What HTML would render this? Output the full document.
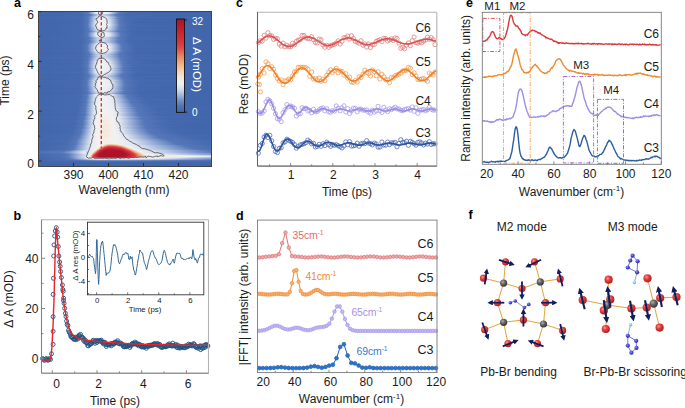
<!DOCTYPE html>
<html><head><meta charset="utf-8"><title>Figure</title>
<style>
html,body{margin:0;padding:0;background:#ffffff;width:685px;height:408px;overflow:hidden;}
svg{display:block;font-family:"Liberation Sans",sans-serif;}
</style></head><body>
<svg width="685" height="408" viewBox="0 0 685 408">
<defs>
<linearGradient id="h0" x1="38" x2="212" y1="0" y2="0" gradientUnits="userSpaceOnUse"><stop offset="0.000" stop-color="#4266ac"/><stop offset="0.247" stop-color="#4569ae"/><stop offset="0.287" stop-color="#5577b9"/><stop offset="0.305" stop-color="#839dce"/><stop offset="0.333" stop-color="#dce3f0"/><stop offset="0.345" stop-color="#eaedf2"/><stop offset="0.368" stop-color="#f1f1f2"/><stop offset="0.402" stop-color="#e4e9f2"/><stop offset="0.443" stop-color="#849ecf"/><stop offset="0.460" stop-color="#5d7ebd"/><stop offset="0.471" stop-color="#5275b7"/><stop offset="0.540" stop-color="#4367ad"/><stop offset="1.000" stop-color="#4266ac"/></linearGradient>
<linearGradient id="h1" x1="38" x2="212" y1="0" y2="0" gradientUnits="userSpaceOnUse"><stop offset="0.000" stop-color="#4266ac"/><stop offset="0.241" stop-color="#4568ae"/><stop offset="0.282" stop-color="#5275b7"/><stop offset="0.287" stop-color="#5678ba"/><stop offset="0.310" stop-color="#9bb1da"/><stop offset="0.333" stop-color="#e4e9f2"/><stop offset="0.362" stop-color="#f4f3f2"/><stop offset="0.397" stop-color="#eaedf2"/><stop offset="0.408" stop-color="#e1e6f1"/><stop offset="0.443" stop-color="#8aa3d2"/><stop offset="0.466" stop-color="#5678ba"/><stop offset="0.529" stop-color="#4468ae"/><stop offset="1.000" stop-color="#4266ac"/></linearGradient>
<linearGradient id="h2" x1="38" x2="212" y1="0" y2="0" gradientUnits="userSpaceOnUse"><stop offset="0.000" stop-color="#4367ac"/><stop offset="0.247" stop-color="#466aaf"/><stop offset="0.287" stop-color="#5577ba"/><stop offset="0.310" stop-color="#96acd7"/><stop offset="0.333" stop-color="#dbe2ef"/><stop offset="0.345" stop-color="#eaedf2"/><stop offset="0.374" stop-color="#eff0f2"/><stop offset="0.402" stop-color="#e3e8f2"/><stop offset="0.443" stop-color="#86a0d0"/><stop offset="0.466" stop-color="#5678ba"/><stop offset="0.529" stop-color="#4569ae"/><stop offset="1.000" stop-color="#4367ac"/></linearGradient>
<linearGradient id="h3" x1="38" x2="212" y1="0" y2="0" gradientUnits="userSpaceOnUse"><stop offset="0.000" stop-color="#4266ac"/><stop offset="0.259" stop-color="#4569ae"/><stop offset="0.299" stop-color="#5577b9"/><stop offset="0.339" stop-color="#b0c2e2"/><stop offset="0.356" stop-color="#c7d3e9"/><stop offset="0.379" stop-color="#c5d1e8"/><stop offset="0.408" stop-color="#a2b7dd"/><stop offset="0.448" stop-color="#5879bb"/><stop offset="0.506" stop-color="#4569ae"/><stop offset="1.000" stop-color="#4266ac"/></linearGradient>
<linearGradient id="h4" x1="38" x2="212" y1="0" y2="0" gradientUnits="userSpaceOnUse"><stop offset="0.000" stop-color="#4266ac"/><stop offset="0.253" stop-color="#4569ae"/><stop offset="0.299" stop-color="#5678ba"/><stop offset="0.339" stop-color="#b4c4e3"/><stop offset="0.356" stop-color="#cad5ea"/><stop offset="0.374" stop-color="#cbd6ea"/><stop offset="0.397" stop-color="#b7c7e4"/><stop offset="0.443" stop-color="#6786c2"/><stop offset="0.454" stop-color="#5577b9"/><stop offset="0.523" stop-color="#4468ad"/><stop offset="1.000" stop-color="#4266ac"/></linearGradient>
<linearGradient id="h5" x1="38" x2="212" y1="0" y2="0" gradientUnits="userSpaceOnUse"><stop offset="0.000" stop-color="#4367ad"/><stop offset="0.253" stop-color="#476bb0"/><stop offset="0.293" stop-color="#597abb"/><stop offset="0.328" stop-color="#b4c5e3"/><stop offset="0.345" stop-color="#d9e1ef"/><stop offset="0.356" stop-color="#e5eaf2"/><stop offset="0.385" stop-color="#e1e6f1"/><stop offset="0.408" stop-color="#c0cde7"/><stop offset="0.460" stop-color="#597bbb"/><stop offset="0.506" stop-color="#496cb1"/><stop offset="0.667" stop-color="#4367ad"/><stop offset="1.000" stop-color="#4367ad"/></linearGradient>
<linearGradient id="h6" x1="38" x2="212" y1="0" y2="0" gradientUnits="userSpaceOnUse"><stop offset="0.000" stop-color="#4468ad"/><stop offset="0.253" stop-color="#486cb0"/><stop offset="0.287" stop-color="#5678ba"/><stop offset="0.310" stop-color="#91a9d5"/><stop offset="0.339" stop-color="#e0e6f1"/><stop offset="0.362" stop-color="#eceef2"/><stop offset="0.397" stop-color="#e4e9f2"/><stop offset="0.431" stop-color="#a0b5dc"/><stop offset="0.466" stop-color="#587abb"/><stop offset="0.523" stop-color="#476bb0"/><stop offset="1.000" stop-color="#4468ad"/></linearGradient>
<linearGradient id="h7" x1="38" x2="212" y1="0" y2="0" gradientUnits="userSpaceOnUse"><stop offset="0.000" stop-color="#4266ac"/><stop offset="0.253" stop-color="#4569ae"/><stop offset="0.293" stop-color="#597abb"/><stop offset="0.328" stop-color="#bfcde6"/><stop offset="0.339" stop-color="#dde3f0"/><stop offset="0.351" stop-color="#e8ecf2"/><stop offset="0.379" stop-color="#eaedf2"/><stop offset="0.397" stop-color="#e1e7f1"/><stop offset="0.425" stop-color="#a7bbdf"/><stop offset="0.460" stop-color="#5a7bbc"/><stop offset="0.500" stop-color="#486bb0"/><stop offset="0.592" stop-color="#4266ac"/><stop offset="1.000" stop-color="#4266ac"/></linearGradient>
<linearGradient id="h8" x1="38" x2="212" y1="0" y2="0" gradientUnits="userSpaceOnUse"><stop offset="0.000" stop-color="#4367ac"/><stop offset="0.247" stop-color="#466aaf"/><stop offset="0.287" stop-color="#5678ba"/><stop offset="0.328" stop-color="#ced8eb"/><stop offset="0.339" stop-color="#e7ebf2"/><stop offset="0.368" stop-color="#f1f1f2"/><stop offset="0.402" stop-color="#e5eaf2"/><stop offset="0.431" stop-color="#a8bcdf"/><stop offset="0.466" stop-color="#5b7cbc"/><stop offset="0.494" stop-color="#4c6fb3"/><stop offset="0.598" stop-color="#4367ad"/><stop offset="1.000" stop-color="#4367ac"/></linearGradient>
<linearGradient id="h9" x1="38" x2="212" y1="0" y2="0" gradientUnits="userSpaceOnUse"><stop offset="0.000" stop-color="#4266ac"/><stop offset="0.247" stop-color="#4569ae"/><stop offset="0.287" stop-color="#5577b9"/><stop offset="0.299" stop-color="#718ec6"/><stop offset="0.328" stop-color="#ccd7eb"/><stop offset="0.339" stop-color="#e7ebf2"/><stop offset="0.368" stop-color="#f1f1f2"/><stop offset="0.402" stop-color="#e5eaf2"/><stop offset="0.437" stop-color="#99afd8"/><stop offset="0.466" stop-color="#5879bb"/><stop offset="0.517" stop-color="#4669af"/><stop offset="0.793" stop-color="#4266ac"/><stop offset="1.000" stop-color="#4266ac"/></linearGradient>
<linearGradient id="h10" x1="38" x2="212" y1="0" y2="0" gradientUnits="userSpaceOnUse"><stop offset="0.000" stop-color="#4266ac"/><stop offset="0.247" stop-color="#4569ae"/><stop offset="0.287" stop-color="#5577b9"/><stop offset="0.305" stop-color="#869fd0"/><stop offset="0.333" stop-color="#e1e7f1"/><stop offset="0.356" stop-color="#f1f1f2"/><stop offset="0.391" stop-color="#edeef2"/><stop offset="0.408" stop-color="#e0e6f1"/><stop offset="0.443" stop-color="#8ea6d4"/><stop offset="0.466" stop-color="#5a7cbc"/><stop offset="0.500" stop-color="#4a6db1"/><stop offset="0.592" stop-color="#4266ac"/><stop offset="1.000" stop-color="#4266ac"/></linearGradient>
<linearGradient id="h11" x1="38" x2="212" y1="0" y2="0" gradientUnits="userSpaceOnUse"><stop offset="0.000" stop-color="#4266ac"/><stop offset="0.247" stop-color="#4569ae"/><stop offset="0.287" stop-color="#5678ba"/><stop offset="0.310" stop-color="#9ab0d9"/><stop offset="0.333" stop-color="#e3e8f2"/><stop offset="0.356" stop-color="#f2f2f2"/><stop offset="0.391" stop-color="#edeff2"/><stop offset="0.408" stop-color="#e2e8f1"/><stop offset="0.448" stop-color="#829cce"/><stop offset="0.466" stop-color="#5c7dbd"/><stop offset="0.489" stop-color="#4e70b4"/><stop offset="0.557" stop-color="#4266ac"/><stop offset="1.000" stop-color="#4266ac"/></linearGradient>
<linearGradient id="h12" x1="38" x2="212" y1="0" y2="0" gradientUnits="userSpaceOnUse"><stop offset="0.000" stop-color="#4266ac"/><stop offset="0.241" stop-color="#4568ae"/><stop offset="0.287" stop-color="#5678ba"/><stop offset="0.328" stop-color="#d5dded"/><stop offset="0.333" stop-color="#e5e9f2"/><stop offset="0.362" stop-color="#f4f3f2"/><stop offset="0.397" stop-color="#ebeef2"/><stop offset="0.408" stop-color="#e4e9f2"/><stop offset="0.448" stop-color="#859fcf"/><stop offset="0.471" stop-color="#5577ba"/><stop offset="0.540" stop-color="#4468ad"/><stop offset="1.000" stop-color="#4266ac"/></linearGradient>
<linearGradient id="h13" x1="38" x2="212" y1="0" y2="0" gradientUnits="userSpaceOnUse"><stop offset="0.000" stop-color="#4367ad"/><stop offset="0.247" stop-color="#476bb0"/><stop offset="0.282" stop-color="#5476b9"/><stop offset="0.293" stop-color="#6b89c4"/><stop offset="0.328" stop-color="#d9e1ef"/><stop offset="0.333" stop-color="#e6eaf2"/><stop offset="0.356" stop-color="#f4f3f1"/><stop offset="0.391" stop-color="#f0f0f2"/><stop offset="0.408" stop-color="#e6eaf2"/><stop offset="0.431" stop-color="#b5c5e3"/><stop offset="0.471" stop-color="#5a7bbc"/><stop offset="0.506" stop-color="#4b6eb2"/><stop offset="0.609" stop-color="#4367ad"/><stop offset="1.000" stop-color="#4367ad"/></linearGradient>
<linearGradient id="h14" x1="38" x2="212" y1="0" y2="0" gradientUnits="userSpaceOnUse"><stop offset="0.000" stop-color="#4367ac"/><stop offset="0.247" stop-color="#476aaf"/><stop offset="0.282" stop-color="#5376b8"/><stop offset="0.287" stop-color="#5a7bbc"/><stop offset="0.328" stop-color="#d6deee"/><stop offset="0.333" stop-color="#e5eaf2"/><stop offset="0.362" stop-color="#f4f3f2"/><stop offset="0.397" stop-color="#eceef2"/><stop offset="0.408" stop-color="#e5eaf2"/><stop offset="0.443" stop-color="#97aed8"/><stop offset="0.471" stop-color="#597abb"/><stop offset="0.523" stop-color="#476bb0"/><stop offset="0.845" stop-color="#4367ac"/><stop offset="1.000" stop-color="#4367ac"/></linearGradient>
<linearGradient id="h15" x1="38" x2="212" y1="0" y2="0" gradientUnits="userSpaceOnUse"><stop offset="0.000" stop-color="#4266ac"/><stop offset="0.247" stop-color="#466aaf"/><stop offset="0.287" stop-color="#5678ba"/><stop offset="0.316" stop-color="#acbfe0"/><stop offset="0.333" stop-color="#e0e6f1"/><stop offset="0.351" stop-color="#eff0f2"/><stop offset="0.385" stop-color="#eef0f2"/><stop offset="0.408" stop-color="#e1e6f1"/><stop offset="0.454" stop-color="#7894ca"/><stop offset="0.471" stop-color="#5678ba"/><stop offset="0.540" stop-color="#4468ae"/><stop offset="1.000" stop-color="#4266ac"/></linearGradient>
<linearGradient id="h16" x1="38" x2="212" y1="0" y2="0" gradientUnits="userSpaceOnUse"><stop offset="0.000" stop-color="#4266ac"/><stop offset="0.241" stop-color="#4568ae"/><stop offset="0.287" stop-color="#5577b9"/><stop offset="0.305" stop-color="#829cce"/><stop offset="0.328" stop-color="#c9d5ea"/><stop offset="0.339" stop-color="#e5eaf2"/><stop offset="0.368" stop-color="#eff0f2"/><stop offset="0.402" stop-color="#e4e9f2"/><stop offset="0.443" stop-color="#8ea6d4"/><stop offset="0.466" stop-color="#5d7ebd"/><stop offset="0.477" stop-color="#5375b8"/><stop offset="0.540" stop-color="#4468ad"/><stop offset="1.000" stop-color="#4266ac"/></linearGradient>
<linearGradient id="h17" x1="38" x2="212" y1="0" y2="0" gradientUnits="userSpaceOnUse"><stop offset="0.000" stop-color="#4266ac"/><stop offset="0.247" stop-color="#4669af"/><stop offset="0.287" stop-color="#5577b9"/><stop offset="0.299" stop-color="#6f8cc5"/><stop offset="0.328" stop-color="#c4d1e8"/><stop offset="0.339" stop-color="#e1e7f1"/><stop offset="0.362" stop-color="#edeef2"/><stop offset="0.397" stop-color="#e5eaf2"/><stop offset="0.420" stop-color="#bdcce6"/><stop offset="0.466" stop-color="#5c7dbd"/><stop offset="0.489" stop-color="#4e71b5"/><stop offset="0.569" stop-color="#4367ad"/><stop offset="1.000" stop-color="#4266ac"/></linearGradient>
<linearGradient id="h18" x1="38" x2="212" y1="0" y2="0" gradientUnits="userSpaceOnUse"><stop offset="0.000" stop-color="#4266ac"/><stop offset="0.247" stop-color="#4569ae"/><stop offset="0.287" stop-color="#5476b8"/><stop offset="0.293" stop-color="#5a7cbc"/><stop offset="0.328" stop-color="#bbc9e5"/><stop offset="0.345" stop-color="#e1e7f1"/><stop offset="0.368" stop-color="#e9ecf2"/><stop offset="0.391" stop-color="#e4e9f2"/><stop offset="0.420" stop-color="#b5c5e3"/><stop offset="0.466" stop-color="#587abb"/><stop offset="0.529" stop-color="#4569ae"/><stop offset="1.000" stop-color="#4266ac"/></linearGradient>
<linearGradient id="h19" x1="38" x2="212" y1="0" y2="0" gradientUnits="userSpaceOnUse"><stop offset="0.000" stop-color="#4367ad"/><stop offset="0.253" stop-color="#476bb0"/><stop offset="0.293" stop-color="#5879bb"/><stop offset="0.333" stop-color="#becce6"/><stop offset="0.351" stop-color="#dce3f0"/><stop offset="0.368" stop-color="#e4e9f2"/><stop offset="0.391" stop-color="#d6dfee"/><stop offset="0.420" stop-color="#abbee0"/><stop offset="0.466" stop-color="#5678ba"/><stop offset="0.540" stop-color="#4569ae"/><stop offset="1.000" stop-color="#4367ad"/></linearGradient>
<linearGradient id="h20" x1="38" x2="212" y1="0" y2="0" gradientUnits="userSpaceOnUse"><stop offset="0.000" stop-color="#4266ac"/><stop offset="0.253" stop-color="#4569ae"/><stop offset="0.299" stop-color="#587abb"/><stop offset="0.339" stop-color="#b5c5e3"/><stop offset="0.356" stop-color="#cbd6ea"/><stop offset="0.379" stop-color="#c9d5ea"/><stop offset="0.408" stop-color="#abbee0"/><stop offset="0.460" stop-color="#5577b9"/><stop offset="0.540" stop-color="#4367ad"/><stop offset="1.000" stop-color="#4266ac"/></linearGradient>
<linearGradient id="h21" x1="38" x2="212" y1="0" y2="0" gradientUnits="userSpaceOnUse"><stop offset="0.000" stop-color="#4266ac"/><stop offset="0.247" stop-color="#4669af"/><stop offset="0.287" stop-color="#5477b9"/><stop offset="0.299" stop-color="#6d8bc4"/><stop offset="0.328" stop-color="#c0cee7"/><stop offset="0.339" stop-color="#dde3f0"/><stop offset="0.351" stop-color="#e8ecf2"/><stop offset="0.385" stop-color="#e8ecf2"/><stop offset="0.397" stop-color="#e3e8f2"/><stop offset="0.431" stop-color="#a4b8dd"/><stop offset="0.466" stop-color="#5d7ebd"/><stop offset="0.477" stop-color="#5375b8"/><stop offset="0.557" stop-color="#4367ad"/><stop offset="1.000" stop-color="#4266ac"/></linearGradient>
<linearGradient id="h22" x1="38" x2="212" y1="0" y2="0" gradientUnits="userSpaceOnUse"><stop offset="0.000" stop-color="#4266ac"/><stop offset="0.247" stop-color="#466aaf"/><stop offset="0.287" stop-color="#5678ba"/><stop offset="0.328" stop-color="#d0daec"/><stop offset="0.333" stop-color="#e1e7f1"/><stop offset="0.356" stop-color="#f1f1f2"/><stop offset="0.397" stop-color="#eaedf2"/><stop offset="0.408" stop-color="#e3e8f2"/><stop offset="0.448" stop-color="#8aa3d2"/><stop offset="0.471" stop-color="#5a7cbc"/><stop offset="0.517" stop-color="#486bb0"/><stop offset="0.667" stop-color="#4266ac"/><stop offset="1.000" stop-color="#4266ac"/></linearGradient>
<linearGradient id="h23" x1="38" x2="212" y1="0" y2="0" gradientUnits="userSpaceOnUse"><stop offset="0.000" stop-color="#4266ac"/><stop offset="0.247" stop-color="#466aaf"/><stop offset="0.282" stop-color="#5376b8"/><stop offset="0.287" stop-color="#597bbb"/><stop offset="0.328" stop-color="#d7dfee"/><stop offset="0.333" stop-color="#e5eaf2"/><stop offset="0.362" stop-color="#f4f2f1"/><stop offset="0.397" stop-color="#eceef2"/><stop offset="0.414" stop-color="#dee5f0"/><stop offset="0.454" stop-color="#829cce"/><stop offset="0.477" stop-color="#5577ba"/><stop offset="0.546" stop-color="#4468ae"/><stop offset="1.000" stop-color="#4266ac"/></linearGradient>
<linearGradient id="h24" x1="38" x2="212" y1="0" y2="0" gradientUnits="userSpaceOnUse"><stop offset="0.000" stop-color="#4266ac"/><stop offset="0.247" stop-color="#466aaf"/><stop offset="0.282" stop-color="#5376b8"/><stop offset="0.287" stop-color="#597bbb"/><stop offset="0.328" stop-color="#d5dded"/><stop offset="0.333" stop-color="#e4e9f2"/><stop offset="0.362" stop-color="#f4f3f2"/><stop offset="0.402" stop-color="#e9ecf2"/><stop offset="0.414" stop-color="#dde3f0"/><stop offset="0.454" stop-color="#829cce"/><stop offset="0.477" stop-color="#5678ba"/><stop offset="0.540" stop-color="#4569ae"/><stop offset="1.000" stop-color="#4266ac"/></linearGradient>
<linearGradient id="h25" x1="38" x2="212" y1="0" y2="0" gradientUnits="userSpaceOnUse"><stop offset="0.000" stop-color="#4266ac"/><stop offset="0.247" stop-color="#466aaf"/><stop offset="0.287" stop-color="#5577ba"/><stop offset="0.316" stop-color="#a6bade"/><stop offset="0.339" stop-color="#e4e9f2"/><stop offset="0.368" stop-color="#eeeff2"/><stop offset="0.402" stop-color="#e3e9f2"/><stop offset="0.448" stop-color="#87a0d0"/><stop offset="0.471" stop-color="#597bbc"/><stop offset="0.529" stop-color="#466aaf"/><stop offset="1.000" stop-color="#4266ac"/></linearGradient>
<linearGradient id="h26" x1="38" x2="212" y1="0" y2="0" gradientUnits="userSpaceOnUse"><stop offset="0.000" stop-color="#4367ad"/><stop offset="0.247" stop-color="#476aaf"/><stop offset="0.293" stop-color="#5678ba"/><stop offset="0.333" stop-color="#b6c6e3"/><stop offset="0.356" stop-color="#d7dfee"/><stop offset="0.379" stop-color="#d6deee"/><stop offset="0.408" stop-color="#b8c8e4"/><stop offset="0.466" stop-color="#5879bb"/><stop offset="0.534" stop-color="#466aaf"/><stop offset="1.000" stop-color="#4367ad"/></linearGradient>
<linearGradient id="h27" x1="38" x2="212" y1="0" y2="0" gradientUnits="userSpaceOnUse"><stop offset="0.000" stop-color="#4266ac"/><stop offset="0.253" stop-color="#466aaf"/><stop offset="0.293" stop-color="#5476b9"/><stop offset="0.305" stop-color="#6887c2"/><stop offset="0.339" stop-color="#b7c7e4"/><stop offset="0.356" stop-color="#cdd7eb"/><stop offset="0.379" stop-color="#ccd6ea"/><stop offset="0.408" stop-color="#afc0e1"/><stop offset="0.460" stop-color="#597bbc"/><stop offset="0.523" stop-color="#466aaf"/><stop offset="0.937" stop-color="#4266ac"/><stop offset="1.000" stop-color="#4266ac"/></linearGradient>
<linearGradient id="h28" x1="38" x2="212" y1="0" y2="0" gradientUnits="userSpaceOnUse"><stop offset="0.000" stop-color="#4467ad"/><stop offset="0.253" stop-color="#486bb0"/><stop offset="0.293" stop-color="#5678ba"/><stop offset="0.339" stop-color="#bdcce6"/><stop offset="0.356" stop-color="#d3dced"/><stop offset="0.379" stop-color="#d2dbec"/><stop offset="0.408" stop-color="#b5c5e3"/><stop offset="0.466" stop-color="#5879bb"/><stop offset="0.529" stop-color="#476bb0"/><stop offset="1.000" stop-color="#4467ad"/></linearGradient>
<linearGradient id="h29" x1="38" x2="212" y1="0" y2="0" gradientUnits="userSpaceOnUse"><stop offset="0.000" stop-color="#4266ac"/><stop offset="0.253" stop-color="#4669af"/><stop offset="0.293" stop-color="#5476b9"/><stop offset="0.305" stop-color="#6786c2"/><stop offset="0.339" stop-color="#b6c6e3"/><stop offset="0.356" stop-color="#ccd7ea"/><stop offset="0.379" stop-color="#cbd6ea"/><stop offset="0.408" stop-color="#aec0e1"/><stop offset="0.460" stop-color="#5a7bbc"/><stop offset="0.517" stop-color="#476aaf"/><stop offset="0.707" stop-color="#4266ac"/><stop offset="1.000" stop-color="#4266ac"/></linearGradient>
<linearGradient id="h30" x1="38" x2="212" y1="0" y2="0" gradientUnits="userSpaceOnUse"><stop offset="0.000" stop-color="#4266ac"/><stop offset="0.247" stop-color="#4568ae"/><stop offset="0.293" stop-color="#5476b8"/><stop offset="0.299" stop-color="#597bbc"/><stop offset="0.339" stop-color="#b6c6e3"/><stop offset="0.356" stop-color="#cbd6ea"/><stop offset="0.379" stop-color="#cad5ea"/><stop offset="0.408" stop-color="#aec0e1"/><stop offset="0.460" stop-color="#5a7bbc"/><stop offset="0.517" stop-color="#476aaf"/><stop offset="0.690" stop-color="#4266ac"/><stop offset="1.000" stop-color="#4266ac"/></linearGradient>
<linearGradient id="h31" x1="38" x2="212" y1="0" y2="0" gradientUnits="userSpaceOnUse"><stop offset="0.000" stop-color="#4266ac"/><stop offset="0.253" stop-color="#466aaf"/><stop offset="0.293" stop-color="#5477b9"/><stop offset="0.305" stop-color="#6988c3"/><stop offset="0.339" stop-color="#b8c7e4"/><stop offset="0.356" stop-color="#cdd8eb"/><stop offset="0.379" stop-color="#ccd7eb"/><stop offset="0.408" stop-color="#b0c2e2"/><stop offset="0.466" stop-color="#5577ba"/><stop offset="0.552" stop-color="#4468ad"/><stop offset="1.000" stop-color="#4266ac"/></linearGradient>
<linearGradient id="h32" x1="38" x2="212" y1="0" y2="0" gradientUnits="userSpaceOnUse"><stop offset="0.000" stop-color="#4266ac"/><stop offset="0.247" stop-color="#466aaf"/><stop offset="0.287" stop-color="#5477b9"/><stop offset="0.299" stop-color="#6c8ac4"/><stop offset="0.333" stop-color="#cad5ea"/><stop offset="0.345" stop-color="#e2e7f1"/><stop offset="0.374" stop-color="#e9ecf2"/><stop offset="0.397" stop-color="#dfe5f0"/><stop offset="0.431" stop-color="#a6b9de"/><stop offset="0.471" stop-color="#597bbb"/><stop offset="0.523" stop-color="#486bb0"/><stop offset="0.707" stop-color="#4266ac"/><stop offset="1.000" stop-color="#4266ac"/></linearGradient>
<linearGradient id="h33" x1="38" x2="212" y1="0" y2="0" gradientUnits="userSpaceOnUse"><stop offset="0.000" stop-color="#4266ac"/><stop offset="0.247" stop-color="#466aaf"/><stop offset="0.287" stop-color="#5678ba"/><stop offset="0.322" stop-color="#b7c7e4"/><stop offset="0.339" stop-color="#e4e9f2"/><stop offset="0.368" stop-color="#eeeff2"/><stop offset="0.402" stop-color="#e4e9f2"/><stop offset="0.437" stop-color="#a4b8de"/><stop offset="0.477" stop-color="#5678ba"/><stop offset="0.546" stop-color="#4569ae"/><stop offset="1.000" stop-color="#4266ac"/></linearGradient>
<linearGradient id="h34" x1="38" x2="212" y1="0" y2="0" gradientUnits="userSpaceOnUse"><stop offset="0.000" stop-color="#4367ad"/><stop offset="0.241" stop-color="#466aaf"/><stop offset="0.282" stop-color="#5476b9"/><stop offset="0.293" stop-color="#6b8ac4"/><stop offset="0.328" stop-color="#d4dded"/><stop offset="0.333" stop-color="#e4e9f2"/><stop offset="0.368" stop-color="#f3f2f2"/><stop offset="0.408" stop-color="#e6eaf2"/><stop offset="0.443" stop-color="#a3b8dd"/><stop offset="0.477" stop-color="#5e7ebd"/><stop offset="0.489" stop-color="#5376b8"/><stop offset="0.569" stop-color="#4568ae"/><stop offset="1.000" stop-color="#4367ad"/></linearGradient>
<linearGradient id="h35" x1="38" x2="212" y1="0" y2="0" gradientUnits="userSpaceOnUse"><stop offset="0.000" stop-color="#4367ad"/><stop offset="0.241" stop-color="#466aaf"/><stop offset="0.282" stop-color="#5577b9"/><stop offset="0.293" stop-color="#6e8bc5"/><stop offset="0.328" stop-color="#d9e0ee"/><stop offset="0.333" stop-color="#e6eaf2"/><stop offset="0.362" stop-color="#f4f2f1"/><stop offset="0.397" stop-color="#edeff2"/><stop offset="0.414" stop-color="#e4e9f2"/><stop offset="0.460" stop-color="#829cce"/><stop offset="0.483" stop-color="#5678ba"/><stop offset="0.557" stop-color="#4569ae"/><stop offset="1.000" stop-color="#4367ad"/></linearGradient>
<linearGradient id="h36" x1="38" x2="212" y1="0" y2="0" gradientUnits="userSpaceOnUse"><stop offset="0.000" stop-color="#4266ac"/><stop offset="0.247" stop-color="#476aaf"/><stop offset="0.282" stop-color="#5476b9"/><stop offset="0.293" stop-color="#6d8bc4"/><stop offset="0.328" stop-color="#d9e1ef"/><stop offset="0.333" stop-color="#e6eaf2"/><stop offset="0.356" stop-color="#f4f3f2"/><stop offset="0.397" stop-color="#eeeff2"/><stop offset="0.414" stop-color="#e4e9f2"/><stop offset="0.460" stop-color="#829cce"/><stop offset="0.483" stop-color="#5678ba"/><stop offset="0.552" stop-color="#4569ae"/><stop offset="1.000" stop-color="#4266ac"/></linearGradient>
<linearGradient id="h37" x1="38" x2="212" y1="0" y2="0" gradientUnits="userSpaceOnUse"><stop offset="0.000" stop-color="#4266ac"/><stop offset="0.247" stop-color="#466aaf"/><stop offset="0.282" stop-color="#5376b8"/><stop offset="0.287" stop-color="#5a7bbc"/><stop offset="0.328" stop-color="#d7dfee"/><stop offset="0.333" stop-color="#e5eaf2"/><stop offset="0.362" stop-color="#f4f3f2"/><stop offset="0.402" stop-color="#eaedf2"/><stop offset="0.414" stop-color="#e3e8f2"/><stop offset="0.460" stop-color="#7f9acd"/><stop offset="0.483" stop-color="#5577b9"/><stop offset="0.557" stop-color="#4468ad"/><stop offset="1.000" stop-color="#4266ac"/></linearGradient>
<linearGradient id="h38" x1="38" x2="212" y1="0" y2="0" gradientUnits="userSpaceOnUse"><stop offset="0.000" stop-color="#4266ac"/><stop offset="0.247" stop-color="#466aaf"/><stop offset="0.282" stop-color="#5476b8"/><stop offset="0.287" stop-color="#5a7bbc"/><stop offset="0.328" stop-color="#d6deee"/><stop offset="0.333" stop-color="#e5e9f2"/><stop offset="0.362" stop-color="#f4f3f2"/><stop offset="0.408" stop-color="#e7ebf2"/><stop offset="0.420" stop-color="#d7dfee"/><stop offset="0.477" stop-color="#5e7fbe"/><stop offset="0.489" stop-color="#5375b8"/><stop offset="0.569" stop-color="#4367ad"/><stop offset="1.000" stop-color="#4266ac"/></linearGradient>
<linearGradient id="h39" x1="38" x2="212" y1="0" y2="0" gradientUnits="userSpaceOnUse"><stop offset="0.000" stop-color="#4367ad"/><stop offset="0.241" stop-color="#476aaf"/><stop offset="0.282" stop-color="#5577b9"/><stop offset="0.293" stop-color="#6e8bc5"/><stop offset="0.328" stop-color="#d7dfee"/><stop offset="0.333" stop-color="#e5eaf2"/><stop offset="0.362" stop-color="#f4f3f2"/><stop offset="0.408" stop-color="#e7ebf2"/><stop offset="0.420" stop-color="#d8e0ee"/><stop offset="0.477" stop-color="#6383c0"/><stop offset="0.489" stop-color="#5477b9"/><stop offset="0.563" stop-color="#4569ae"/><stop offset="1.000" stop-color="#4367ad"/></linearGradient>
<linearGradient id="h40" x1="38" x2="212" y1="0" y2="0" gradientUnits="userSpaceOnUse"><stop offset="0.000" stop-color="#4266ac"/><stop offset="0.247" stop-color="#466aaf"/><stop offset="0.287" stop-color="#5779ba"/><stop offset="0.322" stop-color="#bbcae5"/><stop offset="0.339" stop-color="#e6eaf2"/><stop offset="0.374" stop-color="#eff0f2"/><stop offset="0.408" stop-color="#e1e7f1"/><stop offset="0.448" stop-color="#93aad6"/><stop offset="0.477" stop-color="#5c7dbd"/><stop offset="0.494" stop-color="#5173b6"/><stop offset="0.575" stop-color="#4367ad"/><stop offset="1.000" stop-color="#4266ac"/></linearGradient>
<linearGradient id="h41" x1="38" x2="212" y1="0" y2="0" gradientUnits="userSpaceOnUse"><stop offset="0.000" stop-color="#4266ac"/><stop offset="0.247" stop-color="#4568ae"/><stop offset="0.287" stop-color="#5476b8"/><stop offset="0.293" stop-color="#5b7cbc"/><stop offset="0.328" stop-color="#bccae5"/><stop offset="0.345" stop-color="#e2e8f2"/><stop offset="0.374" stop-color="#e9ecf2"/><stop offset="0.397" stop-color="#e0e6f1"/><stop offset="0.431" stop-color="#a8bbdf"/><stop offset="0.471" stop-color="#5b7cbc"/><stop offset="0.506" stop-color="#4b6eb2"/><stop offset="0.598" stop-color="#4266ac"/><stop offset="1.000" stop-color="#4266ac"/></linearGradient>
<linearGradient id="h42" x1="38" x2="212" y1="0" y2="0" gradientUnits="userSpaceOnUse"><stop offset="0.000" stop-color="#4266ac"/><stop offset="0.247" stop-color="#4569ae"/><stop offset="0.293" stop-color="#5678ba"/><stop offset="0.333" stop-color="#bbcae5"/><stop offset="0.351" stop-color="#d9e1ef"/><stop offset="0.368" stop-color="#e2e7f1"/><stop offset="0.391" stop-color="#d5deed"/><stop offset="0.420" stop-color="#b0c1e1"/><stop offset="0.471" stop-color="#5678ba"/><stop offset="0.552" stop-color="#4468ad"/><stop offset="1.000" stop-color="#4266ac"/></linearGradient>
<linearGradient id="h43" x1="38" x2="212" y1="0" y2="0" gradientUnits="userSpaceOnUse"><stop offset="0.000" stop-color="#4266ac"/><stop offset="0.247" stop-color="#4568ae"/><stop offset="0.293" stop-color="#5476b9"/><stop offset="0.299" stop-color="#5a7cbc"/><stop offset="0.339" stop-color="#b6c6e3"/><stop offset="0.356" stop-color="#cbd6ea"/><stop offset="0.379" stop-color="#cad5ea"/><stop offset="0.408" stop-color="#b0c2e2"/><stop offset="0.466" stop-color="#5879bb"/><stop offset="0.534" stop-color="#4569ae"/><stop offset="1.000" stop-color="#4266ac"/></linearGradient>
<linearGradient id="h44" x1="38" x2="212" y1="0" y2="0" gradientUnits="userSpaceOnUse"><stop offset="0.000" stop-color="#4367ad"/><stop offset="0.253" stop-color="#476bb0"/><stop offset="0.293" stop-color="#5678ba"/><stop offset="0.333" stop-color="#b2c3e2"/><stop offset="0.356" stop-color="#d1dbec"/><stop offset="0.379" stop-color="#d1daec"/><stop offset="0.414" stop-color="#b0c1e1"/><stop offset="0.471" stop-color="#5779ba"/><stop offset="0.546" stop-color="#466aaf"/><stop offset="1.000" stop-color="#4367ad"/></linearGradient>
<linearGradient id="h45" x1="38" x2="212" y1="0" y2="0" gradientUnits="userSpaceOnUse"><stop offset="0.000" stop-color="#4266ac"/><stop offset="0.253" stop-color="#466aaf"/><stop offset="0.293" stop-color="#5477b9"/><stop offset="0.305" stop-color="#6a88c3"/><stop offset="0.339" stop-color="#b8c7e4"/><stop offset="0.356" stop-color="#cdd7eb"/><stop offset="0.379" stop-color="#ccd7ea"/><stop offset="0.414" stop-color="#abbee0"/><stop offset="0.471" stop-color="#5577b9"/><stop offset="0.557" stop-color="#4468ad"/><stop offset="1.000" stop-color="#4266ac"/></linearGradient>
<linearGradient id="h46" x1="38" x2="212" y1="0" y2="0" gradientUnits="userSpaceOnUse"><stop offset="0.000" stop-color="#4468ae"/><stop offset="0.247" stop-color="#486bb0"/><stop offset="0.287" stop-color="#5476b9"/><stop offset="0.299" stop-color="#6685c1"/><stop offset="0.333" stop-color="#b6c6e3"/><stop offset="0.351" stop-color="#d1daec"/><stop offset="0.368" stop-color="#d8e0ee"/><stop offset="0.391" stop-color="#cdd8eb"/><stop offset="0.425" stop-color="#a4b8de"/><stop offset="0.477" stop-color="#5678ba"/><stop offset="0.557" stop-color="#466aaf"/><stop offset="1.000" stop-color="#4468ae"/></linearGradient>
<linearGradient id="h47" x1="38" x2="212" y1="0" y2="0" gradientUnits="userSpaceOnUse"><stop offset="0.000" stop-color="#4367ac"/><stop offset="0.253" stop-color="#476bb0"/><stop offset="0.287" stop-color="#5476b8"/><stop offset="0.299" stop-color="#6786c2"/><stop offset="0.333" stop-color="#becce6"/><stop offset="0.351" stop-color="#dbe2ef"/><stop offset="0.368" stop-color="#e3e8f2"/><stop offset="0.397" stop-color="#d2dbec"/><stop offset="0.431" stop-color="#a1b6dc"/><stop offset="0.477" stop-color="#5678ba"/><stop offset="0.557" stop-color="#4569ae"/><stop offset="1.000" stop-color="#4367ac"/></linearGradient>
<linearGradient id="h48" x1="38" x2="212" y1="0" y2="0" gradientUnits="userSpaceOnUse"><stop offset="0.000" stop-color="#4266ac"/><stop offset="0.247" stop-color="#466aaf"/><stop offset="0.287" stop-color="#5577b9"/><stop offset="0.299" stop-color="#6c8ac4"/><stop offset="0.333" stop-color="#c9d5e9"/><stop offset="0.345" stop-color="#e0e6f1"/><stop offset="0.368" stop-color="#e8ecf2"/><stop offset="0.397" stop-color="#dfe5f0"/><stop offset="0.431" stop-color="#abbee0"/><stop offset="0.477" stop-color="#597bbb"/><stop offset="0.534" stop-color="#476bb0"/><stop offset="0.782" stop-color="#4266ac"/><stop offset="1.000" stop-color="#4266ac"/></linearGradient>
<linearGradient id="h49" x1="38" x2="212" y1="0" y2="0" gradientUnits="userSpaceOnUse"><stop offset="0.000" stop-color="#4266ac"/><stop offset="0.247" stop-color="#4669af"/><stop offset="0.287" stop-color="#5577b9"/><stop offset="0.305" stop-color="#7f9acd"/><stop offset="0.333" stop-color="#d0daec"/><stop offset="0.345" stop-color="#e5eaf2"/><stop offset="0.379" stop-color="#eaedf2"/><stop offset="0.402" stop-color="#e0e6f1"/><stop offset="0.448" stop-color="#90a8d4"/><stop offset="0.477" stop-color="#5b7cbc"/><stop offset="0.511" stop-color="#4c6fb3"/><stop offset="0.609" stop-color="#4266ac"/><stop offset="1.000" stop-color="#4266ac"/></linearGradient>
<linearGradient id="h50" x1="38" x2="212" y1="0" y2="0" gradientUnits="userSpaceOnUse"><stop offset="0.000" stop-color="#4367ad"/><stop offset="0.247" stop-color="#476bb0"/><stop offset="0.282" stop-color="#5476b8"/><stop offset="0.287" stop-color="#5a7cbc"/><stop offset="0.333" stop-color="#dde3f0"/><stop offset="0.345" stop-color="#eaecf2"/><stop offset="0.379" stop-color="#eeeff2"/><stop offset="0.408" stop-color="#e4e9f2"/><stop offset="0.454" stop-color="#8fa7d4"/><stop offset="0.483" stop-color="#5b7cbc"/><stop offset="0.517" stop-color="#4c6fb3"/><stop offset="0.632" stop-color="#4367ad"/><stop offset="1.000" stop-color="#4367ad"/></linearGradient>
<linearGradient id="h51" x1="38" x2="212" y1="0" y2="0" gradientUnits="userSpaceOnUse"><stop offset="0.000" stop-color="#4266ac"/><stop offset="0.247" stop-color="#466aaf"/><stop offset="0.287" stop-color="#587abb"/><stop offset="0.328" stop-color="#ced8eb"/><stop offset="0.333" stop-color="#dee4f0"/><stop offset="0.351" stop-color="#edeff2"/><stop offset="0.385" stop-color="#eeeff2"/><stop offset="0.408" stop-color="#e5e9f2"/><stop offset="0.448" stop-color="#9bb1d9"/><stop offset="0.483" stop-color="#5a7bbc"/><stop offset="0.523" stop-color="#4a6db2"/><stop offset="0.638" stop-color="#4266ac"/><stop offset="1.000" stop-color="#4266ac"/></linearGradient>
<linearGradient id="h52" x1="38" x2="212" y1="0" y2="0" gradientUnits="userSpaceOnUse"><stop offset="0.000" stop-color="#4266ac"/><stop offset="0.241" stop-color="#4568ae"/><stop offset="0.282" stop-color="#5375b8"/><stop offset="0.287" stop-color="#5879bb"/><stop offset="0.328" stop-color="#d0daec"/><stop offset="0.333" stop-color="#e0e6f1"/><stop offset="0.356" stop-color="#f0f1f2"/><stop offset="0.397" stop-color="#ebedf2"/><stop offset="0.414" stop-color="#dfe5f1"/><stop offset="0.460" stop-color="#849ecf"/><stop offset="0.483" stop-color="#5a7bbc"/><stop offset="0.523" stop-color="#4a6db2"/><stop offset="0.626" stop-color="#4266ac"/><stop offset="1.000" stop-color="#4266ac"/></linearGradient>
<linearGradient id="h53" x1="38" x2="212" y1="0" y2="0" gradientUnits="userSpaceOnUse"><stop offset="0.000" stop-color="#4367ac"/><stop offset="0.241" stop-color="#466aaf"/><stop offset="0.282" stop-color="#5577b9"/><stop offset="0.293" stop-color="#6e8cc5"/><stop offset="0.328" stop-color="#d8e0ee"/><stop offset="0.333" stop-color="#e5eaf2"/><stop offset="0.362" stop-color="#f4f3f2"/><stop offset="0.408" stop-color="#e8ecf2"/><stop offset="0.420" stop-color="#dee4f0"/><stop offset="0.466" stop-color="#819bce"/><stop offset="0.489" stop-color="#5879bb"/><stop offset="0.546" stop-color="#476bb0"/><stop offset="0.914" stop-color="#4367ac"/><stop offset="1.000" stop-color="#4367ac"/></linearGradient>
<linearGradient id="h54" x1="38" x2="212" y1="0" y2="0" gradientUnits="userSpaceOnUse"><stop offset="0.000" stop-color="#4266ac"/><stop offset="0.241" stop-color="#4669af"/><stop offset="0.282" stop-color="#5476b9"/><stop offset="0.293" stop-color="#6d8bc4"/><stop offset="0.322" stop-color="#c7d3e9"/><stop offset="0.333" stop-color="#e5eaf2"/><stop offset="0.362" stop-color="#f4f3f2"/><stop offset="0.402" stop-color="#ebeef2"/><stop offset="0.420" stop-color="#dee5f0"/><stop offset="0.460" stop-color="#8ca5d3"/><stop offset="0.489" stop-color="#5779ba"/><stop offset="0.557" stop-color="#4569ae"/><stop offset="1.000" stop-color="#4266ac"/></linearGradient>
<linearGradient id="h55" x1="38" x2="212" y1="0" y2="0" gradientUnits="userSpaceOnUse"><stop offset="0.000" stop-color="#4367ad"/><stop offset="0.241" stop-color="#476aaf"/><stop offset="0.282" stop-color="#5678ba"/><stop offset="0.299" stop-color="#839dcf"/><stop offset="0.328" stop-color="#dee4f0"/><stop offset="0.345" stop-color="#f0f0f2"/><stop offset="0.379" stop-color="#f4f2f0"/><stop offset="0.420" stop-color="#e4e9f2"/><stop offset="0.466" stop-color="#87a0d0"/><stop offset="0.494" stop-color="#5577ba"/><stop offset="0.575" stop-color="#4569ae"/><stop offset="1.000" stop-color="#4367ad"/></linearGradient>
<linearGradient id="h56" x1="38" x2="212" y1="0" y2="0" gradientUnits="userSpaceOnUse"><stop offset="0.000" stop-color="#4266ac"/><stop offset="0.241" stop-color="#4669af"/><stop offset="0.282" stop-color="#5476b9"/><stop offset="0.293" stop-color="#6d8bc5"/><stop offset="0.328" stop-color="#d9e1ef"/><stop offset="0.333" stop-color="#e6eaf2"/><stop offset="0.362" stop-color="#f4f2f1"/><stop offset="0.408" stop-color="#e9ecf2"/><stop offset="0.420" stop-color="#e0e6f1"/><stop offset="0.489" stop-color="#587abb"/><stop offset="0.552" stop-color="#466aaf"/><stop offset="1.000" stop-color="#4266ac"/></linearGradient>
<linearGradient id="h57" x1="38" x2="212" y1="0" y2="0" gradientUnits="userSpaceOnUse"><stop offset="0.000" stop-color="#4266ac"/><stop offset="0.253" stop-color="#4569ae"/><stop offset="0.287" stop-color="#5577b9"/><stop offset="0.305" stop-color="#859fcf"/><stop offset="0.328" stop-color="#ced8eb"/><stop offset="0.339" stop-color="#e7ebf2"/><stop offset="0.368" stop-color="#f1f1f2"/><stop offset="0.408" stop-color="#e5eaf2"/><stop offset="0.425" stop-color="#cad5ea"/><stop offset="0.483" stop-color="#5779bb"/><stop offset="0.552" stop-color="#4367ad"/><stop offset="1.000" stop-color="#4266ac"/></linearGradient>
<linearGradient id="h58" x1="38" x2="212" y1="0" y2="0" gradientUnits="userSpaceOnUse"><stop offset="0.000" stop-color="#4367ad"/><stop offset="0.241" stop-color="#466aaf"/><stop offset="0.282" stop-color="#5577b9"/><stop offset="0.299" stop-color="#809bcd"/><stop offset="0.328" stop-color="#dae1ef"/><stop offset="0.333" stop-color="#e6eaf2"/><stop offset="0.362" stop-color="#f4f3f1"/><stop offset="0.408" stop-color="#e9ecf2"/><stop offset="0.420" stop-color="#e0e6f1"/><stop offset="0.477" stop-color="#708dc6"/><stop offset="0.494" stop-color="#5577b9"/><stop offset="0.575" stop-color="#4569ae"/><stop offset="1.000" stop-color="#4367ad"/></linearGradient>
<linearGradient id="h59" x1="38" x2="212" y1="0" y2="0" gradientUnits="userSpaceOnUse"><stop offset="0.000" stop-color="#4266ac"/><stop offset="0.247" stop-color="#4569ae"/><stop offset="0.287" stop-color="#5678ba"/><stop offset="0.310" stop-color="#98aed8"/><stop offset="0.333" stop-color="#dce3f0"/><stop offset="0.345" stop-color="#eaedf2"/><stop offset="0.379" stop-color="#eff0f2"/><stop offset="0.408" stop-color="#e5eaf2"/><stop offset="0.443" stop-color="#a8bbdf"/><stop offset="0.483" stop-color="#5a7cbc"/><stop offset="0.529" stop-color="#486cb0"/><stop offset="0.638" stop-color="#4266ac"/><stop offset="1.000" stop-color="#4266ac"/></linearGradient>
<linearGradient id="h60" x1="38" x2="212" y1="0" y2="0" gradientUnits="userSpaceOnUse"><stop offset="0.000" stop-color="#4467ad"/><stop offset="0.241" stop-color="#476bb0"/><stop offset="0.282" stop-color="#5577b9"/><stop offset="0.299" stop-color="#7f9acd"/><stop offset="0.328" stop-color="#d6deed"/><stop offset="0.333" stop-color="#e4e9f2"/><stop offset="0.362" stop-color="#f2f2f2"/><stop offset="0.408" stop-color="#e8ebf2"/><stop offset="0.420" stop-color="#dde3f0"/><stop offset="0.466" stop-color="#859fd0"/><stop offset="0.494" stop-color="#5678ba"/><stop offset="0.580" stop-color="#4569ae"/><stop offset="1.000" stop-color="#4467ad"/></linearGradient>
<linearGradient id="h61" x1="38" x2="212" y1="0" y2="0" gradientUnits="userSpaceOnUse"><stop offset="0.000" stop-color="#4468ad"/><stop offset="0.247" stop-color="#486cb0"/><stop offset="0.282" stop-color="#5577b9"/><stop offset="0.293" stop-color="#6e8cc5"/><stop offset="0.328" stop-color="#d1dbec"/><stop offset="0.333" stop-color="#e0e6f1"/><stop offset="0.356" stop-color="#eff0f2"/><stop offset="0.402" stop-color="#e9ecf2"/><stop offset="0.414" stop-color="#e2e7f1"/><stop offset="0.460" stop-color="#8fa7d4"/><stop offset="0.494" stop-color="#5678ba"/><stop offset="0.575" stop-color="#466aaf"/><stop offset="1.000" stop-color="#4468ad"/></linearGradient>
<linearGradient id="h62" x1="38" x2="212" y1="0" y2="0" gradientUnits="userSpaceOnUse"><stop offset="0.000" stop-color="#4266ac"/><stop offset="0.247" stop-color="#466aaf"/><stop offset="0.287" stop-color="#5577ba"/><stop offset="0.328" stop-color="#c2cfe7"/><stop offset="0.339" stop-color="#dee4f0"/><stop offset="0.356" stop-color="#eaedf2"/><stop offset="0.397" stop-color="#e6eaf2"/><stop offset="0.420" stop-color="#cad5ea"/><stop offset="0.471" stop-color="#6d8bc5"/><stop offset="0.489" stop-color="#5577b9"/><stop offset="0.569" stop-color="#4468ad"/><stop offset="1.000" stop-color="#4266ac"/></linearGradient>
<linearGradient id="h63" x1="38" x2="212" y1="0" y2="0" gradientUnits="userSpaceOnUse"><stop offset="0.000" stop-color="#4266ac"/><stop offset="0.247" stop-color="#4569ae"/><stop offset="0.287" stop-color="#5476b8"/><stop offset="0.299" stop-color="#6988c3"/><stop offset="0.333" stop-color="#c5d1e8"/><stop offset="0.351" stop-color="#e4e9f2"/><stop offset="0.385" stop-color="#e5e9f2"/><stop offset="0.414" stop-color="#c7d3e9"/><stop offset="0.460" stop-color="#7a95ca"/><stop offset="0.483" stop-color="#5678ba"/><stop offset="0.557" stop-color="#4468ae"/><stop offset="1.000" stop-color="#4266ac"/></linearGradient>
<linearGradient id="h64" x1="38" x2="212" y1="0" y2="0" gradientUnits="userSpaceOnUse"><stop offset="0.000" stop-color="#4266ac"/><stop offset="0.247" stop-color="#4568ae"/><stop offset="0.293" stop-color="#5577ba"/><stop offset="0.333" stop-color="#b7c6e4"/><stop offset="0.351" stop-color="#d3dced"/><stop offset="0.368" stop-color="#dbe2ef"/><stop offset="0.397" stop-color="#ccd7ea"/><stop offset="0.431" stop-color="#a0b4dc"/><stop offset="0.477" stop-color="#5678ba"/><stop offset="0.563" stop-color="#4367ad"/><stop offset="1.000" stop-color="#4266ac"/></linearGradient>
<linearGradient id="h65" x1="38" x2="212" y1="0" y2="0" gradientUnits="userSpaceOnUse"><stop offset="0.000" stop-color="#4367ad"/><stop offset="0.247" stop-color="#466aaf"/><stop offset="0.293" stop-color="#5678ba"/><stop offset="0.333" stop-color="#b1c2e2"/><stop offset="0.351" stop-color="#ccd6ea"/><stop offset="0.368" stop-color="#d3dced"/><stop offset="0.397" stop-color="#c5d1e8"/><stop offset="0.437" stop-color="#94abd6"/><stop offset="0.477" stop-color="#597abb"/><stop offset="0.546" stop-color="#476bb0"/><stop offset="1.000" stop-color="#4367ad"/></linearGradient>
<linearGradient id="h66" x1="38" x2="212" y1="0" y2="0" gradientUnits="userSpaceOnUse"><stop offset="0.000" stop-color="#4266ac"/><stop offset="0.247" stop-color="#4669af"/><stop offset="0.287" stop-color="#5476b9"/><stop offset="0.299" stop-color="#6a88c3"/><stop offset="0.328" stop-color="#b5c5e3"/><stop offset="0.351" stop-color="#e0e6f1"/><stop offset="0.379" stop-color="#e4e9f2"/><stop offset="0.402" stop-color="#d3dcec"/><stop offset="0.443" stop-color="#98aed8"/><stop offset="0.483" stop-color="#5779bb"/><stop offset="0.557" stop-color="#4569ae"/><stop offset="1.000" stop-color="#4266ac"/></linearGradient>
<linearGradient id="h67" x1="38" x2="212" y1="0" y2="0" gradientUnits="userSpaceOnUse"><stop offset="0.000" stop-color="#4266ac"/><stop offset="0.241" stop-color="#4568ae"/><stop offset="0.287" stop-color="#5577b9"/><stop offset="0.310" stop-color="#8fa7d4"/><stop offset="0.339" stop-color="#d9e1ee"/><stop offset="0.345" stop-color="#e4e9f2"/><stop offset="0.379" stop-color="#e8ecf2"/><stop offset="0.402" stop-color="#dee4f0"/><stop offset="0.448" stop-color="#96add7"/><stop offset="0.483" stop-color="#5b7cbc"/><stop offset="0.517" stop-color="#4c6fb3"/><stop offset="0.632" stop-color="#4266ac"/><stop offset="1.000" stop-color="#4266ac"/></linearGradient>
<linearGradient id="h68" x1="38" x2="212" y1="0" y2="0" gradientUnits="userSpaceOnUse"><stop offset="0.000" stop-color="#4266ac"/><stop offset="0.247" stop-color="#466aaf"/><stop offset="0.287" stop-color="#5779ba"/><stop offset="0.328" stop-color="#c8d3e9"/><stop offset="0.339" stop-color="#e3e8f2"/><stop offset="0.368" stop-color="#edeff2"/><stop offset="0.402" stop-color="#e5eaf2"/><stop offset="0.425" stop-color="#c7d3e9"/><stop offset="0.489" stop-color="#587abb"/><stop offset="0.557" stop-color="#466aaf"/><stop offset="0.971" stop-color="#4266ac"/><stop offset="1.000" stop-color="#4266ac"/></linearGradient>
<linearGradient id="h69" x1="38" x2="212" y1="0" y2="0" gradientUnits="userSpaceOnUse"><stop offset="0.000" stop-color="#4468ad"/><stop offset="0.241" stop-color="#486bb0"/><stop offset="0.282" stop-color="#5678ba"/><stop offset="0.310" stop-color="#a4b8de"/><stop offset="0.333" stop-color="#e5e9f2"/><stop offset="0.368" stop-color="#f2f2f2"/><stop offset="0.414" stop-color="#e6eaf2"/><stop offset="0.448" stop-color="#adbfe0"/><stop offset="0.494" stop-color="#5c7dbd"/><stop offset="0.506" stop-color="#5476b8"/><stop offset="0.586" stop-color="#466aaf"/><stop offset="1.000" stop-color="#4468ad"/></linearGradient>
<linearGradient id="h70" x1="38" x2="212" y1="0" y2="0" gradientUnits="userSpaceOnUse"><stop offset="0.000" stop-color="#4266ac"/><stop offset="0.241" stop-color="#466aaf"/><stop offset="0.282" stop-color="#5577b9"/><stop offset="0.293" stop-color="#6d8bc5"/><stop offset="0.328" stop-color="#d5dded"/><stop offset="0.333" stop-color="#e4e9f2"/><stop offset="0.362" stop-color="#f2f2f2"/><stop offset="0.408" stop-color="#e8ebf2"/><stop offset="0.420" stop-color="#dee5f0"/><stop offset="0.466" stop-color="#89a2d1"/><stop offset="0.494" stop-color="#5879bb"/><stop offset="0.563" stop-color="#466aaf"/><stop offset="1.000" stop-color="#4266ac"/></linearGradient>
<linearGradient id="h71" x1="38" x2="212" y1="0" y2="0" gradientUnits="userSpaceOnUse"><stop offset="0.000" stop-color="#4367ad"/><stop offset="0.241" stop-color="#476aaf"/><stop offset="0.282" stop-color="#5577ba"/><stop offset="0.305" stop-color="#93aad6"/><stop offset="0.328" stop-color="#dae1ef"/><stop offset="0.333" stop-color="#e6eaf2"/><stop offset="0.362" stop-color="#f4f3f2"/><stop offset="0.408" stop-color="#eaedf2"/><stop offset="0.420" stop-color="#e4e9f2"/><stop offset="0.466" stop-color="#8ea6d3"/><stop offset="0.494" stop-color="#5b7cbc"/><stop offset="0.523" stop-color="#4e71b4"/><stop offset="0.626" stop-color="#4367ad"/><stop offset="1.000" stop-color="#4367ad"/></linearGradient>
<linearGradient id="h72" x1="38" x2="212" y1="0" y2="0" gradientUnits="userSpaceOnUse"><stop offset="0.000" stop-color="#4367ad"/><stop offset="0.241" stop-color="#476aaf"/><stop offset="0.282" stop-color="#5678ba"/><stop offset="0.305" stop-color="#95acd7"/><stop offset="0.328" stop-color="#dce3f0"/><stop offset="0.339" stop-color="#ebedf2"/><stop offset="0.362" stop-color="#f4f2f0"/><stop offset="0.408" stop-color="#ebedf2"/><stop offset="0.425" stop-color="#dde4f0"/><stop offset="0.494" stop-color="#5d7ebd"/><stop offset="0.511" stop-color="#5274b7"/><stop offset="0.598" stop-color="#4468ae"/><stop offset="1.000" stop-color="#4367ad"/></linearGradient>
<linearGradient id="h73" x1="38" x2="212" y1="0" y2="0" gradientUnits="userSpaceOnUse"><stop offset="0.000" stop-color="#4367ad"/><stop offset="0.241" stop-color="#476aaf"/><stop offset="0.282" stop-color="#5678ba"/><stop offset="0.310" stop-color="#a9bcdf"/><stop offset="0.328" stop-color="#dfe5f0"/><stop offset="0.351" stop-color="#f3f2f2"/><stop offset="0.374" stop-color="#f4f1ef"/><stop offset="0.414" stop-color="#e9ecf2"/><stop offset="0.425" stop-color="#dfe5f1"/><stop offset="0.483" stop-color="#728fc7"/><stop offset="0.500" stop-color="#5778ba"/><stop offset="0.575" stop-color="#466aaf"/><stop offset="1.000" stop-color="#4367ad"/></linearGradient>
<linearGradient id="h74" x1="38" x2="212" y1="0" y2="0" gradientUnits="userSpaceOnUse"><stop offset="0.000" stop-color="#4367ad"/><stop offset="0.241" stop-color="#476bb0"/><stop offset="0.282" stop-color="#5678ba"/><stop offset="0.305" stop-color="#97aed8"/><stop offset="0.328" stop-color="#dfe5f0"/><stop offset="0.351" stop-color="#f3f2f2"/><stop offset="0.379" stop-color="#f4f2f0"/><stop offset="0.420" stop-color="#e6eaf2"/><stop offset="0.443" stop-color="#c0cde7"/><stop offset="0.494" stop-color="#6080bf"/><stop offset="0.506" stop-color="#5476b9"/><stop offset="0.592" stop-color="#4569ae"/><stop offset="1.000" stop-color="#4367ad"/></linearGradient>
<linearGradient id="h75" x1="38" x2="212" y1="0" y2="0" gradientUnits="userSpaceOnUse"><stop offset="0.000" stop-color="#4266ac"/><stop offset="0.241" stop-color="#4569ae"/><stop offset="0.282" stop-color="#5476b9"/><stop offset="0.293" stop-color="#6d8bc4"/><stop offset="0.322" stop-color="#c6d2e9"/><stop offset="0.333" stop-color="#e5eaf2"/><stop offset="0.362" stop-color="#f3f3f2"/><stop offset="0.408" stop-color="#e9ecf2"/><stop offset="0.420" stop-color="#e2e8f1"/><stop offset="0.471" stop-color="#819bce"/><stop offset="0.494" stop-color="#597bbc"/><stop offset="0.557" stop-color="#466aaf"/><stop offset="0.925" stop-color="#4266ac"/><stop offset="1.000" stop-color="#4266ac"/></linearGradient>
<linearGradient id="h76" x1="38" x2="212" y1="0" y2="0" gradientUnits="userSpaceOnUse"><stop offset="0.000" stop-color="#4266ac"/><stop offset="0.241" stop-color="#4669af"/><stop offset="0.282" stop-color="#5577b9"/><stop offset="0.293" stop-color="#6e8cc5"/><stop offset="0.328" stop-color="#d7dfee"/><stop offset="0.333" stop-color="#e5eaf2"/><stop offset="0.362" stop-color="#f3f2f2"/><stop offset="0.408" stop-color="#e9ecf2"/><stop offset="0.420" stop-color="#e2e8f1"/><stop offset="0.471" stop-color="#829cce"/><stop offset="0.500" stop-color="#5577b9"/><stop offset="0.586" stop-color="#4468ad"/><stop offset="1.000" stop-color="#4266ac"/></linearGradient>
<linearGradient id="h77" x1="38" x2="212" y1="0" y2="0" gradientUnits="userSpaceOnUse"><stop offset="0.000" stop-color="#4266ac"/><stop offset="0.241" stop-color="#4569ae"/><stop offset="0.282" stop-color="#5476b8"/><stop offset="0.287" stop-color="#5b7cbc"/><stop offset="0.322" stop-color="#c1cee7"/><stop offset="0.333" stop-color="#e1e7f1"/><stop offset="0.356" stop-color="#f0f0f2"/><stop offset="0.397" stop-color="#eceef2"/><stop offset="0.420" stop-color="#dde3f0"/><stop offset="0.471" stop-color="#7f99cd"/><stop offset="0.494" stop-color="#587abb"/><stop offset="0.563" stop-color="#4669af"/><stop offset="0.931" stop-color="#4266ac"/><stop offset="1.000" stop-color="#4266ac"/></linearGradient>
<linearGradient id="h78" x1="38" x2="212" y1="0" y2="0" gradientUnits="userSpaceOnUse"><stop offset="0.000" stop-color="#4266ac"/><stop offset="0.241" stop-color="#4569ae"/><stop offset="0.282" stop-color="#5376b8"/><stop offset="0.287" stop-color="#597bbb"/><stop offset="0.328" stop-color="#cdd8eb"/><stop offset="0.339" stop-color="#e6eaf2"/><stop offset="0.374" stop-color="#eff0f2"/><stop offset="0.414" stop-color="#e1e7f1"/><stop offset="0.460" stop-color="#92a9d5"/><stop offset="0.494" stop-color="#5779ba"/><stop offset="0.575" stop-color="#4468ae"/><stop offset="1.000" stop-color="#4266ac"/></linearGradient>
<linearGradient id="h79" x1="38" x2="212" y1="0" y2="0" gradientUnits="userSpaceOnUse"><stop offset="0.000" stop-color="#4367ad"/><stop offset="0.241" stop-color="#476aaf"/><stop offset="0.282" stop-color="#5577b9"/><stop offset="0.293" stop-color="#6c8ac4"/><stop offset="0.328" stop-color="#ced8eb"/><stop offset="0.339" stop-color="#e6eaf2"/><stop offset="0.374" stop-color="#eff0f2"/><stop offset="0.414" stop-color="#e2e7f1"/><stop offset="0.466" stop-color="#8ba3d2"/><stop offset="0.500" stop-color="#5678ba"/><stop offset="0.586" stop-color="#4569ae"/><stop offset="1.000" stop-color="#4367ad"/></linearGradient>
<linearGradient id="h80" x1="38" x2="212" y1="0" y2="0" gradientUnits="userSpaceOnUse"><stop offset="0.000" stop-color="#4266ac"/><stop offset="0.247" stop-color="#466aaf"/><stop offset="0.287" stop-color="#5678ba"/><stop offset="0.333" stop-color="#ced8eb"/><stop offset="0.345" stop-color="#e4e9f2"/><stop offset="0.379" stop-color="#e9ecf2"/><stop offset="0.402" stop-color="#e1e7f1"/><stop offset="0.443" stop-color="#a7bbdf"/><stop offset="0.494" stop-color="#5577b9"/><stop offset="0.580" stop-color="#4468ad"/><stop offset="1.000" stop-color="#4266ac"/></linearGradient>
<linearGradient id="h81" x1="38" x2="212" y1="0" y2="0" gradientUnits="userSpaceOnUse"><stop offset="0.000" stop-color="#4266ac"/><stop offset="0.247" stop-color="#466aaf"/><stop offset="0.287" stop-color="#5577b9"/><stop offset="0.310" stop-color="#8ba3d2"/><stop offset="0.339" stop-color="#d1daec"/><stop offset="0.351" stop-color="#e2e8f1"/><stop offset="0.385" stop-color="#e4e9f2"/><stop offset="0.414" stop-color="#c9d5ea"/><stop offset="0.471" stop-color="#728fc7"/><stop offset="0.494" stop-color="#5577b9"/><stop offset="0.580" stop-color="#4468ae"/><stop offset="1.000" stop-color="#4266ac"/></linearGradient>
<linearGradient id="h82" x1="38" x2="212" y1="0" y2="0" gradientUnits="userSpaceOnUse"><stop offset="0.000" stop-color="#4266ac"/><stop offset="0.253" stop-color="#466aaf"/><stop offset="0.293" stop-color="#5577b9"/><stop offset="0.316" stop-color="#86a0d0"/><stop offset="0.339" stop-color="#b6c6e4"/><stop offset="0.356" stop-color="#cbd6ea"/><stop offset="0.385" stop-color="#c8d4e9"/><stop offset="0.420" stop-color="#aabde0"/><stop offset="0.483" stop-color="#5577ba"/><stop offset="0.586" stop-color="#4367ad"/><stop offset="1.000" stop-color="#4266ac"/></linearGradient>
<linearGradient id="h83" x1="38" x2="212" y1="0" y2="0" gradientUnits="userSpaceOnUse"><stop offset="0.000" stop-color="#4266ac"/><stop offset="0.236" stop-color="#4568ae"/><stop offset="0.282" stop-color="#5577b9"/><stop offset="0.293" stop-color="#708dc6"/><stop offset="0.328" stop-color="#dae1ef"/><stop offset="0.333" stop-color="#e6eaf2"/><stop offset="0.362" stop-color="#f4f3f2"/><stop offset="0.414" stop-color="#e8ebf2"/><stop offset="0.425" stop-color="#dee5f0"/><stop offset="0.477" stop-color="#7f9acd"/><stop offset="0.500" stop-color="#597bbc"/><stop offset="0.563" stop-color="#476aaf"/><stop offset="0.753" stop-color="#4266ac"/><stop offset="1.000" stop-color="#4266ac"/></linearGradient>
<linearGradient id="h84" x1="38" x2="212" y1="0" y2="0" gradientUnits="userSpaceOnUse"><stop offset="0.000" stop-color="#4367ad"/><stop offset="0.241" stop-color="#476bb0"/><stop offset="0.282" stop-color="#597abb"/><stop offset="0.310" stop-color="#acbee0"/><stop offset="0.328" stop-color="#e0e6f1"/><stop offset="0.351" stop-color="#f3f2f2"/><stop offset="0.397" stop-color="#f1f1f2"/><stop offset="0.425" stop-color="#e5e9f2"/><stop offset="0.477" stop-color="#8ba3d2"/><stop offset="0.511" stop-color="#5678ba"/><stop offset="0.598" stop-color="#4569ae"/><stop offset="1.000" stop-color="#4367ad"/></linearGradient>
<linearGradient id="h85" x1="38" x2="212" y1="0" y2="0" gradientUnits="userSpaceOnUse"><stop offset="0.000" stop-color="#4266ac"/><stop offset="0.241" stop-color="#466aaf"/><stop offset="0.282" stop-color="#5678ba"/><stop offset="0.316" stop-color="#bac9e5"/><stop offset="0.328" stop-color="#dce3ef"/><stop offset="0.339" stop-color="#ebedf2"/><stop offset="0.374" stop-color="#f4f3f2"/><stop offset="0.425" stop-color="#e4e9f2"/><stop offset="0.477" stop-color="#8ba4d2"/><stop offset="0.511" stop-color="#5678ba"/><stop offset="0.603" stop-color="#4468ad"/><stop offset="1.000" stop-color="#4266ac"/></linearGradient>
<linearGradient id="h86" x1="38" x2="212" y1="0" y2="0" gradientUnits="userSpaceOnUse"><stop offset="0.000" stop-color="#4266ac"/><stop offset="0.241" stop-color="#466aaf"/><stop offset="0.282" stop-color="#5779ba"/><stop offset="0.322" stop-color="#ccd7eb"/><stop offset="0.333" stop-color="#e7ebf2"/><stop offset="0.368" stop-color="#f4f3f2"/><stop offset="0.425" stop-color="#e5e9f2"/><stop offset="0.477" stop-color="#90a8d5"/><stop offset="0.511" stop-color="#5a7bbc"/><stop offset="0.563" stop-color="#4a6db1"/><stop offset="0.690" stop-color="#4266ac"/><stop offset="1.000" stop-color="#4266ac"/></linearGradient>
<linearGradient id="h87" x1="38" x2="212" y1="0" y2="0" gradientUnits="userSpaceOnUse"><stop offset="0.000" stop-color="#4266ac"/><stop offset="0.241" stop-color="#476bb0"/><stop offset="0.276" stop-color="#5476b9"/><stop offset="0.287" stop-color="#6b89c4"/><stop offset="0.328" stop-color="#e1e7f1"/><stop offset="0.351" stop-color="#f2f2f2"/><stop offset="0.397" stop-color="#f1f1f2"/><stop offset="0.431" stop-color="#e4e9f2"/><stop offset="0.500" stop-color="#7491c8"/><stop offset="0.523" stop-color="#5578ba"/><stop offset="0.615" stop-color="#4569ae"/><stop offset="1.000" stop-color="#4266ac"/></linearGradient>
<linearGradient id="h88" x1="38" x2="212" y1="0" y2="0" gradientUnits="userSpaceOnUse"><stop offset="0.000" stop-color="#4366ac"/><stop offset="0.230" stop-color="#4669af"/><stop offset="0.276" stop-color="#5577b9"/><stop offset="0.287" stop-color="#6d8bc4"/><stop offset="0.322" stop-color="#d2dbec"/><stop offset="0.328" stop-color="#e2e8f1"/><stop offset="0.356" stop-color="#f4f3f1"/><stop offset="0.408" stop-color="#eeeff2"/><stop offset="0.431" stop-color="#e5e9f2"/><stop offset="0.489" stop-color="#8ba4d2"/><stop offset="0.523" stop-color="#597bbb"/><stop offset="0.592" stop-color="#486bb0"/><stop offset="0.822" stop-color="#4366ac"/><stop offset="1.000" stop-color="#4366ac"/></linearGradient>
<linearGradient id="h89" x1="38" x2="212" y1="0" y2="0" gradientUnits="userSpaceOnUse"><stop offset="0.000" stop-color="#4367ad"/><stop offset="0.236" stop-color="#476bb0"/><stop offset="0.276" stop-color="#5577ba"/><stop offset="0.299" stop-color="#90a8d4"/><stop offset="0.328" stop-color="#e4e9f2"/><stop offset="0.356" stop-color="#f4f2f1"/><stop offset="0.414" stop-color="#edeef2"/><stop offset="0.437" stop-color="#e2e7f1"/><stop offset="0.506" stop-color="#7793c9"/><stop offset="0.529" stop-color="#587abb"/><stop offset="0.621" stop-color="#466aaf"/><stop offset="1.000" stop-color="#4367ad"/></linearGradient>
<linearGradient id="h90" x1="38" x2="212" y1="0" y2="0" gradientUnits="userSpaceOnUse"><stop offset="0.000" stop-color="#4266ac"/><stop offset="0.230" stop-color="#4669af"/><stop offset="0.276" stop-color="#5577b9"/><stop offset="0.299" stop-color="#8fa7d4"/><stop offset="0.328" stop-color="#e2e8f2"/><stop offset="0.356" stop-color="#f4f3f2"/><stop offset="0.414" stop-color="#eceef2"/><stop offset="0.437" stop-color="#e2e7f1"/><stop offset="0.500" stop-color="#829cce"/><stop offset="0.534" stop-color="#5577ba"/><stop offset="0.644" stop-color="#4468ae"/><stop offset="1.000" stop-color="#4266ac"/></linearGradient>
<linearGradient id="h91" x1="38" x2="212" y1="0" y2="0" gradientUnits="userSpaceOnUse"><stop offset="0.000" stop-color="#4266ac"/><stop offset="0.236" stop-color="#4569ae"/><stop offset="0.276" stop-color="#5476b8"/><stop offset="0.282" stop-color="#5a7bbc"/><stop offset="0.322" stop-color="#cdd7eb"/><stop offset="0.333" stop-color="#e6eaf2"/><stop offset="0.368" stop-color="#f3f2f2"/><stop offset="0.431" stop-color="#e4e9f2"/><stop offset="0.494" stop-color="#88a1d1"/><stop offset="0.529" stop-color="#5879bb"/><stop offset="0.603" stop-color="#466aaf"/><stop offset="0.971" stop-color="#4266ac"/><stop offset="1.000" stop-color="#4266ac"/></linearGradient>
<linearGradient id="h92" x1="38" x2="212" y1="0" y2="0" gradientUnits="userSpaceOnUse"><stop offset="0.000" stop-color="#4367ac"/><stop offset="0.236" stop-color="#476bb0"/><stop offset="0.276" stop-color="#5879bb"/><stop offset="0.305" stop-color="#a5b9de"/><stop offset="0.328" stop-color="#e5e9f2"/><stop offset="0.356" stop-color="#f4f2f1"/><stop offset="0.414" stop-color="#eeeff2"/><stop offset="0.443" stop-color="#e1e6f1"/><stop offset="0.500" stop-color="#8da5d3"/><stop offset="0.540" stop-color="#587abb"/><stop offset="0.632" stop-color="#466aaf"/><stop offset="1.000" stop-color="#4367ac"/></linearGradient>
<linearGradient id="h93" x1="38" x2="212" y1="0" y2="0" gradientUnits="userSpaceOnUse"><stop offset="0.000" stop-color="#4266ac"/><stop offset="0.230" stop-color="#466aaf"/><stop offset="0.270" stop-color="#5476b8"/><stop offset="0.276" stop-color="#597abb"/><stop offset="0.310" stop-color="#b6c6e4"/><stop offset="0.328" stop-color="#e5e9f2"/><stop offset="0.356" stop-color="#f4f3f1"/><stop offset="0.414" stop-color="#eeeff2"/><stop offset="0.443" stop-color="#e2e8f1"/><stop offset="0.506" stop-color="#89a2d1"/><stop offset="0.546" stop-color="#5678ba"/><stop offset="0.655" stop-color="#4569ae"/><stop offset="1.000" stop-color="#4266ac"/></linearGradient>
<linearGradient id="h94" x1="38" x2="212" y1="0" y2="0" gradientUnits="userSpaceOnUse"><stop offset="0.000" stop-color="#4367ad"/><stop offset="0.230" stop-color="#476bb0"/><stop offset="0.270" stop-color="#5477b9"/><stop offset="0.282" stop-color="#6a88c3"/><stop offset="0.322" stop-color="#dae1ef"/><stop offset="0.333" stop-color="#eaedf2"/><stop offset="0.356" stop-color="#f4f2f0"/><stop offset="0.414" stop-color="#eff0f2"/><stop offset="0.448" stop-color="#dfe5f0"/><stop offset="0.517" stop-color="#7f9acd"/><stop offset="0.552" stop-color="#5678ba"/><stop offset="0.655" stop-color="#466aaf"/><stop offset="1.000" stop-color="#4367ad"/></linearGradient>
<linearGradient id="h95" x1="38" x2="212" y1="0" y2="0" gradientUnits="userSpaceOnUse"><stop offset="0.000" stop-color="#4266ac"/><stop offset="0.230" stop-color="#4569ae"/><stop offset="0.276" stop-color="#5678ba"/><stop offset="0.322" stop-color="#d4dced"/><stop offset="0.328" stop-color="#e2e8f1"/><stop offset="0.356" stop-color="#f3f2f2"/><stop offset="0.414" stop-color="#edeef2"/><stop offset="0.443" stop-color="#e2e7f1"/><stop offset="0.506" stop-color="#8ca4d3"/><stop offset="0.546" stop-color="#597bbb"/><stop offset="0.626" stop-color="#476bb0"/><stop offset="0.856" stop-color="#4266ac"/><stop offset="1.000" stop-color="#4266ac"/></linearGradient>
<linearGradient id="h96" x1="38" x2="212" y1="0" y2="0" gradientUnits="userSpaceOnUse"><stop offset="0.000" stop-color="#4568ae"/><stop offset="0.230" stop-color="#496cb1"/><stop offset="0.270" stop-color="#597abb"/><stop offset="0.299" stop-color="#a1b6dc"/><stop offset="0.322" stop-color="#e1e7f1"/><stop offset="0.345" stop-color="#f3f2f2"/><stop offset="0.374" stop-color="#f4efeb"/><stop offset="0.420" stop-color="#f0f0f2"/><stop offset="0.454" stop-color="#e2e8f1"/><stop offset="0.534" stop-color="#7894ca"/><stop offset="0.569" stop-color="#5577b9"/><stop offset="0.695" stop-color="#466aaf"/><stop offset="1.000" stop-color="#4568ae"/></linearGradient>
<linearGradient id="h97" x1="38" x2="212" y1="0" y2="0" gradientUnits="userSpaceOnUse"><stop offset="0.000" stop-color="#4266ac"/><stop offset="0.230" stop-color="#4569ae"/><stop offset="0.276" stop-color="#587abb"/><stop offset="0.316" stop-color="#c5d1e8"/><stop offset="0.328" stop-color="#e3e8f2"/><stop offset="0.362" stop-color="#f4f3f2"/><stop offset="0.420" stop-color="#eceef2"/><stop offset="0.448" stop-color="#dee5f0"/><stop offset="0.517" stop-color="#839dcf"/><stop offset="0.557" stop-color="#5577ba"/><stop offset="0.684" stop-color="#4367ad"/><stop offset="1.000" stop-color="#4266ac"/></linearGradient>
<linearGradient id="h98" x1="38" x2="212" y1="0" y2="0" gradientUnits="userSpaceOnUse"><stop offset="0.000" stop-color="#4367ad"/><stop offset="0.224" stop-color="#476aaf"/><stop offset="0.270" stop-color="#5678ba"/><stop offset="0.293" stop-color="#8da5d3"/><stop offset="0.322" stop-color="#dde3f0"/><stop offset="0.339" stop-color="#eeeff2"/><stop offset="0.362" stop-color="#f4f0ed"/><stop offset="0.420" stop-color="#eff0f2"/><stop offset="0.454" stop-color="#e1e7f1"/><stop offset="0.534" stop-color="#7995ca"/><stop offset="0.569" stop-color="#5578ba"/><stop offset="0.690" stop-color="#4569ae"/><stop offset="1.000" stop-color="#4367ad"/></linearGradient>
<linearGradient id="h99" x1="38" x2="212" y1="0" y2="0" gradientUnits="userSpaceOnUse"><stop offset="0.000" stop-color="#4266ac"/><stop offset="0.224" stop-color="#466aaf"/><stop offset="0.270" stop-color="#5577ba"/><stop offset="0.293" stop-color="#8ca4d2"/><stop offset="0.322" stop-color="#dbe2ef"/><stop offset="0.333" stop-color="#eaedf2"/><stop offset="0.356" stop-color="#f4f2f0"/><stop offset="0.391" stop-color="#f4f2f0"/><stop offset="0.448" stop-color="#e5eaf2"/><stop offset="0.523" stop-color="#89a2d1"/><stop offset="0.569" stop-color="#5678ba"/><stop offset="0.684" stop-color="#4569ae"/><stop offset="1.000" stop-color="#4266ac"/></linearGradient>
<linearGradient id="h100" x1="38" x2="212" y1="0" y2="0" gradientUnits="userSpaceOnUse"><stop offset="0.000" stop-color="#4266ac"/><stop offset="0.224" stop-color="#4669af"/><stop offset="0.270" stop-color="#5577b9"/><stop offset="0.293" stop-color="#8ba4d2"/><stop offset="0.322" stop-color="#dae1ef"/><stop offset="0.333" stop-color="#eaecf2"/><stop offset="0.362" stop-color="#f4f1ee"/><stop offset="0.420" stop-color="#eff0f2"/><stop offset="0.454" stop-color="#e0e6f1"/><stop offset="0.523" stop-color="#8aa2d1"/><stop offset="0.569" stop-color="#5678ba"/><stop offset="0.684" stop-color="#4569ae"/><stop offset="1.000" stop-color="#4266ac"/></linearGradient>
<linearGradient id="h101" x1="38" x2="212" y1="0" y2="0" gradientUnits="userSpaceOnUse"><stop offset="0.000" stop-color="#4367ad"/><stop offset="0.224" stop-color="#476bb0"/><stop offset="0.270" stop-color="#597bbc"/><stop offset="0.305" stop-color="#b2c3e2"/><stop offset="0.322" stop-color="#e0e6f1"/><stop offset="0.351" stop-color="#f4f2f0"/><stop offset="0.385" stop-color="#f4efeb"/><stop offset="0.425" stop-color="#eff0f2"/><stop offset="0.460" stop-color="#e0e6f1"/><stop offset="0.552" stop-color="#708dc6"/><stop offset="0.580" stop-color="#5577b9"/><stop offset="0.713" stop-color="#4569ae"/><stop offset="1.000" stop-color="#4367ad"/></linearGradient>
<linearGradient id="h102" x1="38" x2="212" y1="0" y2="0" gradientUnits="userSpaceOnUse"><stop offset="0.000" stop-color="#4266ac"/><stop offset="0.224" stop-color="#466aaf"/><stop offset="0.270" stop-color="#5678ba"/><stop offset="0.305" stop-color="#afc0e1"/><stop offset="0.322" stop-color="#dde4f0"/><stop offset="0.339" stop-color="#eeeff2"/><stop offset="0.362" stop-color="#f4f0ec"/><stop offset="0.420" stop-color="#f0f1f2"/><stop offset="0.460" stop-color="#dee4f0"/><stop offset="0.540" stop-color="#7c97cb"/><stop offset="0.575" stop-color="#5779ba"/><stop offset="0.690" stop-color="#4569ae"/><stop offset="1.000" stop-color="#4266ac"/></linearGradient>
<linearGradient id="h103" x1="38" x2="212" y1="0" y2="0" gradientUnits="userSpaceOnUse"><stop offset="0.000" stop-color="#4266ac"/><stop offset="0.224" stop-color="#4468ae"/><stop offset="0.270" stop-color="#5477b9"/><stop offset="0.282" stop-color="#6a89c3"/><stop offset="0.322" stop-color="#d6deee"/><stop offset="0.328" stop-color="#e4e9f2"/><stop offset="0.362" stop-color="#f4f2f0"/><stop offset="0.414" stop-color="#f0f0f2"/><stop offset="0.454" stop-color="#dfe5f0"/><stop offset="0.529" stop-color="#849ecf"/><stop offset="0.569" stop-color="#5879bb"/><stop offset="0.684" stop-color="#4468ad"/><stop offset="1.000" stop-color="#4266ac"/></linearGradient>
<linearGradient id="h104" x1="38" x2="212" y1="0" y2="0" gradientUnits="userSpaceOnUse"><stop offset="0.000" stop-color="#4266ac"/><stop offset="0.224" stop-color="#4669af"/><stop offset="0.270" stop-color="#5678ba"/><stop offset="0.310" stop-color="#bdcce6"/><stop offset="0.322" stop-color="#dce3ef"/><stop offset="0.333" stop-color="#eaedf2"/><stop offset="0.356" stop-color="#f4f1ef"/><stop offset="0.391" stop-color="#f4f0ec"/><stop offset="0.425" stop-color="#eff0f2"/><stop offset="0.460" stop-color="#dee4f0"/><stop offset="0.534" stop-color="#859fcf"/><stop offset="0.580" stop-color="#5678ba"/><stop offset="0.707" stop-color="#4468ad"/><stop offset="1.000" stop-color="#4266ac"/></linearGradient>
<linearGradient id="h105" x1="38" x2="212" y1="0" y2="0" gradientUnits="userSpaceOnUse"><stop offset="0.000" stop-color="#4266ac"/><stop offset="0.218" stop-color="#476aaf"/><stop offset="0.264" stop-color="#5577b9"/><stop offset="0.282" stop-color="#7894ca"/><stop offset="0.322" stop-color="#e3e8f2"/><stop offset="0.345" stop-color="#f3f3f2"/><stop offset="0.368" stop-color="#f5ede6"/><stop offset="0.408" stop-color="#f4f0ed"/><stop offset="0.443" stop-color="#ebedf2"/><stop offset="0.466" stop-color="#dfe5f0"/><stop offset="0.557" stop-color="#7591c8"/><stop offset="0.592" stop-color="#5577b9"/><stop offset="0.730" stop-color="#4568ae"/><stop offset="1.000" stop-color="#4266ac"/></linearGradient>
<linearGradient id="h106" x1="38" x2="212" y1="0" y2="0" gradientUnits="userSpaceOnUse"><stop offset="0.000" stop-color="#4468ae"/><stop offset="0.213" stop-color="#486bb0"/><stop offset="0.259" stop-color="#5477b9"/><stop offset="0.270" stop-color="#6685c1"/><stop offset="0.316" stop-color="#dce3ef"/><stop offset="0.328" stop-color="#ebedf2"/><stop offset="0.345" stop-color="#f4f1ee"/><stop offset="0.368" stop-color="#f5eae1"/><stop offset="0.402" stop-color="#f5ece5"/><stop offset="0.431" stop-color="#f2f2f2"/><stop offset="0.471" stop-color="#e1e7f1"/><stop offset="0.580" stop-color="#6786c2"/><stop offset="0.603" stop-color="#5577ba"/><stop offset="0.753" stop-color="#4669af"/><stop offset="1.000" stop-color="#4468ae"/></linearGradient>
<linearGradient id="h107" x1="38" x2="212" y1="0" y2="0" gradientUnits="userSpaceOnUse"><stop offset="0.000" stop-color="#4266ac"/><stop offset="0.224" stop-color="#466aaf"/><stop offset="0.264" stop-color="#5476b9"/><stop offset="0.270" stop-color="#597bbc"/><stop offset="0.322" stop-color="#dee4f0"/><stop offset="0.333" stop-color="#ebedf2"/><stop offset="0.356" stop-color="#f4f0ed"/><stop offset="0.391" stop-color="#f4eee8"/><stop offset="0.425" stop-color="#f0f1f2"/><stop offset="0.460" stop-color="#e2e8f1"/><stop offset="0.540" stop-color="#869fd0"/><stop offset="0.586" stop-color="#5678ba"/><stop offset="0.718" stop-color="#4468ad"/><stop offset="1.000" stop-color="#4266ac"/></linearGradient>
<linearGradient id="h108" x1="38" x2="212" y1="0" y2="0" gradientUnits="userSpaceOnUse"><stop offset="0.000" stop-color="#4266ac"/><stop offset="0.213" stop-color="#466aaf"/><stop offset="0.264" stop-color="#5678ba"/><stop offset="0.299" stop-color="#aabcdf"/><stop offset="0.322" stop-color="#e4e9f2"/><stop offset="0.345" stop-color="#f4f3f2"/><stop offset="0.368" stop-color="#f5ebe3"/><stop offset="0.402" stop-color="#f5ede6"/><stop offset="0.431" stop-color="#f1f1f2"/><stop offset="0.466" stop-color="#e3e8f2"/><stop offset="0.557" stop-color="#7b97cb"/><stop offset="0.598" stop-color="#5678ba"/><stop offset="0.730" stop-color="#4569ae"/><stop offset="1.000" stop-color="#4266ac"/></linearGradient>
<linearGradient id="h109" x1="38" x2="212" y1="0" y2="0" gradientUnits="userSpaceOnUse"><stop offset="0.000" stop-color="#4367ad"/><stop offset="0.213" stop-color="#486bb0"/><stop offset="0.259" stop-color="#5577ba"/><stop offset="0.287" stop-color="#94abd6"/><stop offset="0.316" stop-color="#dee4f0"/><stop offset="0.333" stop-color="#eff0f2"/><stop offset="0.351" stop-color="#f5eee8"/><stop offset="0.374" stop-color="#f5e8dd"/><stop offset="0.408" stop-color="#f5ece4"/><stop offset="0.431" stop-color="#f3f2f2"/><stop offset="0.477" stop-color="#dde3f0"/><stop offset="0.575" stop-color="#728fc7"/><stop offset="0.609" stop-color="#5577ba"/><stop offset="0.764" stop-color="#4569ae"/><stop offset="1.000" stop-color="#4367ad"/></linearGradient>
<linearGradient id="h110" x1="38" x2="212" y1="0" y2="0" gradientUnits="userSpaceOnUse"><stop offset="0.000" stop-color="#4367ac"/><stop offset="0.213" stop-color="#476bb0"/><stop offset="0.259" stop-color="#5577b9"/><stop offset="0.282" stop-color="#859ecf"/><stop offset="0.316" stop-color="#dde3f0"/><stop offset="0.333" stop-color="#eff0f2"/><stop offset="0.351" stop-color="#f4eee9"/><stop offset="0.379" stop-color="#f5e8dd"/><stop offset="0.414" stop-color="#f5eee8"/><stop offset="0.437" stop-color="#f0f1f2"/><stop offset="0.471" stop-color="#e2e7f1"/><stop offset="0.563" stop-color="#7d98cc"/><stop offset="0.609" stop-color="#5577b9"/><stop offset="0.753" stop-color="#4569ae"/><stop offset="1.000" stop-color="#4367ac"/></linearGradient>
<linearGradient id="h111" x1="38" x2="212" y1="0" y2="0" gradientUnits="userSpaceOnUse"><stop offset="0.000" stop-color="#4266ac"/><stop offset="0.207" stop-color="#4669af"/><stop offset="0.259" stop-color="#5577b9"/><stop offset="0.282" stop-color="#839dcf"/><stop offset="0.316" stop-color="#dbe2ef"/><stop offset="0.328" stop-color="#eaedf2"/><stop offset="0.351" stop-color="#f4efeb"/><stop offset="0.374" stop-color="#f5e9df"/><stop offset="0.408" stop-color="#f5ece5"/><stop offset="0.431" stop-color="#f2f2f2"/><stop offset="0.471" stop-color="#dfe6f1"/><stop offset="0.580" stop-color="#6b89c4"/><stop offset="0.609" stop-color="#5577b9"/><stop offset="0.759" stop-color="#4468ad"/><stop offset="1.000" stop-color="#4266ac"/></linearGradient>
<linearGradient id="h112" x1="38" x2="212" y1="0" y2="0" gradientUnits="userSpaceOnUse"><stop offset="0.000" stop-color="#4266ac"/><stop offset="0.213" stop-color="#4669af"/><stop offset="0.259" stop-color="#5577b9"/><stop offset="0.270" stop-color="#6786c2"/><stop offset="0.316" stop-color="#d8e0ee"/><stop offset="0.322" stop-color="#e5e9f2"/><stop offset="0.345" stop-color="#f4f3f2"/><stop offset="0.374" stop-color="#f5eae0"/><stop offset="0.408" stop-color="#f5ede6"/><stop offset="0.431" stop-color="#f1f1f2"/><stop offset="0.471" stop-color="#dde4f0"/><stop offset="0.598" stop-color="#5a7bbc"/><stop offset="0.678" stop-color="#496db1"/><stop offset="0.874" stop-color="#4266ac"/><stop offset="1.000" stop-color="#4266ac"/></linearGradient>
<linearGradient id="h113" x1="38" x2="212" y1="0" y2="0" gradientUnits="userSpaceOnUse"><stop offset="0.000" stop-color="#4266ac"/><stop offset="0.213" stop-color="#4669af"/><stop offset="0.259" stop-color="#5577b9"/><stop offset="0.282" stop-color="#839dcf"/><stop offset="0.322" stop-color="#e5e9f2"/><stop offset="0.345" stop-color="#f4f3f2"/><stop offset="0.374" stop-color="#f5eae0"/><stop offset="0.402" stop-color="#f5ebe3"/><stop offset="0.431" stop-color="#f1f1f2"/><stop offset="0.471" stop-color="#dde4f0"/><stop offset="0.592" stop-color="#6080bf"/><stop offset="0.609" stop-color="#5577b9"/><stop offset="0.759" stop-color="#4367ad"/><stop offset="1.000" stop-color="#4266ac"/></linearGradient>
<linearGradient id="h114" x1="38" x2="212" y1="0" y2="0" gradientUnits="userSpaceOnUse"><stop offset="0.000" stop-color="#4266ac"/><stop offset="0.207" stop-color="#466aaf"/><stop offset="0.259" stop-color="#587abb"/><stop offset="0.299" stop-color="#b4c4e3"/><stop offset="0.316" stop-color="#dee4f0"/><stop offset="0.339" stop-color="#f2f2f2"/><stop offset="0.374" stop-color="#f5e8dd"/><stop offset="0.402" stop-color="#f5e9e0"/><stop offset="0.431" stop-color="#f3f2f2"/><stop offset="0.477" stop-color="#dce3f0"/><stop offset="0.569" stop-color="#7d98cc"/><stop offset="0.615" stop-color="#5577ba"/><stop offset="0.770" stop-color="#4468ad"/><stop offset="1.000" stop-color="#4266ac"/></linearGradient>
<linearGradient id="h115" x1="38" x2="212" y1="0" y2="0" gradientUnits="userSpaceOnUse"><stop offset="0.000" stop-color="#4266ac"/><stop offset="0.201" stop-color="#466aaf"/><stop offset="0.253" stop-color="#5577b9"/><stop offset="0.270" stop-color="#7390c7"/><stop offset="0.316" stop-color="#e1e6f1"/><stop offset="0.339" stop-color="#f3f2f2"/><stop offset="0.374" stop-color="#f5e7db"/><stop offset="0.402" stop-color="#f5e8de"/><stop offset="0.437" stop-color="#f1f1f2"/><stop offset="0.477" stop-color="#dfe5f0"/><stop offset="0.569" stop-color="#819bce"/><stop offset="0.621" stop-color="#5577b9"/><stop offset="0.782" stop-color="#4468ad"/><stop offset="1.000" stop-color="#4266ac"/></linearGradient>
<linearGradient id="h116" x1="38" x2="212" y1="0" y2="0" gradientUnits="userSpaceOnUse"><stop offset="0.000" stop-color="#4266ac"/><stop offset="0.213" stop-color="#466aaf"/><stop offset="0.259" stop-color="#5779ba"/><stop offset="0.310" stop-color="#cdd8eb"/><stop offset="0.322" stop-color="#e5eaf2"/><stop offset="0.345" stop-color="#f4f3f2"/><stop offset="0.374" stop-color="#f5e9df"/><stop offset="0.402" stop-color="#f5ebe2"/><stop offset="0.431" stop-color="#f2f2f2"/><stop offset="0.471" stop-color="#dfe5f0"/><stop offset="0.563" stop-color="#829cce"/><stop offset="0.615" stop-color="#5577b9"/><stop offset="0.764" stop-color="#4367ad"/><stop offset="1.000" stop-color="#4266ac"/></linearGradient>
<linearGradient id="h117" x1="38" x2="212" y1="0" y2="0" gradientUnits="userSpaceOnUse"><stop offset="0.000" stop-color="#4266ac"/><stop offset="0.207" stop-color="#466aaf"/><stop offset="0.253" stop-color="#5577b9"/><stop offset="0.270" stop-color="#7390c7"/><stop offset="0.316" stop-color="#dee5f0"/><stop offset="0.339" stop-color="#f1f1f2"/><stop offset="0.379" stop-color="#f5e8dd"/><stop offset="0.408" stop-color="#f5ebe4"/><stop offset="0.431" stop-color="#f3f2f2"/><stop offset="0.477" stop-color="#dce3f0"/><stop offset="0.592" stop-color="#6b89c4"/><stop offset="0.621" stop-color="#5577b9"/><stop offset="0.782" stop-color="#4367ad"/><stop offset="1.000" stop-color="#4266ac"/></linearGradient>
<linearGradient id="h118" x1="38" x2="212" y1="0" y2="0" gradientUnits="userSpaceOnUse"><stop offset="0.000" stop-color="#4266ac"/><stop offset="0.195" stop-color="#476aaf"/><stop offset="0.247" stop-color="#5577b9"/><stop offset="0.264" stop-color="#718fc6"/><stop offset="0.310" stop-color="#dae1ef"/><stop offset="0.322" stop-color="#e9ecf2"/><stop offset="0.339" stop-color="#f4f3f2"/><stop offset="0.368" stop-color="#f5e7db"/><stop offset="0.397" stop-color="#f5e6da"/><stop offset="0.437" stop-color="#f3f2f2"/><stop offset="0.483" stop-color="#e0e6f1"/><stop offset="0.586" stop-color="#7b96cb"/><stop offset="0.632" stop-color="#5678ba"/><stop offset="0.787" stop-color="#4569ae"/><stop offset="1.000" stop-color="#4266ac"/></linearGradient>
<linearGradient id="h119" x1="38" x2="212" y1="0" y2="0" gradientUnits="userSpaceOnUse"><stop offset="0.000" stop-color="#4266ac"/><stop offset="0.195" stop-color="#466aaf"/><stop offset="0.247" stop-color="#5577b9"/><stop offset="0.264" stop-color="#718ec6"/><stop offset="0.305" stop-color="#cbd6ea"/><stop offset="0.316" stop-color="#e4e9f2"/><stop offset="0.345" stop-color="#f4f1ee"/><stop offset="0.374" stop-color="#f5e7dc"/><stop offset="0.402" stop-color="#f5e9de"/><stop offset="0.437" stop-color="#f2f2f2"/><stop offset="0.483" stop-color="#dfe5f0"/><stop offset="0.580" stop-color="#819bce"/><stop offset="0.632" stop-color="#5678ba"/><stop offset="0.782" stop-color="#4569ae"/><stop offset="1.000" stop-color="#4266ac"/></linearGradient>
<linearGradient id="h120" x1="38" x2="212" y1="0" y2="0" gradientUnits="userSpaceOnUse"><stop offset="0.000" stop-color="#4266ac"/><stop offset="0.195" stop-color="#466aaf"/><stop offset="0.247" stop-color="#5577b9"/><stop offset="0.270" stop-color="#7e99cc"/><stop offset="0.310" stop-color="#d8e0ee"/><stop offset="0.316" stop-color="#e4e9f2"/><stop offset="0.345" stop-color="#f4f1ef"/><stop offset="0.374" stop-color="#f5e8dd"/><stop offset="0.408" stop-color="#f5ebe2"/><stop offset="0.437" stop-color="#f2f2f2"/><stop offset="0.483" stop-color="#e0e6f1"/><stop offset="0.586" stop-color="#7f9acd"/><stop offset="0.638" stop-color="#5678ba"/><stop offset="0.787" stop-color="#4569ae"/><stop offset="1.000" stop-color="#4266ac"/></linearGradient>
<linearGradient id="h121" x1="38" x2="212" y1="0" y2="0" gradientUnits="userSpaceOnUse"><stop offset="0.000" stop-color="#4266ac"/><stop offset="0.190" stop-color="#466aaf"/><stop offset="0.247" stop-color="#5678ba"/><stop offset="0.287" stop-color="#a8bbdf"/><stop offset="0.316" stop-color="#e5eaf2"/><stop offset="0.345" stop-color="#f4f1ee"/><stop offset="0.374" stop-color="#f5e8de"/><stop offset="0.408" stop-color="#f5ebe2"/><stop offset="0.437" stop-color="#f2f2f2"/><stop offset="0.489" stop-color="#dee5f0"/><stop offset="0.603" stop-color="#7692c9"/><stop offset="0.649" stop-color="#5577b9"/><stop offset="0.822" stop-color="#4468ad"/><stop offset="1.000" stop-color="#4266ac"/></linearGradient>
<linearGradient id="h122" x1="38" x2="212" y1="0" y2="0" gradientUnits="userSpaceOnUse"><stop offset="0.000" stop-color="#4266ac"/><stop offset="0.190" stop-color="#466aaf"/><stop offset="0.247" stop-color="#5678ba"/><stop offset="0.310" stop-color="#dae2ef"/><stop offset="0.316" stop-color="#e5e9f2"/><stop offset="0.345" stop-color="#f4f2f0"/><stop offset="0.374" stop-color="#f5e9e0"/><stop offset="0.408" stop-color="#f5ece4"/><stop offset="0.437" stop-color="#f2f2f2"/><stop offset="0.489" stop-color="#dfe5f0"/><stop offset="0.586" stop-color="#88a1d1"/><stop offset="0.649" stop-color="#5678ba"/><stop offset="0.816" stop-color="#4468ae"/><stop offset="1.000" stop-color="#4266ac"/></linearGradient>
<linearGradient id="h123" x1="38" x2="212" y1="0" y2="0" gradientUnits="userSpaceOnUse"><stop offset="0.000" stop-color="#4367ad"/><stop offset="0.190" stop-color="#486bb0"/><stop offset="0.241" stop-color="#5678ba"/><stop offset="0.276" stop-color="#98aed8"/><stop offset="0.310" stop-color="#e2e8f1"/><stop offset="0.339" stop-color="#f4f3f1"/><stop offset="0.368" stop-color="#f5e9de"/><stop offset="0.402" stop-color="#f5e9df"/><stop offset="0.443" stop-color="#f2f2f2"/><stop offset="0.500" stop-color="#dee5f0"/><stop offset="0.626" stop-color="#728fc7"/><stop offset="0.667" stop-color="#5678ba"/><stop offset="0.833" stop-color="#4669af"/><stop offset="1.000" stop-color="#4367ad"/></linearGradient>
<linearGradient id="h124" x1="38" x2="212" y1="0" y2="0" gradientUnits="userSpaceOnUse"><stop offset="0.000" stop-color="#4467ad"/><stop offset="0.190" stop-color="#496cb1"/><stop offset="0.236" stop-color="#5577b9"/><stop offset="0.259" stop-color="#7a95ca"/><stop offset="0.310" stop-color="#e5e9f2"/><stop offset="0.339" stop-color="#f4f2f0"/><stop offset="0.368" stop-color="#f5e8de"/><stop offset="0.402" stop-color="#f5e9df"/><stop offset="0.443" stop-color="#f3f2f2"/><stop offset="0.506" stop-color="#dfe5f0"/><stop offset="0.615" stop-color="#829cce"/><stop offset="0.678" stop-color="#5678ba"/><stop offset="0.862" stop-color="#4669af"/><stop offset="1.000" stop-color="#4468ad"/></linearGradient>
<linearGradient id="h125" x1="38" x2="212" y1="0" y2="0" gradientUnits="userSpaceOnUse"><stop offset="0.000" stop-color="#4468ad"/><stop offset="0.184" stop-color="#496cb1"/><stop offset="0.236" stop-color="#5779bb"/><stop offset="0.276" stop-color="#a2b7dd"/><stop offset="0.310" stop-color="#e6eaf2"/><stop offset="0.339" stop-color="#f4f1ef"/><stop offset="0.374" stop-color="#f5e8dd"/><stop offset="0.414" stop-color="#f5ebe4"/><stop offset="0.448" stop-color="#f2f2f2"/><stop offset="0.511" stop-color="#dee5f0"/><stop offset="0.638" stop-color="#7693c9"/><stop offset="0.690" stop-color="#5577ba"/><stop offset="0.885" stop-color="#466aaf"/><stop offset="1.000" stop-color="#4468ae"/></linearGradient>
<linearGradient id="h126" x1="38" x2="212" y1="0" y2="0" gradientUnits="userSpaceOnUse"><stop offset="0.000" stop-color="#4367ac"/><stop offset="0.184" stop-color="#486cb0"/><stop offset="0.236" stop-color="#5779ba"/><stop offset="0.282" stop-color="#adbfe1"/><stop offset="0.310" stop-color="#e5e9f2"/><stop offset="0.345" stop-color="#f4f1ee"/><stop offset="0.379" stop-color="#f5eae1"/><stop offset="0.425" stop-color="#f4f1ed"/><stop offset="0.460" stop-color="#eeeff2"/><stop offset="0.511" stop-color="#dde4f0"/><stop offset="0.661" stop-color="#6887c2"/><stop offset="0.695" stop-color="#5577b9"/><stop offset="0.891" stop-color="#4569ae"/><stop offset="1.000" stop-color="#4367ad"/></linearGradient>
<linearGradient id="h127" x1="38" x2="212" y1="0" y2="0" gradientUnits="userSpaceOnUse"><stop offset="0.000" stop-color="#4367ad"/><stop offset="0.178" stop-color="#486cb0"/><stop offset="0.230" stop-color="#5577ba"/><stop offset="0.264" stop-color="#8fa7d4"/><stop offset="0.305" stop-color="#dee5f0"/><stop offset="0.333" stop-color="#f1f1f2"/><stop offset="0.379" stop-color="#f5ebe3"/><stop offset="0.425" stop-color="#f4f1ee"/><stop offset="0.511" stop-color="#e3e8f2"/><stop offset="0.632" stop-color="#87a0d0"/><stop offset="0.707" stop-color="#5678ba"/><stop offset="0.914" stop-color="#4569ae"/><stop offset="1.000" stop-color="#4467ad"/></linearGradient>
<linearGradient id="h128" x1="38" x2="212" y1="0" y2="0" gradientUnits="userSpaceOnUse"><stop offset="0.000" stop-color="#4367ad"/><stop offset="0.172" stop-color="#496cb1"/><stop offset="0.224" stop-color="#5577b9"/><stop offset="0.259" stop-color="#8ca4d2"/><stop offset="0.305" stop-color="#e3e8f2"/><stop offset="0.339" stop-color="#f4f2f1"/><stop offset="0.374" stop-color="#f5ebe3"/><stop offset="0.420" stop-color="#f4efea"/><stop offset="0.454" stop-color="#f1f1f2"/><stop offset="0.523" stop-color="#e2e8f1"/><stop offset="0.649" stop-color="#87a0d0"/><stop offset="0.730" stop-color="#5678ba"/><stop offset="0.937" stop-color="#466aaf"/><stop offset="1.000" stop-color="#4568ae"/></linearGradient>
<linearGradient id="h129" x1="38" x2="212" y1="0" y2="0" gradientUnits="userSpaceOnUse"><stop offset="0.000" stop-color="#4468ad"/><stop offset="0.167" stop-color="#496cb1"/><stop offset="0.224" stop-color="#587abb"/><stop offset="0.276" stop-color="#b2c3e2"/><stop offset="0.305" stop-color="#e5eaf2"/><stop offset="0.339" stop-color="#f4f2f0"/><stop offset="0.374" stop-color="#f5ece4"/><stop offset="0.420" stop-color="#f4efea"/><stop offset="0.460" stop-color="#f1f1f2"/><stop offset="0.534" stop-color="#e1e6f1"/><stop offset="0.695" stop-color="#7390c7"/><stop offset="0.753" stop-color="#5577b9"/><stop offset="0.983" stop-color="#4669af"/><stop offset="1.000" stop-color="#4569ae"/></linearGradient>
<linearGradient id="h130" x1="38" x2="212" y1="0" y2="0" gradientUnits="userSpaceOnUse"><stop offset="0.000" stop-color="#4367ad"/><stop offset="0.172" stop-color="#4a6db2"/><stop offset="0.218" stop-color="#5578ba"/><stop offset="0.253" stop-color="#8aa3d2"/><stop offset="0.305" stop-color="#e5eaf2"/><stop offset="0.345" stop-color="#f4f1ee"/><stop offset="0.385" stop-color="#f5ece5"/><stop offset="0.460" stop-color="#f1f1f2"/><stop offset="0.540" stop-color="#e1e7f1"/><stop offset="0.684" stop-color="#829cce"/><stop offset="0.764" stop-color="#5678ba"/><stop offset="0.989" stop-color="#466aaf"/><stop offset="1.000" stop-color="#4669af"/></linearGradient>
<linearGradient id="h131" x1="38" x2="212" y1="0" y2="0" gradientUnits="userSpaceOnUse"><stop offset="0.000" stop-color="#4367ad"/><stop offset="0.167" stop-color="#4a6db1"/><stop offset="0.218" stop-color="#5779bb"/><stop offset="0.276" stop-color="#b7c7e4"/><stop offset="0.305" stop-color="#e6eaf2"/><stop offset="0.345" stop-color="#f4f1ef"/><stop offset="0.391" stop-color="#f5ede7"/><stop offset="0.460" stop-color="#f1f1f2"/><stop offset="0.546" stop-color="#e1e7f1"/><stop offset="0.695" stop-color="#839dcf"/><stop offset="0.782" stop-color="#5578ba"/><stop offset="1.000" stop-color="#466aaf"/></linearGradient>
<linearGradient id="h132" x1="38" x2="212" y1="0" y2="0" gradientUnits="userSpaceOnUse"><stop offset="0.000" stop-color="#4266ac"/><stop offset="0.155" stop-color="#476aaf"/><stop offset="0.218" stop-color="#5678ba"/><stop offset="0.264" stop-color="#9fb4db"/><stop offset="0.305" stop-color="#e4e9f2"/><stop offset="0.351" stop-color="#f4f2f1"/><stop offset="0.402" stop-color="#f4eee9"/><stop offset="0.414" stop-color="#f5eae1"/><stop offset="0.437" stop-color="#f4efeb"/><stop offset="0.448" stop-color="#f1f1f2"/><stop offset="0.546" stop-color="#dfe5f0"/><stop offset="0.695" stop-color="#859fd0"/><stop offset="0.787" stop-color="#5577ba"/><stop offset="1.000" stop-color="#4569ae"/></linearGradient>
<linearGradient id="h133" x1="38" x2="212" y1="0" y2="0" gradientUnits="userSpaceOnUse"><stop offset="0.000" stop-color="#4266ac"/><stop offset="0.161" stop-color="#476bb0"/><stop offset="0.218" stop-color="#5678ba"/><stop offset="0.264" stop-color="#9fb4db"/><stop offset="0.305" stop-color="#e2e8f1"/><stop offset="0.356" stop-color="#f4f3f2"/><stop offset="0.379" stop-color="#f4f2f0"/><stop offset="0.402" stop-color="#f5ccac"/><stop offset="0.414" stop-color="#f4c5a1"/><stop offset="0.431" stop-color="#f4caa9"/><stop offset="0.454" stop-color="#f6dfcb"/><stop offset="0.477" stop-color="#f2f2f2"/><stop offset="0.494" stop-color="#eaedf2"/><stop offset="0.546" stop-color="#e0e6f1"/><stop offset="0.707" stop-color="#849ecf"/><stop offset="0.799" stop-color="#5577ba"/><stop offset="1.000" stop-color="#4669af"/></linearGradient>
<linearGradient id="h134" x1="38" x2="212" y1="0" y2="0" gradientUnits="userSpaceOnUse"><stop offset="0.000" stop-color="#4367ad"/><stop offset="0.155" stop-color="#4a6db1"/><stop offset="0.207" stop-color="#5578ba"/><stop offset="0.247" stop-color="#8fa7d4"/><stop offset="0.299" stop-color="#e4e9f2"/><stop offset="0.345" stop-color="#f4f2f0"/><stop offset="0.368" stop-color="#f4efeb"/><stop offset="0.385" stop-color="#f3bd93"/><stop offset="0.397" stop-color="#ee9b73"/><stop offset="0.408" stop-color="#eb8864"/><stop offset="0.425" stop-color="#eb8965"/><stop offset="0.448" stop-color="#efa077"/><stop offset="0.466" stop-color="#f3bd94"/><stop offset="0.494" stop-color="#f4eee9"/><stop offset="0.500" stop-color="#f0f1f2"/><stop offset="0.575" stop-color="#dfe5f0"/><stop offset="0.724" stop-color="#8da5d3"/><stop offset="0.839" stop-color="#5678ba"/><stop offset="1.000" stop-color="#496db1"/></linearGradient>
<linearGradient id="h135" x1="38" x2="212" y1="0" y2="0" gradientUnits="userSpaceOnUse"><stop offset="0.000" stop-color="#4266ac"/><stop offset="0.155" stop-color="#496db1"/><stop offset="0.207" stop-color="#5678ba"/><stop offset="0.241" stop-color="#86a0d0"/><stop offset="0.299" stop-color="#e3e8f2"/><stop offset="0.351" stop-color="#f4f2f1"/><stop offset="0.356" stop-color="#f4f2ef"/><stop offset="0.362" stop-color="#f5e4d5"/><stop offset="0.374" stop-color="#f2b78b"/><stop offset="0.385" stop-color="#ea8162"/><stop offset="0.397" stop-color="#e1504f"/><stop offset="0.402" stop-color="#de4049"/><stop offset="0.425" stop-color="#dd3c47"/><stop offset="0.437" stop-color="#df434a"/><stop offset="0.454" stop-color="#e56356"/><stop offset="0.471" stop-color="#ed916a"/><stop offset="0.483" stop-color="#f1ad82"/><stop offset="0.506" stop-color="#f5e7da"/><stop offset="0.511" stop-color="#f4f0ed"/><stop offset="0.529" stop-color="#e9ecf2"/><stop offset="0.580" stop-color="#dde4f0"/><stop offset="0.741" stop-color="#88a1d1"/><stop offset="0.851" stop-color="#5578ba"/><stop offset="1.000" stop-color="#4a6db1"/></linearGradient>
<linearGradient id="h136" x1="38" x2="212" y1="0" y2="0" gradientUnits="userSpaceOnUse"><stop offset="0.000" stop-color="#4266ac"/><stop offset="0.155" stop-color="#4a6db2"/><stop offset="0.207" stop-color="#587abb"/><stop offset="0.282" stop-color="#cbd6ea"/><stop offset="0.299" stop-color="#e4e9f2"/><stop offset="0.345" stop-color="#f4f3f2"/><stop offset="0.351" stop-color="#f5ece5"/><stop offset="0.362" stop-color="#f3b98d"/><stop offset="0.374" stop-color="#e8735c"/><stop offset="0.379" stop-color="#e14d4e"/><stop offset="0.385" stop-color="#db3a45"/><stop offset="0.408" stop-color="#d02938"/><stop offset="0.448" stop-color="#d5303e"/><stop offset="0.471" stop-color="#de3e48"/><stop offset="0.483" stop-color="#e56557"/><stop offset="0.494" stop-color="#ee9972"/><stop offset="0.506" stop-color="#f4c098"/><stop offset="0.517" stop-color="#f6decb"/><stop offset="0.529" stop-color="#f4f2f0"/><stop offset="0.540" stop-color="#e9ecf2"/><stop offset="0.586" stop-color="#dfe5f0"/><stop offset="0.770" stop-color="#819cce"/><stop offset="0.874" stop-color="#5577b9"/><stop offset="1.000" stop-color="#4b6eb2"/></linearGradient>
<linearGradient id="h137" x1="38" x2="212" y1="0" y2="0" gradientUnits="userSpaceOnUse"><stop offset="0.000" stop-color="#4266ac"/><stop offset="0.149" stop-color="#496cb1"/><stop offset="0.207" stop-color="#597bbb"/><stop offset="0.282" stop-color="#cbd6ea"/><stop offset="0.299" stop-color="#e4e9f2"/><stop offset="0.339" stop-color="#f1f1f2"/><stop offset="0.345" stop-color="#f5e6d8"/><stop offset="0.351" stop-color="#f4c9a7"/><stop offset="0.356" stop-color="#efa37a"/><stop offset="0.362" stop-color="#e97a5f"/><stop offset="0.368" stop-color="#e04c4d"/><stop offset="0.374" stop-color="#d93743"/><stop offset="0.391" stop-color="#ca2334"/><stop offset="0.420" stop-color="#c01d31"/><stop offset="0.466" stop-color="#cf2737"/><stop offset="0.489" stop-color="#dc3b46"/><stop offset="0.494" stop-color="#e1504f"/><stop offset="0.506" stop-color="#ec8c66"/><stop offset="0.517" stop-color="#f2b68a"/><stop offset="0.534" stop-color="#f5e4d5"/><stop offset="0.540" stop-color="#f4eee9"/><stop offset="0.546" stop-color="#eff0f2"/><stop offset="0.552" stop-color="#e7ebf2"/><stop offset="0.598" stop-color="#dbe2ef"/><stop offset="0.776" stop-color="#859fd0"/><stop offset="0.891" stop-color="#5577b9"/><stop offset="1.000" stop-color="#4c6fb3"/></linearGradient>
<linearGradient id="h138" x1="38" x2="212" y1="0" y2="0" gradientUnits="userSpaceOnUse"><stop offset="0.000" stop-color="#4266ac"/><stop offset="0.144" stop-color="#496cb1"/><stop offset="0.201" stop-color="#5678ba"/><stop offset="0.276" stop-color="#c3d0e8"/><stop offset="0.299" stop-color="#e4e9f2"/><stop offset="0.333" stop-color="#f3f2f2"/><stop offset="0.339" stop-color="#f6dfcc"/><stop offset="0.345" stop-color="#f3be95"/><stop offset="0.351" stop-color="#ed946d"/><stop offset="0.356" stop-color="#e35852"/><stop offset="0.362" stop-color="#da3844"/><stop offset="0.379" stop-color="#c62033"/><stop offset="0.402" stop-color="#b4172d"/><stop offset="0.448" stop-color="#b8182e"/><stop offset="0.483" stop-color="#cb2334"/><stop offset="0.506" stop-color="#df4249"/><stop offset="0.523" stop-color="#ee966f"/><stop offset="0.534" stop-color="#f3c098"/><stop offset="0.546" stop-color="#f6e0ce"/><stop offset="0.557" stop-color="#f3f2f2"/><stop offset="0.569" stop-color="#e6eaf2"/><stop offset="0.626" stop-color="#d4dced"/><stop offset="0.816" stop-color="#7d98cc"/><stop offset="0.920" stop-color="#5577b9"/><stop offset="1.000" stop-color="#4f71b5"/></linearGradient>
<linearGradient id="h139" x1="38" x2="212" y1="0" y2="0" gradientUnits="userSpaceOnUse"><stop offset="0.000" stop-color="#476bb0"/><stop offset="0.149" stop-color="#5073b6"/><stop offset="0.178" stop-color="#5779ba"/><stop offset="0.230" stop-color="#98aed8"/><stop offset="0.270" stop-color="#d4dded"/><stop offset="0.276" stop-color="#d0daec"/><stop offset="0.293" stop-color="#e5eaf2"/><stop offset="0.322" stop-color="#f0f0f2"/><stop offset="0.328" stop-color="#f5ebe3"/><stop offset="0.333" stop-color="#f5d2b5"/><stop offset="0.339" stop-color="#f1ad83"/><stop offset="0.345" stop-color="#e97c60"/><stop offset="0.351" stop-color="#de3d48"/><stop offset="0.362" stop-color="#cc2435"/><stop offset="0.385" stop-color="#af142b"/><stop offset="0.466" stop-color="#af142b"/><stop offset="0.489" stop-color="#bf1c30"/><stop offset="0.517" stop-color="#db3a45"/><stop offset="0.523" stop-color="#e04c4d"/><stop offset="0.534" stop-color="#ec8a65"/><stop offset="0.546" stop-color="#f3b78c"/><stop offset="0.563" stop-color="#f5e4d5"/><stop offset="0.569" stop-color="#f5eee8"/><stop offset="0.575" stop-color="#f1f1f2"/><stop offset="0.580" stop-color="#e9ecf2"/><stop offset="0.638" stop-color="#dfe5f0"/><stop offset="0.845" stop-color="#86a0d0"/><stop offset="0.983" stop-color="#5577b9"/><stop offset="1.000" stop-color="#5476b9"/></linearGradient>
<linearGradient id="h140" x1="38" x2="212" y1="0" y2="0" gradientUnits="userSpaceOnUse"><stop offset="0.000" stop-color="#4d70b4"/><stop offset="0.144" stop-color="#5678ba"/><stop offset="0.190" stop-color="#7e99cc"/><stop offset="0.264" stop-color="#e4e9f2"/><stop offset="0.270" stop-color="#e7ebf2"/><stop offset="0.276" stop-color="#cfd9eb"/><stop offset="0.293" stop-color="#e5eaf2"/><stop offset="0.316" stop-color="#edeff2"/><stop offset="0.322" stop-color="#f5e7db"/><stop offset="0.328" stop-color="#f4cbaa"/><stop offset="0.333" stop-color="#f0a57b"/><stop offset="0.339" stop-color="#e7705b"/><stop offset="0.345" stop-color="#dc3b46"/><stop offset="0.356" stop-color="#c52032"/><stop offset="0.374" stop-color="#ae132b"/><stop offset="0.483" stop-color="#ac122a"/><stop offset="0.517" stop-color="#d22c3b"/><stop offset="0.529" stop-color="#db3a45"/><stop offset="0.534" stop-color="#e14e4e"/><stop offset="0.546" stop-color="#ec8e68"/><stop offset="0.557" stop-color="#f3b88c"/><stop offset="0.575" stop-color="#f6e2d2"/><stop offset="0.586" stop-color="#f3f3f2"/><stop offset="0.603" stop-color="#e7ebf2"/><stop offset="0.661" stop-color="#d8e0ee"/><stop offset="0.891" stop-color="#7a96cb"/><stop offset="1.000" stop-color="#5678ba"/></linearGradient>
<linearGradient id="h141" x1="38" x2="212" y1="0" y2="0" gradientUnits="userSpaceOnUse"><stop offset="0.000" stop-color="#4e71b5"/><stop offset="0.132" stop-color="#5678ba"/><stop offset="0.184" stop-color="#819bce"/><stop offset="0.259" stop-color="#e4e9f2"/><stop offset="0.270" stop-color="#e9ecf2"/><stop offset="0.276" stop-color="#ccd6ea"/><stop offset="0.299" stop-color="#e6eaf2"/><stop offset="0.310" stop-color="#eaedf2"/><stop offset="0.316" stop-color="#f6e3d4"/><stop offset="0.322" stop-color="#f4c6a2"/><stop offset="0.328" stop-color="#ef9f76"/><stop offset="0.333" stop-color="#e66958"/><stop offset="0.339" stop-color="#db3945"/><stop offset="0.351" stop-color="#c52032"/><stop offset="0.362" stop-color="#b0142b"/><stop offset="0.408" stop-color="#ac122a"/><stop offset="0.489" stop-color="#ac122a"/><stop offset="0.529" stop-color="#d42e3c"/><stop offset="0.540" stop-color="#de3e48"/><stop offset="0.552" stop-color="#e97c60"/><stop offset="0.563" stop-color="#f0a980"/><stop offset="0.575" stop-color="#f4caa9"/><stop offset="0.592" stop-color="#f5ebe3"/><stop offset="0.598" stop-color="#f4f3f2"/><stop offset="0.609" stop-color="#e6eaf2"/><stop offset="0.661" stop-color="#dae1ef"/><stop offset="0.879" stop-color="#86a0d0"/><stop offset="1.000" stop-color="#5c7dbd"/></linearGradient>
<linearGradient id="h142" x1="38" x2="212" y1="0" y2="0" gradientUnits="userSpaceOnUse"><stop offset="0.000" stop-color="#4a6db2"/><stop offset="0.149" stop-color="#5577ba"/><stop offset="0.195" stop-color="#819bce"/><stop offset="0.270" stop-color="#e5eaf2"/><stop offset="0.276" stop-color="#d4dced"/><stop offset="0.293" stop-color="#e6eaf2"/><stop offset="0.305" stop-color="#eaedf2"/><stop offset="0.310" stop-color="#f5e5d7"/><stop offset="0.316" stop-color="#f3bc92"/><stop offset="0.322" stop-color="#ed946d"/><stop offset="0.328" stop-color="#e35b53"/><stop offset="0.333" stop-color="#d93743"/><stop offset="0.345" stop-color="#c41f32"/><stop offset="0.356" stop-color="#ac122a"/><stop offset="0.500" stop-color="#ae132b"/><stop offset="0.534" stop-color="#d12b3a"/><stop offset="0.546" stop-color="#db3a45"/><stop offset="0.552" stop-color="#e04b4d"/><stop offset="0.563" stop-color="#eb8463"/><stop offset="0.580" stop-color="#f3bc91"/><stop offset="0.603" stop-color="#f5e9df"/><stop offset="0.609" stop-color="#f4f1ee"/><stop offset="0.626" stop-color="#e8ecf2"/><stop offset="0.690" stop-color="#dee5f0"/><stop offset="0.931" stop-color="#89a2d1"/><stop offset="1.000" stop-color="#728fc7"/></linearGradient>
<linearGradient id="h143" x1="38" x2="212" y1="0" y2="0" gradientUnits="userSpaceOnUse"><stop offset="0.000" stop-color="#4568ae"/><stop offset="0.144" stop-color="#4f72b5"/><stop offset="0.178" stop-color="#5b7cbc"/><stop offset="0.247" stop-color="#b5c5e3"/><stop offset="0.270" stop-color="#d5dded"/><stop offset="0.282" stop-color="#dde4f0"/><stop offset="0.299" stop-color="#e8ecf2"/><stop offset="0.305" stop-color="#f5eae2"/><stop offset="0.310" stop-color="#f4c7a3"/><stop offset="0.316" stop-color="#ec8f69"/><stop offset="0.322" stop-color="#e35852"/><stop offset="0.328" stop-color="#d93743"/><stop offset="0.339" stop-color="#c52032"/><stop offset="0.351" stop-color="#ae132b"/><stop offset="0.500" stop-color="#ac122a"/><stop offset="0.534" stop-color="#cd2435"/><stop offset="0.552" stop-color="#db3945"/><stop offset="0.557" stop-color="#e0474c"/><stop offset="0.569" stop-color="#e97d60"/><stop offset="0.586" stop-color="#f2b388"/><stop offset="0.609" stop-color="#f6e3d3"/><stop offset="0.621" stop-color="#f4f0ec"/><stop offset="0.632" stop-color="#eeeff2"/><stop offset="0.655" stop-color="#e8ecf2"/><stop offset="0.730" stop-color="#dee5f0"/><stop offset="0.989" stop-color="#89a2d1"/><stop offset="1.000" stop-color="#859fd0"/></linearGradient>
<linearGradient id="h144" x1="38" x2="212" y1="0" y2="0" gradientUnits="userSpaceOnUse"><stop offset="0.000" stop-color="#4367ad"/><stop offset="0.144" stop-color="#4f72b5"/><stop offset="0.178" stop-color="#597bbc"/><stop offset="0.259" stop-color="#c2cfe7"/><stop offset="0.287" stop-color="#e5eaf2"/><stop offset="0.293" stop-color="#e7ebf2"/><stop offset="0.299" stop-color="#f4f2f1"/><stop offset="0.305" stop-color="#f5d5bb"/><stop offset="0.310" stop-color="#f0a67c"/><stop offset="0.316" stop-color="#e35c53"/><stop offset="0.322" stop-color="#db3944"/><stop offset="0.339" stop-color="#bf1c30"/><stop offset="0.351" stop-color="#ac122a"/><stop offset="0.500" stop-color="#ac122a"/><stop offset="0.540" stop-color="#d02938"/><stop offset="0.557" stop-color="#dd3c47"/><stop offset="0.580" stop-color="#ed946d"/><stop offset="0.598" stop-color="#f3be94"/><stop offset="0.615" stop-color="#f6deca"/><stop offset="0.644" stop-color="#f4f2f0"/><stop offset="0.672" stop-color="#f0f0f2"/><stop offset="0.810" stop-color="#e9ecf2"/><stop offset="0.879" stop-color="#dde3f0"/><stop offset="1.000" stop-color="#b7c6e4"/></linearGradient>
<linearGradient id="h145" x1="38" x2="212" y1="0" y2="0" gradientUnits="userSpaceOnUse"><stop offset="0.000" stop-color="#4569ae"/><stop offset="0.138" stop-color="#5072b6"/><stop offset="0.172" stop-color="#5b7cbc"/><stop offset="0.241" stop-color="#b2c3e2"/><stop offset="0.282" stop-color="#e5eaf2"/><stop offset="0.293" stop-color="#eaedf2"/><stop offset="0.299" stop-color="#f5e6d9"/><stop offset="0.305" stop-color="#f4c49e"/><stop offset="0.310" stop-color="#ed926c"/><stop offset="0.316" stop-color="#e0474b"/><stop offset="0.328" stop-color="#d22c3b"/><stop offset="0.356" stop-color="#ad132a"/><stop offset="0.489" stop-color="#ae132b"/><stop offset="0.534" stop-color="#d02838"/><stop offset="0.557" stop-color="#df434a"/><stop offset="0.575" stop-color="#eb8463"/><stop offset="0.598" stop-color="#f3b98d"/><stop offset="0.615" stop-color="#f5d4ba"/><stop offset="0.661" stop-color="#f4efea"/><stop offset="0.736" stop-color="#f5e8dd"/><stop offset="0.862" stop-color="#f2f2f2"/><stop offset="1.000" stop-color="#e4e9f2"/></linearGradient>
<linearGradient id="h146" x1="38" x2="212" y1="0" y2="0" gradientUnits="userSpaceOnUse"><stop offset="0.000" stop-color="#4367ac"/><stop offset="0.144" stop-color="#4e71b5"/><stop offset="0.178" stop-color="#587abb"/><stop offset="0.259" stop-color="#c1cee7"/><stop offset="0.287" stop-color="#e5e9f2"/><stop offset="0.293" stop-color="#e7ebf2"/><stop offset="0.299" stop-color="#f4f3f2"/><stop offset="0.305" stop-color="#f6deca"/><stop offset="0.310" stop-color="#f3bf96"/><stop offset="0.316" stop-color="#ee9770"/><stop offset="0.333" stop-color="#e25350"/><stop offset="0.339" stop-color="#de3e48"/><stop offset="0.362" stop-color="#d5303d"/><stop offset="0.489" stop-color="#d6313f"/><stop offset="0.517" stop-color="#df424a"/><stop offset="0.529" stop-color="#e35852"/><stop offset="0.546" stop-color="#ec8b65"/><stop offset="0.575" stop-color="#f4c29b"/><stop offset="0.603" stop-color="#f5e5d8"/><stop offset="0.615" stop-color="#f4f0ec"/><stop offset="0.638" stop-color="#eeeff2"/><stop offset="0.810" stop-color="#e4e9f2"/><stop offset="1.000" stop-color="#a8bcdf"/></linearGradient>
<linearGradient id="h147" x1="38" x2="212" y1="0" y2="0" gradientUnits="userSpaceOnUse"><stop offset="0.000" stop-color="#4266ac"/><stop offset="0.138" stop-color="#4c6fb3"/><stop offset="0.184" stop-color="#597abb"/><stop offset="0.276" stop-color="#d1dbec"/><stop offset="0.299" stop-color="#e7ebf2"/><stop offset="0.368" stop-color="#f3f2f2"/><stop offset="0.684" stop-color="#e4e9f2"/><stop offset="0.983" stop-color="#88a1d1"/><stop offset="1.000" stop-color="#839dce"/></linearGradient>
<linearGradient id="h148" x1="38" x2="212" y1="0" y2="0" gradientUnits="userSpaceOnUse"><stop offset="0.000" stop-color="#4366ac"/><stop offset="0.149" stop-color="#4c6fb3"/><stop offset="0.201" stop-color="#597abb"/><stop offset="0.299" stop-color="#bbcae5"/><stop offset="0.345" stop-color="#d5dded"/><stop offset="0.477" stop-color="#d3dced"/><stop offset="0.701" stop-color="#b0c1e1"/><stop offset="1.000" stop-color="#6786c2"/></linearGradient>
<linearGradient id="h149" x1="38" x2="212" y1="0" y2="0" gradientUnits="userSpaceOnUse"><stop offset="0.000" stop-color="#4266ac"/><stop offset="0.195" stop-color="#4b6eb3"/><stop offset="0.282" stop-color="#597bbc"/><stop offset="0.345" stop-color="#6f8dc6"/><stop offset="0.540" stop-color="#6b89c3"/><stop offset="0.810" stop-color="#5476b9"/><stop offset="1.000" stop-color="#4e71b4"/></linearGradient>
<linearGradient id="h150" x1="38" x2="212" y1="0" y2="0" gradientUnits="userSpaceOnUse"><stop offset="0.000" stop-color="#4367ac"/><stop offset="0.523" stop-color="#4c6fb3"/><stop offset="1.000" stop-color="#476aaf"/></linearGradient>
<linearGradient id="h151" x1="38" x2="212" y1="0" y2="0" gradientUnits="userSpaceOnUse"><stop offset="0.000" stop-color="#4266ac"/><stop offset="1.000" stop-color="#4367ad"/></linearGradient>
<linearGradient id="h152" x1="38" x2="212" y1="0" y2="0" gradientUnits="userSpaceOnUse"><stop offset="0.000" stop-color="#4266ac"/><stop offset="1.000" stop-color="#4366ac"/></linearGradient>
<linearGradient id="h153" x1="38" x2="212" y1="0" y2="0" gradientUnits="userSpaceOnUse"><stop offset="0.000" stop-color="#4266ac"/><stop offset="1.000" stop-color="#4266ac"/></linearGradient>
<linearGradient id="h154" x1="38" x2="212" y1="0" y2="0" gradientUnits="userSpaceOnUse"><stop offset="0.000" stop-color="#4266ac"/><stop offset="1.000" stop-color="#4266ac"/></linearGradient>
<linearGradient id="h155" x1="38" x2="212" y1="0" y2="0" gradientUnits="userSpaceOnUse"><stop offset="0.000" stop-color="#4266ac"/><stop offset="1.000" stop-color="#4266ac"/></linearGradient>
<linearGradient id="cbg" x1="0" x2="0" y1="0" y2="1"><stop offset="0.000" stop-color="#ac122a"/><stop offset="0.062" stop-color="#b9192e"/><stop offset="0.125" stop-color="#c62033"/><stop offset="0.188" stop-color="#d12a39"/><stop offset="0.250" stop-color="#d83542"/><stop offset="0.312" stop-color="#e0494c"/><stop offset="0.375" stop-color="#e8765d"/><stop offset="0.438" stop-color="#ee9b73"/><stop offset="0.500" stop-color="#f3ba8e"/><stop offset="0.562" stop-color="#f5d2b6"/><stop offset="0.625" stop-color="#f5e6da"/><stop offset="0.688" stop-color="#f0f0f2"/><stop offset="0.750" stop-color="#d7dfee"/><stop offset="0.812" stop-color="#a5b9de"/><stop offset="0.875" stop-color="#708ec6"/><stop offset="0.938" stop-color="#4f72b5"/><stop offset="1.000" stop-color="#4266ac"/></linearGradient>
</defs>
<g shape-rendering="crispEdges">
<rect x="38" y="11" width="174" height="1" fill="url(#h0)"/>
<rect x="38" y="12" width="174" height="1" fill="url(#h1)"/>
<rect x="38" y="13" width="174" height="1" fill="url(#h2)"/>
<rect x="38" y="14" width="174" height="1" fill="url(#h3)"/>
<rect x="38" y="15" width="174" height="1" fill="url(#h4)"/>
<rect x="38" y="16" width="174" height="1" fill="url(#h5)"/>
<rect x="38" y="17" width="174" height="1" fill="url(#h6)"/>
<rect x="38" y="18" width="174" height="1" fill="url(#h7)"/>
<rect x="38" y="19" width="174" height="1" fill="url(#h8)"/>
<rect x="38" y="20" width="174" height="1" fill="url(#h9)"/>
<rect x="38" y="21" width="174" height="1" fill="url(#h10)"/>
<rect x="38" y="22" width="174" height="1" fill="url(#h11)"/>
<rect x="38" y="23" width="174" height="1" fill="url(#h12)"/>
<rect x="38" y="24" width="174" height="1" fill="url(#h13)"/>
<rect x="38" y="25" width="174" height="1" fill="url(#h14)"/>
<rect x="38" y="26" width="174" height="1" fill="url(#h15)"/>
<rect x="38" y="27" width="174" height="1" fill="url(#h16)"/>
<rect x="38" y="28" width="174" height="1" fill="url(#h17)"/>
<rect x="38" y="29" width="174" height="1" fill="url(#h18)"/>
<rect x="38" y="30" width="174" height="1" fill="url(#h19)"/>
<rect x="38" y="31" width="174" height="1" fill="url(#h20)"/>
<rect x="38" y="32" width="174" height="1" fill="url(#h21)"/>
<rect x="38" y="33" width="174" height="1" fill="url(#h22)"/>
<rect x="38" y="34" width="174" height="1" fill="url(#h23)"/>
<rect x="38" y="35" width="174" height="1" fill="url(#h24)"/>
<rect x="38" y="36" width="174" height="1" fill="url(#h25)"/>
<rect x="38" y="37" width="174" height="1" fill="url(#h26)"/>
<rect x="38" y="38" width="174" height="1" fill="url(#h27)"/>
<rect x="38" y="39" width="174" height="1" fill="url(#h28)"/>
<rect x="38" y="40" width="174" height="1" fill="url(#h29)"/>
<rect x="38" y="41" width="174" height="1" fill="url(#h30)"/>
<rect x="38" y="42" width="174" height="1" fill="url(#h31)"/>
<rect x="38" y="43" width="174" height="1" fill="url(#h32)"/>
<rect x="38" y="44" width="174" height="1" fill="url(#h33)"/>
<rect x="38" y="45" width="174" height="1" fill="url(#h34)"/>
<rect x="38" y="46" width="174" height="1" fill="url(#h35)"/>
<rect x="38" y="47" width="174" height="1" fill="url(#h36)"/>
<rect x="38" y="48" width="174" height="1" fill="url(#h37)"/>
<rect x="38" y="49" width="174" height="1" fill="url(#h38)"/>
<rect x="38" y="50" width="174" height="1" fill="url(#h39)"/>
<rect x="38" y="51" width="174" height="1" fill="url(#h40)"/>
<rect x="38" y="52" width="174" height="1" fill="url(#h41)"/>
<rect x="38" y="53" width="174" height="1" fill="url(#h42)"/>
<rect x="38" y="54" width="174" height="1" fill="url(#h43)"/>
<rect x="38" y="55" width="174" height="1" fill="url(#h44)"/>
<rect x="38" y="56" width="174" height="1" fill="url(#h45)"/>
<rect x="38" y="57" width="174" height="1" fill="url(#h46)"/>
<rect x="38" y="58" width="174" height="1" fill="url(#h47)"/>
<rect x="38" y="59" width="174" height="1" fill="url(#h48)"/>
<rect x="38" y="60" width="174" height="1" fill="url(#h49)"/>
<rect x="38" y="61" width="174" height="1" fill="url(#h50)"/>
<rect x="38" y="62" width="174" height="1" fill="url(#h51)"/>
<rect x="38" y="63" width="174" height="1" fill="url(#h52)"/>
<rect x="38" y="64" width="174" height="1" fill="url(#h53)"/>
<rect x="38" y="65" width="174" height="1" fill="url(#h54)"/>
<rect x="38" y="66" width="174" height="1" fill="url(#h55)"/>
<rect x="38" y="67" width="174" height="1" fill="url(#h56)"/>
<rect x="38" y="68" width="174" height="1" fill="url(#h57)"/>
<rect x="38" y="69" width="174" height="1" fill="url(#h58)"/>
<rect x="38" y="70" width="174" height="1" fill="url(#h59)"/>
<rect x="38" y="71" width="174" height="1" fill="url(#h60)"/>
<rect x="38" y="72" width="174" height="1" fill="url(#h61)"/>
<rect x="38" y="73" width="174" height="1" fill="url(#h62)"/>
<rect x="38" y="74" width="174" height="1" fill="url(#h63)"/>
<rect x="38" y="75" width="174" height="1" fill="url(#h64)"/>
<rect x="38" y="76" width="174" height="1" fill="url(#h65)"/>
<rect x="38" y="77" width="174" height="1" fill="url(#h66)"/>
<rect x="38" y="78" width="174" height="1" fill="url(#h67)"/>
<rect x="38" y="79" width="174" height="1" fill="url(#h68)"/>
<rect x="38" y="80" width="174" height="1" fill="url(#h69)"/>
<rect x="38" y="81" width="174" height="1" fill="url(#h70)"/>
<rect x="38" y="82" width="174" height="1" fill="url(#h71)"/>
<rect x="38" y="83" width="174" height="1" fill="url(#h72)"/>
<rect x="38" y="84" width="174" height="1" fill="url(#h73)"/>
<rect x="38" y="85" width="174" height="1" fill="url(#h74)"/>
<rect x="38" y="86" width="174" height="1" fill="url(#h75)"/>
<rect x="38" y="87" width="174" height="1" fill="url(#h76)"/>
<rect x="38" y="88" width="174" height="1" fill="url(#h77)"/>
<rect x="38" y="89" width="174" height="1" fill="url(#h78)"/>
<rect x="38" y="90" width="174" height="1" fill="url(#h79)"/>
<rect x="38" y="91" width="174" height="1" fill="url(#h80)"/>
<rect x="38" y="92" width="174" height="1" fill="url(#h81)"/>
<rect x="38" y="93" width="174" height="1" fill="url(#h82)"/>
<rect x="38" y="94" width="174" height="1" fill="url(#h83)"/>
<rect x="38" y="95" width="174" height="1" fill="url(#h84)"/>
<rect x="38" y="96" width="174" height="1" fill="url(#h85)"/>
<rect x="38" y="97" width="174" height="1" fill="url(#h86)"/>
<rect x="38" y="98" width="174" height="1" fill="url(#h87)"/>
<rect x="38" y="99" width="174" height="1" fill="url(#h88)"/>
<rect x="38" y="100" width="174" height="1" fill="url(#h89)"/>
<rect x="38" y="101" width="174" height="1" fill="url(#h90)"/>
<rect x="38" y="102" width="174" height="1" fill="url(#h91)"/>
<rect x="38" y="103" width="174" height="1" fill="url(#h92)"/>
<rect x="38" y="104" width="174" height="1" fill="url(#h93)"/>
<rect x="38" y="105" width="174" height="1" fill="url(#h94)"/>
<rect x="38" y="106" width="174" height="1" fill="url(#h95)"/>
<rect x="38" y="107" width="174" height="1" fill="url(#h96)"/>
<rect x="38" y="108" width="174" height="1" fill="url(#h97)"/>
<rect x="38" y="109" width="174" height="1" fill="url(#h98)"/>
<rect x="38" y="110" width="174" height="1" fill="url(#h99)"/>
<rect x="38" y="111" width="174" height="1" fill="url(#h100)"/>
<rect x="38" y="112" width="174" height="1" fill="url(#h101)"/>
<rect x="38" y="113" width="174" height="1" fill="url(#h102)"/>
<rect x="38" y="114" width="174" height="1" fill="url(#h103)"/>
<rect x="38" y="115" width="174" height="1" fill="url(#h104)"/>
<rect x="38" y="116" width="174" height="1" fill="url(#h105)"/>
<rect x="38" y="117" width="174" height="1" fill="url(#h106)"/>
<rect x="38" y="118" width="174" height="1" fill="url(#h107)"/>
<rect x="38" y="119" width="174" height="1" fill="url(#h108)"/>
<rect x="38" y="120" width="174" height="1" fill="url(#h109)"/>
<rect x="38" y="121" width="174" height="1" fill="url(#h110)"/>
<rect x="38" y="122" width="174" height="1" fill="url(#h111)"/>
<rect x="38" y="123" width="174" height="1" fill="url(#h112)"/>
<rect x="38" y="124" width="174" height="1" fill="url(#h113)"/>
<rect x="38" y="125" width="174" height="1" fill="url(#h114)"/>
<rect x="38" y="126" width="174" height="1" fill="url(#h115)"/>
<rect x="38" y="127" width="174" height="1" fill="url(#h116)"/>
<rect x="38" y="128" width="174" height="1" fill="url(#h117)"/>
<rect x="38" y="129" width="174" height="1" fill="url(#h118)"/>
<rect x="38" y="130" width="174" height="1" fill="url(#h119)"/>
<rect x="38" y="131" width="174" height="1" fill="url(#h120)"/>
<rect x="38" y="132" width="174" height="1" fill="url(#h121)"/>
<rect x="38" y="133" width="174" height="1" fill="url(#h122)"/>
<rect x="38" y="134" width="174" height="1" fill="url(#h123)"/>
<rect x="38" y="135" width="174" height="1" fill="url(#h124)"/>
<rect x="38" y="136" width="174" height="1" fill="url(#h125)"/>
<rect x="38" y="137" width="174" height="1" fill="url(#h126)"/>
<rect x="38" y="138" width="174" height="1" fill="url(#h127)"/>
<rect x="38" y="139" width="174" height="1" fill="url(#h128)"/>
<rect x="38" y="140" width="174" height="1" fill="url(#h129)"/>
<rect x="38" y="141" width="174" height="1" fill="url(#h130)"/>
<rect x="38" y="142" width="174" height="1" fill="url(#h131)"/>
<rect x="38" y="143" width="174" height="1" fill="url(#h132)"/>
<rect x="38" y="144" width="174" height="1" fill="url(#h133)"/>
<rect x="38" y="145" width="174" height="1" fill="url(#h134)"/>
<rect x="38" y="146" width="174" height="1" fill="url(#h135)"/>
<rect x="38" y="147" width="174" height="1" fill="url(#h136)"/>
<rect x="38" y="148" width="174" height="1" fill="url(#h137)"/>
<rect x="38" y="149" width="174" height="1" fill="url(#h138)"/>
<rect x="38" y="150" width="174" height="1" fill="url(#h139)"/>
<rect x="38" y="151" width="174" height="1" fill="url(#h140)"/>
<rect x="38" y="152" width="174" height="1" fill="url(#h141)"/>
<rect x="38" y="153" width="174" height="1" fill="url(#h142)"/>
<rect x="38" y="154" width="174" height="1" fill="url(#h143)"/>
<rect x="38" y="155" width="174" height="1" fill="url(#h144)"/>
<rect x="38" y="156" width="174" height="1" fill="url(#h145)"/>
<rect x="38" y="157" width="174" height="1" fill="url(#h146)"/>
<rect x="38" y="158" width="174" height="1" fill="url(#h147)"/>
<rect x="38" y="159" width="174" height="1" fill="url(#h148)"/>
<rect x="38" y="160" width="174" height="1" fill="url(#h149)"/>
<rect x="38" y="161" width="174" height="1" fill="url(#h150)"/>
<rect x="38" y="162" width="174" height="1" fill="url(#h151)"/>
<rect x="38" y="163" width="174" height="1" fill="url(#h152)"/>
<rect x="38" y="164" width="174" height="1" fill="url(#h153)"/>
<rect x="38" y="165" width="174" height="1" fill="url(#h154)"/>
<rect x="38" y="166" width="174" height="1" fill="url(#h155)"/>
</g>
<path d="M98.7,10.9 L98.5,13.9 L100.9,15 L102.5,13.7 L102.8,11.5" fill="none" stroke="#3c3c3c" stroke-width="0.75" stroke-linejoin="round"/>
<path d="M99.1,15.8 L97.8,17.9 L95.8,18.9 L96.4,19.9 L98,22.3 L96.3,23.8 L95.5,25.9 L96.4,27.1 L96.9,28.8 L97.8,29.8 L99.2,30.4 L101.3,30.7 L102.5,30.9 L104.4,30.6 L105.7,29.7 L106.4,27.6 L107.1,28.2 L107,25.5 L106.5,24.5 L107.1,23.3 L107,21.2 L107,19.4 L105.6,18 L104.7,17.4 L103.3,16.9 L101,15.9 L99,16" fill="none" stroke="#3c3c3c" stroke-width="0.75" stroke-linejoin="round"/>
<path d="M99.4,31.8 L97.7,32.5 L97.9,35 L99,36.2 L102,37.7 L102.1,37.4 L103.7,37 L104.5,35.7 L104.1,34.5 L104.1,32.9 L102.4,32.3 L100.9,31.4 L99.5,31.8" fill="none" stroke="#3c3c3c" stroke-width="0.75" stroke-linejoin="round"/>
<path d="M99.6,40 L101,40 L100,41.4 L99.3,40" fill="none" stroke="#3c3c3c" stroke-width="0.75" stroke-linejoin="round"/>
<path d="M99.2,42.8 L99.3,42.9 L97.4,44.9 L96.3,45.7 L95.5,48.3 L96,49.4 L97.2,51.3 L98.7,53 L99.4,53 L101.1,53.3 L102.1,53.6 L103.8,53.1 L106,52.7 L107.3,50.9 L108.5,49.8 L107.2,47.6 L107.6,45.9 L106.5,44.4 L105.7,43.1 L103,42.6 L101.6,42.2 L99.5,42.6" fill="none" stroke="#3c3c3c" stroke-width="0.75" stroke-linejoin="round"/>
<path d="M99.3,57.8 L98.8,59.1 L97.3,59.9 L97.2,61.5 L96.4,64 L95.4,66.3 L95.5,67.3 L96.1,69.1 L96.8,69.9 L97.3,71.5 L98.4,73.6 L99,74.6 L100.5,75.4 L101.6,76.2 L103,75.5 L104.3,74.4 L105.7,74.2 L106.4,73.2 L108.1,72.8 L109.2,71.4 L110.4,70.6 L111,69.2 L110.8,67.7 L109.9,65.6 L108.8,64.4 L108.8,63.8 L108.2,62.3 L106.7,61.9 L105.6,59.6 L104.7,59.1 L103,57.9 L101,58.8 L99.5,58.2" fill="none" stroke="#3c3c3c" stroke-width="0.75" stroke-linejoin="round"/>
<path d="M99.4,76.8 L97.8,77.5 L97.6,79.4 L95.9,80.4 L96.2,83.1 L95.1,83.8 L95.7,85.5 L94.7,86.3 L95.7,87.7 L96.5,89.3 L97.4,89.9 L98,92.4 L99.1,93 L100.9,93 L103.5,93.5 L104.7,92.6 L105.8,93 L107.3,92.9 L107.6,91.9 L109.9,91.5 L110.8,90.3 L111.8,89.5 L113,87.7 L112.7,86.3 L113.2,84.9 L112.2,84.3 L111.1,82.1 L111,81.2 L110.5,80.1 L108.6,79.1 L107.9,78 L106.8,78.2 L104.9,77.3 L103.5,77.4 L102,76.6 L100.1,77 L99,76.8" fill="none" stroke="#3c3c3c" stroke-width="0.75" stroke-linejoin="round"/>
<path d="M99.3,94.1 L97.6,95.9 L96.6,96.8 L96.2,97.5 L95.4,99.4 L95.3,100.5 L94.8,102.1 L94.5,104.3 L95.3,105.3 L96,106.9 L95.7,108.3 L96.2,110.4 L96.4,111.8 L96.4,113.8 L95.8,114.6 L94.3,116.3 L95,117.8 L94.1,119.6 L93.6,121.2 L93.2,122.6 L93.5,124.4 L94.7,126.2 L94.4,127.1 L94.9,128.7 L94.1,130.2 L94,131.3 L93.7,133.1 L92.6,134.6 L93.1,136.6 L92.6,137.7 L92.1,139.1 L91.7,140.3 L91.8,141.8 L91.5,142.7 L90.4,145 L90.3,146.8 L89.4,148.4 L89.3,149.5 L88.8,150.4 L87.6,153.1 L87.1,154.6 L86.6,155.8 L86.4,156.6 L88.4,158.2 L89.4,158.1 L90,157.8 L91.8,158.1 L92.7,157.3 L94.9,158.3 L94.7,158.2 L96.3,158.4 L97.7,158.4 L99.7,158.2 L101.4,158.4 L102.6,158.4 L104.5,158.3 L105.7,158.3 L107.3,158.5 L108.5,158.8 L109.5,158.7 L110.8,158.2 L112.6,158.6 L113.7,158.1 L115.2,158.5 L116.4,158.2 L118.1,157.6 L120,158.4 L120.2,158.6 L122.6,157.8 L123.3,158 L124.8,158.1 L127,157.4 L127.7,158.4 L129.7,157.9 L130.3,157.9 L131.6,157.4 L133.8,157.7 L135,157.1 L136.1,157.2 L137.3,157.5 L139.1,156.9 L140.7,157 L141.2,156.9 L143,157 L144,157.2 L145.5,156.2 L146.1,157.8 L148.2,156.1 L149.4,156.4 L150.2,156.4 L152.1,157 L153.9,156.9 L154.9,156.5 L155.8,156.1 L157.8,156.1 L157.5,156.7 L158.7,156.4 L161,155.5 L162.3,156.1 L163.1,156 L164.2,155.6 L163.1,154.6 L161.5,153.8 L161.1,153.7 L159.5,153.2 L158.3,152.9 L156.4,152.6 L155.3,153 L153.1,152 L151.8,151.1 L150.8,150.8 L149.7,150.3 L147.8,149.7 L145.5,149 L145.5,149.1 L144.3,148.6 L142.7,148.7 L140.7,147.5 L139.9,147 L139.5,146.1 L137.6,145.4 L136.8,144.7 L136.1,144.5 L134.7,143.7 L133.1,143.2 L131.7,142.2 L131,141.6 L129.4,141 L128.1,139.8 L126.4,139.2 L125.6,138.1 L125.2,137.5 L124,136.1 L123.4,135.2 L122.8,133.6 L121.9,132.7 L121.4,131.6 L120,130.7 L120.5,129.3 L119.8,127.9 L120.3,126.5 L119.6,125.1 L119.2,124.2 L118.7,122.4 L117,121.7 L116.6,120.1 L116.3,119.5 L116.5,117.2 L117.7,116.1 L117.4,113.8 L118.3,113.4 L117.9,111.9 L116.6,111.2 L115.7,109.8 L115.3,107.8 L115.2,106.4 L115,105.5 L115.1,103.6 L114.6,102.1 L115,100 L114.1,99.1 L113.8,96.9 L112.8,96.6 L111.4,95.8 L110.6,95.2 L109.4,94.4 L107.5,94.7 L106.9,94.8 L104.3,94.9 L102.9,94.3 L101.3,94.6 L100.2,93.9 L99,94.6" fill="none" stroke="#3c3c3c" stroke-width="0.75" stroke-linejoin="round"/>
<line x1="101.3" y1="11.5" x2="101.3" y2="148" stroke="#d42a2a" stroke-width="1.3" stroke-dasharray="3.2,2.2"/>
<rect x="176.5" y="19" width="8" height="93.4" fill="url(#cbg)" stroke="#111" stroke-width="0.9"/>
<line x1="184.5" y1="20" x2="187" y2="20" stroke="#111" stroke-width="0.8"/>
<line x1="184.5" y1="112.2" x2="187" y2="112.2" stroke="#111" stroke-width="0.8"/>
<text x="192" y="24.7" font-size="10" text-anchor="start" fill="#ffffff" font-weight="normal" >32</text>
<text x="192" y="115.5" font-size="10" text-anchor="start" fill="#ffffff" font-weight="normal" >0</text>
<text x="0" y="0" font-size="11.5" text-anchor="middle" fill="#ffffff" transform="translate(196.5,64.5) rotate(90)" dominant-baseline="central">&#916; A (mOD)</text>
<rect x="38.5" y="11.5" width="173" height="155" fill="none" stroke="#444" stroke-width="1"/>
<line x1="73.5" y1="166" x2="73.5" y2="163" stroke="#222" stroke-width="0.9"/>
<text x="73.5" y="178.5" font-size="12" text-anchor="middle" fill="#1a1a1a" font-weight="normal" >390</text>
<line x1="108.5" y1="166" x2="108.5" y2="163" stroke="#222" stroke-width="0.9"/>
<text x="108.5" y="178.5" font-size="12" text-anchor="middle" fill="#1a1a1a" font-weight="normal" >400</text>
<line x1="143.5" y1="166" x2="143.5" y2="163" stroke="#222" stroke-width="0.9"/>
<text x="143.5" y="178.5" font-size="12" text-anchor="middle" fill="#1a1a1a" font-weight="normal" >410</text>
<line x1="178.5" y1="166" x2="178.5" y2="163" stroke="#222" stroke-width="0.9"/>
<text x="178.5" y="178.5" font-size="12" text-anchor="middle" fill="#1a1a1a" font-weight="normal" >420</text>
<line x1="38.5" y1="161" x2="41.5" y2="161" stroke="#222" stroke-width="0.9"/>
<text x="34" y="168.4" font-size="12" text-anchor="end" fill="#1a1a1a" font-weight="normal" >0</text>
<line x1="38.5" y1="136.1" x2="40.3" y2="136.1" stroke="#222" stroke-width="0.9"/>
<line x1="38.5" y1="111.2" x2="41.5" y2="111.2" stroke="#222" stroke-width="0.9"/>
<text x="34" y="118.6" font-size="12" text-anchor="end" fill="#1a1a1a" font-weight="normal" >2</text>
<line x1="38.5" y1="86.3" x2="40.3" y2="86.3" stroke="#222" stroke-width="0.9"/>
<line x1="38.5" y1="61.4" x2="41.5" y2="61.4" stroke="#222" stroke-width="0.9"/>
<text x="34" y="68.8" font-size="12" text-anchor="end" fill="#1a1a1a" font-weight="normal" >4</text>
<line x1="38.5" y1="36.5" x2="40.3" y2="36.5" stroke="#222" stroke-width="0.9"/>
<line x1="38.5" y1="11.6" x2="41.5" y2="11.6" stroke="#222" stroke-width="0.9"/>
<text x="34" y="19" font-size="12" text-anchor="end" fill="#1a1a1a" font-weight="normal" >6</text>
<text x="124" y="193.7" font-size="12" text-anchor="middle" fill="#1a1a1a" font-weight="normal" >Wavelength (nm)</text>
<text x="0" y="0" font-size="12" text-anchor="middle" fill="#1a1a1a" transform="translate(8.6,80.5) rotate(-90)" >Time (ps)</text>
<text x="14" y="7.2" font-size="12.5" text-anchor="start" fill="#000" font-weight="bold" >a</text>
<g fill="none" stroke="#1f527f" stroke-width="0.9">
<circle cx="42.5" cy="358.5" r="2"/>
<circle cx="43.5" cy="359.4" r="2"/>
<circle cx="44.5" cy="360.4" r="2"/>
<circle cx="45.5" cy="359.1" r="2"/>
<circle cx="46.5" cy="358.6" r="2"/>
<circle cx="47.5" cy="360.2" r="2"/>
<circle cx="48.5" cy="359.9" r="2"/>
<circle cx="49.5" cy="358.5" r="2"/>
<circle cx="50.5" cy="359.4" r="2"/>
<circle cx="51.5" cy="353.8" r="2"/>
<circle cx="53.1" cy="344.4" r="2"/>
<circle cx="53.1" cy="331.3" r="2"/>
<circle cx="53.1" cy="316.7" r="2"/>
<circle cx="53.1" cy="294.4" r="2"/>
<circle cx="53.4" cy="278.3" r="2"/>
<circle cx="53.7" cy="256" r="2"/>
<circle cx="54" cy="244.9" r="2"/>
<circle cx="54.6" cy="236" r="2"/>
<circle cx="55.3" cy="231" r="2"/>
<circle cx="56.3" cy="227.7" r="2"/>
<circle cx="57.2" cy="232" r="2"/>
<circle cx="57.7" cy="237.2" r="2"/>
<circle cx="58.3" cy="246.5" r="2"/>
<circle cx="58.9" cy="256" r="2"/>
<circle cx="59.6" cy="262" r="2"/>
<circle cx="60.2" cy="266.3" r="2"/>
<circle cx="60.6" cy="271.5" r="2"/>
<circle cx="61.4" cy="277.5" r="2"/>
<circle cx="62.4" cy="285" r="2"/>
<circle cx="62.8" cy="289.5" r="2"/>
<circle cx="63.2" cy="291.3" r="2"/>
<circle cx="63.6" cy="298.2" r="2"/>
<circle cx="63.5" cy="300.5" r="2"/>
<circle cx="64.1" cy="303.4" r="2"/>
<circle cx="64.7" cy="308.3" r="2"/>
<circle cx="65.4" cy="313.3" r="2"/>
<circle cx="66" cy="316.6" r="2"/>
<circle cx="66.6" cy="321" r="2"/>
<circle cx="67.2" cy="324.4" r="2"/>
<circle cx="67.9" cy="325.6" r="2"/>
<circle cx="68.5" cy="330.3" r="2"/>
<circle cx="69.1" cy="331.9" r="2"/>
<circle cx="69.7" cy="332.6" r="2"/>
<circle cx="70.4" cy="334.6" r="2"/>
<circle cx="71" cy="336.6" r="2"/>
<circle cx="71.6" cy="336.9" r="2"/>
<circle cx="72.2" cy="337.7" r="2"/>
<circle cx="72.9" cy="337" r="2"/>
<circle cx="73.5" cy="339.1" r="2"/>
<circle cx="74.1" cy="338.9" r="2"/>
<circle cx="74.7" cy="339" r="2"/>
<circle cx="75.4" cy="337.2" r="2"/>
<circle cx="76" cy="339.8" r="2"/>
<circle cx="76.6" cy="338" r="2"/>
<circle cx="77.2" cy="337.1" r="2"/>
<circle cx="77.9" cy="338.9" r="2"/>
<circle cx="78.5" cy="336.6" r="2"/>
<circle cx="79.1" cy="335.1" r="2"/>
<circle cx="79.8" cy="336" r="2"/>
<circle cx="80.6" cy="334.4" r="2"/>
<circle cx="81.3" cy="337.8" r="2"/>
<circle cx="82" cy="337.1" r="2"/>
<circle cx="82.7" cy="337.7" r="2"/>
<circle cx="83.4" cy="340.3" r="2"/>
<circle cx="84.1" cy="338.9" r="2"/>
<circle cx="84.8" cy="341.9" r="2"/>
<circle cx="85.6" cy="340.5" r="2"/>
<circle cx="86.3" cy="342.6" r="2"/>
<circle cx="87" cy="342.7" r="2"/>
<circle cx="87.7" cy="345.5" r="2"/>
<circle cx="88.4" cy="345.9" r="2"/>
<circle cx="89.1" cy="343.9" r="2"/>
<circle cx="89.8" cy="344.7" r="2"/>
<circle cx="90.6" cy="343.5" r="2"/>
<circle cx="91.3" cy="343.7" r="2"/>
<circle cx="92" cy="342.1" r="2"/>
<circle cx="92.7" cy="340.8" r="2"/>
<circle cx="93.4" cy="340.3" r="2"/>
<circle cx="94.1" cy="341.9" r="2"/>
<circle cx="94.9" cy="343.3" r="2"/>
<circle cx="95.6" cy="341.3" r="2"/>
<circle cx="96.3" cy="340.4" r="2"/>
<circle cx="97" cy="342.5" r="2"/>
<circle cx="97.7" cy="340.9" r="2"/>
<circle cx="98.4" cy="340.8" r="2"/>
<circle cx="99.1" cy="341" r="2"/>
<circle cx="99.9" cy="340.8" r="2"/>
<circle cx="100.6" cy="340.8" r="2"/>
<circle cx="101.3" cy="340.1" r="2"/>
<circle cx="102" cy="342.2" r="2"/>
<circle cx="102.7" cy="342.2" r="2"/>
<circle cx="103.4" cy="343.9" r="2"/>
<circle cx="104.2" cy="343" r="2"/>
<circle cx="104.9" cy="342.2" r="2"/>
<circle cx="105.6" cy="344.4" r="2"/>
<circle cx="106.3" cy="346.5" r="2"/>
<circle cx="107" cy="344.9" r="2"/>
<circle cx="107.7" cy="344.7" r="2"/>
<circle cx="108.4" cy="344.5" r="2"/>
<circle cx="109.2" cy="344.5" r="2"/>
<circle cx="109.9" cy="345" r="2"/>
<circle cx="110.6" cy="343.8" r="2"/>
<circle cx="111.3" cy="345.8" r="2"/>
<circle cx="112" cy="343.6" r="2"/>
<circle cx="112.7" cy="343.5" r="2"/>
<circle cx="113.4" cy="344.2" r="2"/>
<circle cx="114.2" cy="343.9" r="2"/>
<circle cx="114.9" cy="342" r="2"/>
<circle cx="115.6" cy="342.4" r="2"/>
<circle cx="116.3" cy="342.7" r="2"/>
<circle cx="117" cy="342" r="2"/>
<circle cx="117.7" cy="340.7" r="2"/>
<circle cx="118.5" cy="343.2" r="2"/>
<circle cx="119.2" cy="343.8" r="2"/>
<circle cx="119.9" cy="343.8" r="2"/>
<circle cx="120.6" cy="343" r="2"/>
<circle cx="121.3" cy="344" r="2"/>
<circle cx="122" cy="344.1" r="2"/>
<circle cx="122.7" cy="344.7" r="2"/>
<circle cx="123.5" cy="346.5" r="2"/>
<circle cx="124.2" cy="346.9" r="2"/>
<circle cx="124.9" cy="346.4" r="2"/>
<circle cx="125.6" cy="346.4" r="2"/>
<circle cx="126.3" cy="346.6" r="2"/>
<circle cx="127" cy="346" r="2"/>
<circle cx="127.8" cy="345.9" r="2"/>
<circle cx="128.5" cy="345.3" r="2"/>
<circle cx="129.2" cy="345.6" r="2"/>
<circle cx="129.9" cy="347.5" r="2"/>
<circle cx="130.6" cy="345.9" r="2"/>
<circle cx="131.3" cy="344.5" r="2"/>
<circle cx="132" cy="344" r="2"/>
<circle cx="132.8" cy="343.3" r="2"/>
<circle cx="133.5" cy="344.1" r="2"/>
<circle cx="134.2" cy="343.9" r="2"/>
<circle cx="134.9" cy="342.1" r="2"/>
<circle cx="135.6" cy="343.8" r="2"/>
<circle cx="136.3" cy="342.9" r="2"/>
<circle cx="137.1" cy="344.8" r="2"/>
<circle cx="137.8" cy="344" r="2"/>
<circle cx="138.5" cy="345.7" r="2"/>
<circle cx="139.2" cy="344.2" r="2"/>
<circle cx="139.9" cy="344.8" r="2"/>
<circle cx="140.6" cy="345.8" r="2"/>
<circle cx="141.3" cy="346.9" r="2"/>
<circle cx="142.1" cy="346.8" r="2"/>
<circle cx="142.8" cy="345.5" r="2"/>
<circle cx="143.5" cy="347" r="2"/>
<circle cx="144.2" cy="347" r="2"/>
<circle cx="144.9" cy="346.6" r="2"/>
<circle cx="145.6" cy="346.3" r="2"/>
<circle cx="146.3" cy="348.3" r="2"/>
<circle cx="147.1" cy="346.2" r="2"/>
<circle cx="147.8" cy="345.5" r="2"/>
<circle cx="148.5" cy="346.5" r="2"/>
<circle cx="149.2" cy="345.7" r="2"/>
<circle cx="149.9" cy="345.2" r="2"/>
<circle cx="150.6" cy="345.7" r="2"/>
<circle cx="151.4" cy="345.2" r="2"/>
<circle cx="152.1" cy="344.9" r="2"/>
<circle cx="152.8" cy="345.3" r="2"/>
<circle cx="153.5" cy="344.5" r="2"/>
<circle cx="154.2" cy="343.7" r="2"/>
<circle cx="154.9" cy="344" r="2"/>
<circle cx="155.6" cy="344" r="2"/>
<circle cx="156.4" cy="344.8" r="2"/>
<circle cx="157.1" cy="343.9" r="2"/>
<circle cx="157.8" cy="343.6" r="2"/>
<circle cx="158.5" cy="345.6" r="2"/>
<circle cx="159.2" cy="344.7" r="2"/>
<circle cx="159.9" cy="344.5" r="2"/>
<circle cx="160.7" cy="346.9" r="2"/>
<circle cx="161.4" cy="346.3" r="2"/>
<circle cx="162.1" cy="347.6" r="2"/>
<circle cx="162.8" cy="346.8" r="2"/>
<circle cx="163.5" cy="346.3" r="2"/>
<circle cx="164.2" cy="346.2" r="2"/>
<circle cx="164.9" cy="346.7" r="2"/>
<circle cx="165.7" cy="346.8" r="2"/>
<circle cx="166.4" cy="346" r="2"/>
<circle cx="167.1" cy="346.2" r="2"/>
<circle cx="167.8" cy="344.7" r="2"/>
<circle cx="168.5" cy="345.7" r="2"/>
<circle cx="169.2" cy="343.8" r="2"/>
<circle cx="170" cy="344.9" r="2"/>
<circle cx="170.7" cy="345.5" r="2"/>
<circle cx="171.4" cy="345.7" r="2"/>
<circle cx="172.1" cy="346.1" r="2"/>
<circle cx="172.8" cy="343.2" r="2"/>
<circle cx="173.5" cy="345.4" r="2"/>
<circle cx="174.2" cy="345.9" r="2"/>
<circle cx="175" cy="345.9" r="2"/>
<circle cx="175.7" cy="344.5" r="2"/>
<circle cx="176.4" cy="346" r="2"/>
<circle cx="177.1" cy="347.7" r="2"/>
<circle cx="177.8" cy="345" r="2"/>
<circle cx="178.5" cy="347.1" r="2"/>
<circle cx="179.2" cy="348" r="2"/>
<circle cx="180" cy="346.6" r="2"/>
<circle cx="180.7" cy="347.9" r="2"/>
<circle cx="181.4" cy="346.6" r="2"/>
<circle cx="182.1" cy="346.8" r="2"/>
<circle cx="182.8" cy="346.8" r="2"/>
<circle cx="183.5" cy="347.6" r="2"/>
<circle cx="184.3" cy="347.1" r="2"/>
<circle cx="185" cy="347.8" r="2"/>
<circle cx="185.7" cy="345.8" r="2"/>
<circle cx="186.4" cy="346.2" r="2"/>
<circle cx="187.1" cy="346.9" r="2"/>
<circle cx="187.8" cy="346.2" r="2"/>
<circle cx="188.5" cy="344.2" r="2"/>
<circle cx="189.3" cy="345.8" r="2"/>
<circle cx="190" cy="344.6" r="2"/>
<circle cx="190.7" cy="345.2" r="2"/>
<circle cx="191.4" cy="345.1" r="2"/>
<circle cx="192.1" cy="346" r="2"/>
<circle cx="192.8" cy="345.2" r="2"/>
<circle cx="193.6" cy="343.6" r="2"/>
<circle cx="194.3" cy="344.3" r="2"/>
<circle cx="195" cy="346.5" r="2"/>
<circle cx="195.7" cy="346" r="2"/>
<circle cx="196.4" cy="347.6" r="2"/>
<circle cx="197.1" cy="347.2" r="2"/>
<circle cx="197.8" cy="346.6" r="2"/>
<circle cx="198.6" cy="348.4" r="2"/>
<circle cx="199.3" cy="346.9" r="2"/>
<circle cx="200" cy="345.9" r="2"/>
<circle cx="200.7" cy="349.6" r="2"/>
<circle cx="201.4" cy="346" r="2"/>
<circle cx="202.1" cy="348.1" r="2"/>
<circle cx="202.8" cy="348.2" r="2"/>
<circle cx="203.6" cy="347.2" r="2"/>
<circle cx="204.3" cy="345.3" r="2"/>
<circle cx="205" cy="347.4" r="2"/>
<circle cx="205.7" cy="344.8" r="2"/>
<circle cx="206.4" cy="344.6" r="2"/>
<circle cx="207.1" cy="345.2" r="2"/>
<circle cx="207.9" cy="346" r="2"/>
</g>
<path d="M41.1,360 L41.3,360 L41.6,360 L41.8,360 L42,360 L42.2,360 L42.5,360 L42.7,360 L42.9,360 L43.1,360 L43.4,360 L43.6,360 L43.8,360 L44,360 L44.3,360 L44.5,360 L44.7,360 L44.9,360 L45.1,360 L45.4,360 L45.6,360 L45.8,360 L46,360 L46.3,360 L46.5,360 L46.7,360 L46.9,360 L47.2,360 L47.4,360 L47.6,360 L47.8,360 L48.1,360 L48.3,360 L48.5,360 L48.7,360 L48.9,360 L49.2,360 L49.4,360 L49.6,360 L49.8,359.8 L50.1,359.5 L50.3,359 L50.5,358.4 L50.7,357.4 L51,356 L51.2,354.4 L51.4,352.5 L51.6,350.3 L51.9,347.4 L52.1,343.8 L52.3,339.8 L52.5,335.5 L52.7,331.1 L53,326.4 L53.2,321.3 L53.4,315.8 L53.6,309.8 L53.9,303.3 L54.1,296 L54.3,287.2 L54.5,277.8 L54.8,268.3 L55,259.5 L55.2,252 L55.4,245.1 L55.7,238.1 L55.9,232.2 L56.1,228.7 L56.3,228.3 L56.5,229.3 L56.8,231.2 L57,233.6 L57.2,236.4 L57.4,239.3 L57.7,242 L57.9,244.5 L58.1,246.7 L58.3,249 L58.6,251.2 L58.8,253.5 L59,255.8 L59.2,258.1 L59.5,260.3 L59.7,262.6 L59.9,264.9 L60.1,267.1 L60.3,269.3 L60.6,271.5 L60.8,273.7 L61,275.9 L61.2,278.1 L61.5,280.2 L61.7,282.4 L61.9,284.6 L62.1,286.7 L62.4,288.9 L62.6,291.2 L62.8,293.6 L63,295.9 L63.3,298.2 L63.5,300.2 L63.7,302 L63.9,303.3 L64.1,304.5 L64.4,305.7 L64.6,307.1 L64.8,308.4 L65,309.9 L65.3,311.3 L65.5,312.7 L65.7,314 L65.9,315.3 L66.2,316.5 L66.4,317.7 L66.6,318.8 L66.8,319.9 L67.1,321 L67.3,322 L67.5,323 L67.7,323.8 L67.9,324.6 L68.2,325.3 L68.4,325.9 L68.6,326.6 L68.8,327.3 L69.1,327.9 L69.3,328.5 L69.5,329.1 L69.7,329.7 L70,330.2 L70.2,330.7 L70.4,331.2 L70.6,331.7 L70.9,332.1 L71.1,332.5 L71.3,332.9 L71.5,333.3 L71.7,333.6 L72,333.9 L72.2,334.1 L72.4,334.3 L72.6,334.5 L72.9,334.7 L73.1,335 L73.3,335.2 L73.5,335.3 L73.8,335.5 L74,335.7 L74.2,335.9 L74.4,336.1 L74.7,336.2 L75.8,337 L76.9,337.7 L78,338.2 L79.1,338.7 L80.2,339 L81.4,339.3 L82.5,339.5 L83.6,339.7 L84.7,339.9 L85.8,340.1 L86.9,340.2 L88.1,340.4 L89.2,340.5 L90.3,340.6 L91.4,340.8 L92.5,340.9 L93.6,341 L94.8,341.1 L95.9,341.2 L97,341.3 L98.1,341.5 L99.2,341.6 L100.4,341.7 L101.5,341.8 L102.6,341.9 L103.7,342 L104.8,342.1 L105.9,342.2 L107.1,342.3 L108.2,342.4 L109.3,342.4 L110.4,342.5 L111.5,342.6 L112.6,342.7 L113.8,342.8 L114.9,342.9 L116,342.9 L117.1,343 L118.2,343.1 L119.3,343.1 L120.5,343.2 L121.6,343.3 L122.7,343.3 L123.8,343.4 L124.9,343.5 L126.1,343.5 L127.2,343.6 L128.3,343.6 L129.4,343.7 L130.5,343.8 L131.6,343.8 L132.8,343.9 L133.9,343.9 L135,344 L136.1,344 L137.2,344.1 L138.3,344.2 L139.5,344.2 L140.6,344.2 L141.7,344.3 L142.8,344.3 L143.9,344.4 L145.1,344.4 L146.2,344.5 L147.3,344.5 L148.4,344.5 L149.5,344.6 L150.6,344.6 L151.8,344.6 L152.9,344.6 L154,344.7 L155.1,344.7 L156.2,344.7 L157.3,344.7 L158.5,344.8 L159.6,344.8 L160.7,344.8 L161.8,344.8 L162.9,344.8 L164,344.9 L165.2,344.9 L166.3,344.9 L167.4,344.9 L168.5,345 L169.6,345 L170.8,345 L171.9,345 L173,345 L174.1,345.1 L175.2,345.1 L176.3,345.1 L177.5,345.1 L178.6,345.1 L179.7,345.1 L180.8,345.2 L181.9,345.2 L183,345.2 L184.2,345.2 L185.3,345.2 L186.4,345.2 L187.5,345.2 L188.6,345.3 L189.8,345.3 L190.9,345.3 L192,345.3 L193.1,345.3 L194.2,345.3 L195.3,345.3 L196.5,345.3 L197.6,345.3 L198.7,345.4 L199.8,345.4 L200.9,345.4 L202,345.4 L203.2,345.4 L204.3,345.4 L205.4,345.4 L206.5,345.4 L207.6,345.4 L208.7,345.4" fill="none" stroke="#e8232a" stroke-width="1.4"/>
<path d="M208.5,219.8 L208.5,373.2 L41.5,373.2" fill="none" stroke="#b4b4b4" stroke-width="1.1"/>
<path d="M208.5,219.8 L41.5,219.8 L41.5,373.2" fill="none" stroke="#b4b4b4" stroke-width="1.1"/>
<path d="M41.5,219.8 L41.5,373.2 L208.5,373.2" fill="none" stroke="#7c7c7c" stroke-width="0.9"/>
<line x1="52.3" y1="373.2" x2="52.3" y2="370.2" stroke="#7a7a7a" stroke-width="0.9"/>
<text x="56.6" y="388.2" font-size="12" text-anchor="middle" fill="#1a1a1a" font-weight="normal" >0</text>
<line x1="74.7" y1="373.2" x2="74.7" y2="371.4" stroke="#7a7a7a" stroke-width="0.9"/>
<line x1="97" y1="373.2" x2="97" y2="370.2" stroke="#7a7a7a" stroke-width="0.9"/>
<text x="98.6" y="388.2" font-size="12" text-anchor="middle" fill="#1a1a1a" font-weight="normal" >2</text>
<line x1="119.4" y1="373.2" x2="119.4" y2="371.4" stroke="#7a7a7a" stroke-width="0.9"/>
<line x1="141.7" y1="373.2" x2="141.7" y2="370.2" stroke="#7a7a7a" stroke-width="0.9"/>
<text x="143.3" y="388.2" font-size="12" text-anchor="middle" fill="#1a1a1a" font-weight="normal" >4</text>
<line x1="164.1" y1="373.2" x2="164.1" y2="371.4" stroke="#7a7a7a" stroke-width="0.9"/>
<line x1="186.4" y1="373.2" x2="186.4" y2="370.2" stroke="#7a7a7a" stroke-width="0.9"/>
<text x="188" y="388.2" font-size="12" text-anchor="middle" fill="#1a1a1a" font-weight="normal" >6</text>
<line x1="41.5" y1="358.7" x2="45" y2="358.7" stroke="#7a7a7a" stroke-width="0.9"/>
<text x="38.5" y="363.2" font-size="12" text-anchor="end" fill="#1a1a1a" font-weight="normal" >0</text>
<line x1="41.5" y1="333.6" x2="43.5" y2="333.6" stroke="#7a7a7a" stroke-width="0.9"/>
<line x1="41.5" y1="308.5" x2="45" y2="308.5" stroke="#7a7a7a" stroke-width="0.9"/>
<text x="38.5" y="313" font-size="12" text-anchor="end" fill="#1a1a1a" font-weight="normal" >20</text>
<line x1="41.5" y1="283.4" x2="43.5" y2="283.4" stroke="#7a7a7a" stroke-width="0.9"/>
<line x1="41.5" y1="258.3" x2="45" y2="258.3" stroke="#7a7a7a" stroke-width="0.9"/>
<text x="38.5" y="262.8" font-size="12" text-anchor="end" fill="#1a1a1a" font-weight="normal" >40</text>
<line x1="41.5" y1="233.2" x2="43.5" y2="233.2" stroke="#7a7a7a" stroke-width="0.9"/>
<text x="115" y="405.3" font-size="12" text-anchor="middle" fill="#1a1a1a" font-weight="normal" >Time (ps)</text>
<text x="0" y="0" font-size="12" text-anchor="middle" fill="#1a1a1a" transform="translate(13.3,299) rotate(-90)" >&#916; A (mOD)</text>
<text x="13.5" y="220.2" font-size="12.5" text-anchor="start" fill="#000" font-weight="bold" >b</text>
<rect x="87.5" y="222.2" width="116.30000000000001" height="72.60000000000002" fill="#ffffff" stroke="#333" stroke-width="0.9"/>
<path d="M87.9,257.4 L88.5,256.2 L89,255.7 L89.6,254.2 L90.2,255 L90.6,255.7 L91.1,256.6 L91.5,256.5 L92,256 L92.4,256.3 L92.7,257.4 L93.2,258 L93.7,258.9 L94.1,263.5 L94.6,267.4 L95,270.1 L95.5,273.6 L95.8,270.4 L96,266 L96.3,252.4 L96.6,239.7 L96.9,239.5 L97.1,240.1 L97.3,249 L97.5,257 L97.8,266 L98.1,275.5 L98.3,279.5 L98.6,284.4 L98.9,279.6 L99.2,275.1 L99.4,267.6 L99.7,260.4 L100,255.7 L100.3,251.3 L100.6,248.6 L100.8,245.9 L101.2,245 L101.6,242.5 L102,242.7 L102.5,241.1 L102.9,242.9 L103.2,245.7 L103.6,249.5 L104,253.5 L104.3,256.3 L104.7,260.6 L105.1,264.7 L105.4,268.2 L105.8,271.5 L106.2,275.4 L106.5,274.2 L106.9,272.8 L107.4,273.2 L107.8,273.5 L108.4,273 L108.9,272.9 L109.4,271.6 L109.8,271.5 L110.3,268.9 L110.8,265.5 L111.2,262 L111.7,256.5 L112.1,253.1 L112.6,250.2 L113.1,246.8 L113.5,244.7 L114.2,245.6 L114.8,244.5 L115.4,245.6 L115.9,246.9 L116.4,248.7 L116.8,250.6 L117.3,252.8 L117.8,255.4 L118.2,259.1 L118.7,262.5 L119.1,262.9 L119.6,263.9 L120.1,261.9 L120.5,261.7 L121,259.2 L121.4,259 L121.9,258.1 L122.4,255.5 L122.8,254.7 L123.3,253.9 L123.7,254.9 L124.2,254.7 L124.7,254 L125.1,252.9 L125.6,252.6 L126,252.7 L126.5,252.7 L127,254.1 L127.4,253.7 L127.9,253.4 L128.3,255.3 L128.8,259 L129.2,259.3 L129.5,259.9 L129.9,258.2 L130.3,256.2 L130.6,257.4 L131,258.9 L131.6,257.7 L132.1,256.8 L132.5,261.3 L132.9,264.9 L133.3,266.9 L133.8,270.4 L134.2,270.6 L134.7,272.7 L135.1,274.7 L135.4,275.1 L135.8,273.6 L136.2,271.7 L136.6,268.7 L137.1,266.3 L137.5,263.3 L138,260 L138.5,257.8 L138.9,255 L139.4,253.5 L139.8,250 L140.4,251 L140.9,251.4 L141.5,252.1 L142,253.4 L142.6,253.2 L143.1,256.1 L143.7,259.6 L144.2,262.2 L144.8,263.8 L145.3,264.9 L145.9,266.5 L146.2,268.2 L146.6,269.6 L147.2,267.1 L147.7,265 L148.3,261.6 L148.8,259.9 L149.4,257.8 L149.9,255.9 L150.5,253.4 L151,251.9 L151.6,251.5 L152.1,250.4 L152.7,250.8 L153.2,251.8 L153.8,254.2 L154.3,255.6 L154.9,257 L155.4,258.3 L156,258.5 L156.5,259.8 L157.1,261.6 L157.6,263.3 L158.2,263.6 L158.8,264.7 L159.3,264.5 L159.9,264 L160.4,263.7 L161,263 L161.5,261.7 L162.1,260.2 L162.6,257 L163.2,253.7 L163.7,251.6 L164.3,250.3 L164.8,251.4 L165.4,253.4 L165.9,255.7 L166.5,258.4 L167,260.2 L167.6,262.5 L168.1,263.3 L168.7,264.2 L169.2,264.1 L169.8,265.1 L170.3,263.5 L170.9,263.7 L171.4,262.2 L172,261.4 L172.5,260.4 L173.1,259 L173.6,260.7 L174.2,263.2 L174.7,261.6 L175.3,258.2 L175.8,256 L176.4,254 L176.9,253 L177.5,252.9 L178.1,253.5 L178.6,254 L179.2,253.2 L179.7,253.3 L180.3,254.7 L180.8,256.9 L181.4,258.2 L181.9,258.8 L182.5,257.9 L183,258.8 L183.6,259.8 L184.1,259 L184.7,259.6 L185.2,260 L185.8,259.4 L186.3,259.1 L186.9,258.7 L187.4,258.1 L188,258.8 L188.5,258.6 L189.1,257.7 L189.6,258.6 L190.2,257.5 L190.7,256.9 L191.3,258.1 L191.8,258.9 L192.4,255.1 L192.9,249.6 L193.5,253.2 L194,256.9 L194.6,258.3 L195.1,260.1 L195.7,258.5 L196.2,259.6 L196.8,261.7 L197.4,263.1 L197.9,261.2 L198.5,258.2 L199,258 L199.6,257 L200.1,254.9 L200.7,253.8 L201.2,254.4 L201.8,254.7 L202.3,254.8 L202.9,253.7 L203.2,255.3 L203.6,255.8" fill="none" stroke="#2a6390" stroke-width="0.95" stroke-linejoin="round"/>
<line x1="96.6" y1="294.8" x2="96.6" y2="292.3" stroke="#333" stroke-width="0.7"/>
<text x="97.1" y="303.3" font-size="7.8" text-anchor="middle" fill="#1a1a1a" font-weight="normal" >0</text>
<line x1="112.1" y1="294.8" x2="112.1" y2="293.3" stroke="#333" stroke-width="0.7"/>
<line x1="127.7" y1="294.8" x2="127.7" y2="292.3" stroke="#333" stroke-width="0.7"/>
<text x="128.2" y="303.3" font-size="7.8" text-anchor="middle" fill="#1a1a1a" font-weight="normal" >2</text>
<line x1="143.2" y1="294.8" x2="143.2" y2="293.3" stroke="#333" stroke-width="0.7"/>
<line x1="158.8" y1="294.8" x2="158.8" y2="292.3" stroke="#333" stroke-width="0.7"/>
<text x="159.3" y="303.3" font-size="7.8" text-anchor="middle" fill="#1a1a1a" font-weight="normal" >4</text>
<line x1="174.3" y1="294.8" x2="174.3" y2="293.3" stroke="#333" stroke-width="0.7"/>
<line x1="189.9" y1="294.8" x2="189.9" y2="292.3" stroke="#333" stroke-width="0.7"/>
<text x="190.4" y="303.3" font-size="7.8" text-anchor="middle" fill="#1a1a1a" font-weight="normal" >6</text>
<line x1="87.5" y1="293.5" x2="89" y2="293.5" stroke="#333" stroke-width="0.7"/>
<line x1="87.5" y1="281.5" x2="90" y2="281.5" stroke="#333" stroke-width="0.7"/>
<text x="85.2" y="284.3" font-size="7.8" text-anchor="end" fill="#1a1a1a" font-weight="normal" >-4</text>
<line x1="87.5" y1="269.5" x2="89" y2="269.5" stroke="#333" stroke-width="0.7"/>
<line x1="87.5" y1="257.5" x2="90" y2="257.5" stroke="#333" stroke-width="0.7"/>
<text x="85.2" y="260.3" font-size="7.8" text-anchor="end" fill="#1a1a1a" font-weight="normal" >0</text>
<line x1="87.5" y1="245.5" x2="89" y2="245.5" stroke="#333" stroke-width="0.7"/>
<line x1="87.5" y1="233.5" x2="90" y2="233.5" stroke="#333" stroke-width="0.7"/>
<text x="85.2" y="236.3" font-size="7.8" text-anchor="end" fill="#1a1a1a" font-weight="normal" >4</text>
<text x="145" y="312.3" font-size="7.8" text-anchor="middle" fill="#1a1a1a" font-weight="normal" >Time (ps)</text>
<text x="0" y="0" font-size="7.8" text-anchor="middle" fill="#1a1a1a" transform="translate(77.8,255.5) rotate(-90)" >&#916; A res (mOD)</text>
<g fill="none" stroke="#e07d7c" stroke-width="0.8">
<circle cx="258.4" cy="42.6" r="2.1"/>
<circle cx="260.3" cy="40.7" r="2.1"/>
<circle cx="262.2" cy="41.2" r="2.1"/>
<circle cx="264.1" cy="35.3" r="2.1"/>
<circle cx="266" cy="38.1" r="2.1"/>
<circle cx="267.9" cy="32.8" r="2.1"/>
<circle cx="269.8" cy="35.6" r="2.1"/>
<circle cx="271.7" cy="35.9" r="2.1"/>
<circle cx="273.6" cy="39.4" r="2.1"/>
<circle cx="275.5" cy="38.4" r="2.1"/>
<circle cx="277.4" cy="38.7" r="2.1"/>
<circle cx="279.3" cy="44.1" r="2.1"/>
<circle cx="281.2" cy="46.1" r="2.1"/>
<circle cx="283.1" cy="43.1" r="2.1"/>
<circle cx="285" cy="46.8" r="2.1"/>
<circle cx="286.9" cy="45.3" r="2.1"/>
<circle cx="288.8" cy="46.8" r="2.1"/>
<circle cx="290.7" cy="46.8" r="2.1"/>
<circle cx="292.6" cy="43.2" r="2.1"/>
<circle cx="294.5" cy="44.8" r="2.1"/>
<circle cx="296.4" cy="41.4" r="2.1"/>
<circle cx="298.3" cy="40.1" r="2.1"/>
<circle cx="300.2" cy="39.7" r="2.1"/>
<circle cx="302.1" cy="35.5" r="2.1"/>
<circle cx="304" cy="35.4" r="2.1"/>
<circle cx="305.9" cy="37.9" r="2.1"/>
<circle cx="307.8" cy="38.4" r="2.1"/>
<circle cx="309.7" cy="38.8" r="2.1"/>
<circle cx="311.6" cy="36.7" r="2.1"/>
<circle cx="313.5" cy="39.7" r="2.1"/>
<circle cx="315.4" cy="42.4" r="2.1"/>
<circle cx="317.3" cy="42.9" r="2.1"/>
<circle cx="319.2" cy="39.2" r="2.1"/>
<circle cx="321.1" cy="39.7" r="2.1"/>
<circle cx="323" cy="44.9" r="2.1"/>
<circle cx="324.9" cy="47.3" r="2.1"/>
<circle cx="326.8" cy="45.3" r="2.1"/>
<circle cx="328.7" cy="47.3" r="2.1"/>
<circle cx="330.6" cy="45.6" r="2.1"/>
<circle cx="332.5" cy="45" r="2.1"/>
<circle cx="334.4" cy="44.3" r="2.1"/>
<circle cx="336.3" cy="43.1" r="2.1"/>
<circle cx="338.2" cy="40.8" r="2.1"/>
<circle cx="340.1" cy="44" r="2.1"/>
<circle cx="342" cy="41.3" r="2.1"/>
<circle cx="343.9" cy="37.6" r="2.1"/>
<circle cx="345.8" cy="37.7" r="2.1"/>
<circle cx="347.7" cy="36" r="2.1"/>
<circle cx="349.6" cy="39" r="2.1"/>
<circle cx="351.5" cy="35.8" r="2.1"/>
<circle cx="353.4" cy="38.6" r="2.1"/>
<circle cx="355.3" cy="41.5" r="2.1"/>
<circle cx="357.2" cy="42.1" r="2.1"/>
<circle cx="359.1" cy="43.2" r="2.1"/>
<circle cx="361" cy="40.7" r="2.1"/>
<circle cx="362.9" cy="45.2" r="2.1"/>
<circle cx="364.8" cy="44" r="2.1"/>
<circle cx="366.7" cy="47.1" r="2.1"/>
<circle cx="368.6" cy="44" r="2.1"/>
<circle cx="370.5" cy="47.5" r="2.1"/>
<circle cx="372.4" cy="44.6" r="2.1"/>
<circle cx="374.3" cy="44.5" r="2.1"/>
<circle cx="376.2" cy="41.4" r="2.1"/>
<circle cx="378.1" cy="40.5" r="2.1"/>
<circle cx="380" cy="39.7" r="2.1"/>
<circle cx="381.9" cy="41.6" r="2.1"/>
<circle cx="383.8" cy="38.3" r="2.1"/>
<circle cx="385.7" cy="38.6" r="2.1"/>
<circle cx="387.6" cy="41" r="2.1"/>
<circle cx="389.5" cy="39.9" r="2.1"/>
<circle cx="391.4" cy="38.8" r="2.1"/>
<circle cx="393.3" cy="40.4" r="2.1"/>
<circle cx="395.1" cy="37.9" r="2.1"/>
<circle cx="397" cy="38.5" r="2.1"/>
<circle cx="398.9" cy="43" r="2.1"/>
<circle cx="400.8" cy="48.2" r="2.1"/>
<circle cx="402.7" cy="47.3" r="2.1"/>
<circle cx="404.6" cy="48.7" r="2.1"/>
<circle cx="406.5" cy="45.1" r="2.1"/>
<circle cx="408.4" cy="42.9" r="2.1"/>
<circle cx="410.3" cy="45.7" r="2.1"/>
<circle cx="412.2" cy="40.8" r="2.1"/>
<circle cx="414.1" cy="37" r="2.1"/>
<circle cx="416" cy="42.7" r="2.1"/>
<circle cx="417.9" cy="43.1" r="2.1"/>
<circle cx="419.8" cy="41.9" r="2.1"/>
<circle cx="421.7" cy="42.9" r="2.1"/>
<circle cx="423.6" cy="41" r="2.1"/>
<circle cx="425.5" cy="40" r="2.1"/>
<circle cx="427.4" cy="37.3" r="2.1"/>
<circle cx="429.3" cy="39.3" r="2.1"/>
<circle cx="431.2" cy="37.6" r="2.1"/>
<circle cx="433.1" cy="39.7" r="2.1"/>
<circle cx="435" cy="44.6" r="2.1"/>
</g>
<path d="M258,43.1 L258.8,42.3 L259.7,41.5 L260.5,40.7 L261.4,39.9 L262.2,39.2 L263.1,38.5 L263.9,37.9 L264.8,37.3 L265.6,36.9 L266.4,36.5 L267.3,36.2 L268.1,36 L269,35.9 L269.8,36 L270.7,36.1 L271.5,36.3 L272.3,36.6 L273.2,37 L274,37.4 L274.9,38 L275.7,38.6 L276.6,39.2 L277.4,39.9 L278.3,40.6 L279.1,41.3 L279.9,42 L280.8,42.7 L281.6,43.4 L282.5,44 L283.3,44.6 L284.2,45.1 L285,45.5 L285.9,45.9 L286.7,46.1 L287.5,46.3 L288.4,46.4 L289.2,46.5 L290.1,46.4 L290.9,46.2 L291.8,46 L292.6,45.6 L293.4,45.2 L294.3,44.8 L295.1,44.3 L296,43.7 L296.8,43.1 L297.7,42.5 L298.5,41.9 L299.4,41.2 L300.2,40.6 L301,40 L301.9,39.5 L302.7,38.9 L303.6,38.5 L304.4,38.1 L305.3,37.7 L306.1,37.4 L307,37.2 L307.8,37.1 L308.6,37.1 L309.5,37.1 L310.3,37.3 L311.2,37.5 L312,37.7 L312.9,38.1 L313.7,38.5 L314.5,38.9 L315.4,39.4 L316.2,39.9 L317.1,40.4 L317.9,41 L318.8,41.6 L319.6,42.1 L320.5,42.7 L321.3,43.2 L322.1,43.7 L323,44.1 L323.8,44.5 L324.7,44.8 L325.5,45.1 L326.4,45.2 L327.2,45.4 L328.1,45.4 L328.9,45.4 L329.7,45.3 L330.6,45.2 L331.4,44.9 L332.3,44.7 L333.1,44.3 L334,43.9 L334.8,43.5 L335.6,43.1 L336.5,42.6 L337.3,42.1 L338.2,41.6 L339,41.1 L339.9,40.6 L340.7,40.1 L341.6,39.7 L342.4,39.3 L343.2,39 L344.1,38.7 L344.9,38.4 L345.8,38.2 L346.6,38.1 L347.5,38 L348.3,38 L349.2,38.1 L350,38.2 L350.8,38.4 L351.7,38.6 L352.5,38.9 L353.4,39.2 L354.2,39.6 L355.1,40 L355.9,40.4 L356.7,40.8 L357.6,41.3 L358.4,41.7 L359.3,42.2 L360.1,42.6 L361,43 L361.8,43.3 L362.7,43.7 L363.5,44 L364.3,44.2 L365.2,44.4 L366,44.5 L366.9,44.6 L367.7,44.6 L368.6,44.6 L369.4,44.5 L370.3,44.3 L371.1,44.1 L371.9,43.9 L372.8,43.6 L373.6,43.3 L374.5,43 L375.3,42.6 L376.2,42.2 L377,41.8 L377.8,41.4 L378.7,41 L379.5,40.6 L380.4,40.3 L381.2,40 L382.1,39.6 L382.9,39.4 L383.8,39.2 L384.6,39 L385.4,38.8 L386.3,38.8 L387.1,38.7 L388,38.7 L388.8,38.8 L389.7,38.9 L390.5,39.1 L391.4,39.3 L392.2,39.5 L393,39.8 L393.9,40.1 L394.7,40.4 L395.6,40.8 L396.4,41.1 L397.3,41.5 L398.1,41.8 L398.9,42.2 L399.8,42.5 L400.6,42.8 L401.5,43.1 L402.3,43.3 L403.2,43.5 L404,43.7 L404.9,43.8 L405.7,43.9 L406.5,44 L407.4,44 L408.2,43.9 L409.1,43.8 L409.9,43.7 L410.8,43.5 L411.6,43.3 L412.5,43.1 L413.3,42.8 L414.1,42.5 L415,42.2 L415.8,41.9 L416.7,41.6 L417.5,41.3 L418.4,41 L419.2,40.7 L420,40.4 L420.9,40.2 L421.7,39.9 L422.6,39.7 L423.4,39.6 L424.3,39.5 L425.1,39.4 L426,39.3 L426.8,39.3 L427.6,39.3 L428.5,39.4 L429.3,39.5 L430.2,39.7 L431,39.8 L431.9,40 L432.7,40.3 L433.6,40.5 L434.4,40.8 L435.2,41 L436.1,41.3" fill="none" stroke="#d5504f" stroke-width="1.5"/>
<text x="430.8" y="31.9" font-size="12" text-anchor="end" fill="#1a1a1a" font-weight="normal" >C6</text>
<g fill="none" stroke="#f39a50" stroke-width="0.8">
<circle cx="258.4" cy="77.1" r="2.1"/>
<circle cx="260.3" cy="74.1" r="2.1"/>
<circle cx="262.2" cy="68.6" r="2.1"/>
<circle cx="264.1" cy="73" r="2.1"/>
<circle cx="266" cy="61.8" r="2.1"/>
<circle cx="267.9" cy="63.7" r="2.1"/>
<circle cx="269.8" cy="68.5" r="2.1"/>
<circle cx="271.7" cy="66.7" r="2.1"/>
<circle cx="273.6" cy="69.2" r="2.1"/>
<circle cx="275.5" cy="74.9" r="2.1"/>
<circle cx="277.4" cy="78.4" r="2.1"/>
<circle cx="279.3" cy="81" r="2.1"/>
<circle cx="281.2" cy="79.9" r="2.1"/>
<circle cx="283.1" cy="84.6" r="2.1"/>
<circle cx="285" cy="80.8" r="2.1"/>
<circle cx="286.9" cy="80.8" r="2.1"/>
<circle cx="288.8" cy="79.1" r="2.1"/>
<circle cx="290.7" cy="79.7" r="2.1"/>
<circle cx="292.6" cy="75.8" r="2.1"/>
<circle cx="294.5" cy="71.9" r="2.1"/>
<circle cx="296.4" cy="71.5" r="2.1"/>
<circle cx="298.3" cy="67.4" r="2.1"/>
<circle cx="300.2" cy="67.3" r="2.1"/>
<circle cx="302.1" cy="67.4" r="2.1"/>
<circle cx="304" cy="67.3" r="2.1"/>
<circle cx="305.9" cy="67.7" r="2.1"/>
<circle cx="307.8" cy="69.1" r="2.1"/>
<circle cx="309.7" cy="76.3" r="2.1"/>
<circle cx="311.6" cy="72" r="2.1"/>
<circle cx="313.5" cy="79.1" r="2.1"/>
<circle cx="315.4" cy="78.6" r="2.1"/>
<circle cx="317.3" cy="79.9" r="2.1"/>
<circle cx="319.2" cy="78" r="2.1"/>
<circle cx="321.1" cy="81.3" r="2.1"/>
<circle cx="323" cy="79" r="2.1"/>
<circle cx="324.9" cy="80.7" r="2.1"/>
<circle cx="326.8" cy="75.2" r="2.1"/>
<circle cx="328.7" cy="72" r="2.1"/>
<circle cx="330.6" cy="69.7" r="2.1"/>
<circle cx="332.5" cy="72.5" r="2.1"/>
<circle cx="334.4" cy="70.6" r="2.1"/>
<circle cx="336.3" cy="68.3" r="2.1"/>
<circle cx="338.2" cy="72.9" r="2.1"/>
<circle cx="340.1" cy="71" r="2.1"/>
<circle cx="342" cy="71.4" r="2.1"/>
<circle cx="343.9" cy="75.1" r="2.1"/>
<circle cx="345.8" cy="73.7" r="2.1"/>
<circle cx="347.7" cy="78.2" r="2.1"/>
<circle cx="349.6" cy="77.2" r="2.1"/>
<circle cx="351.5" cy="81.9" r="2.1"/>
<circle cx="353.4" cy="82.4" r="2.1"/>
<circle cx="355.3" cy="80.5" r="2.1"/>
<circle cx="357.2" cy="82.1" r="2.1"/>
<circle cx="359.1" cy="76.8" r="2.1"/>
<circle cx="361" cy="77.6" r="2.1"/>
<circle cx="362.9" cy="74.2" r="2.1"/>
<circle cx="364.8" cy="70.1" r="2.1"/>
<circle cx="366.7" cy="72.5" r="2.1"/>
<circle cx="368.6" cy="73.5" r="2.1"/>
<circle cx="370.5" cy="76" r="2.1"/>
<circle cx="372.4" cy="70" r="2.1"/>
<circle cx="374.3" cy="71.7" r="2.1"/>
<circle cx="376.2" cy="75.7" r="2.1"/>
<circle cx="378.1" cy="71.7" r="2.1"/>
<circle cx="380" cy="79" r="2.1"/>
<circle cx="381.9" cy="74.2" r="2.1"/>
<circle cx="383.8" cy="76.8" r="2.1"/>
<circle cx="385.7" cy="79.8" r="2.1"/>
<circle cx="387.6" cy="79.9" r="2.1"/>
<circle cx="389.5" cy="82.5" r="2.1"/>
<circle cx="391.4" cy="77.4" r="2.1"/>
<circle cx="393.3" cy="78" r="2.1"/>
<circle cx="395.1" cy="75.8" r="2.1"/>
<circle cx="397" cy="75" r="2.1"/>
<circle cx="398.9" cy="74.1" r="2.1"/>
<circle cx="400.8" cy="73.2" r="2.1"/>
<circle cx="402.7" cy="70.9" r="2.1"/>
<circle cx="404.6" cy="70.6" r="2.1"/>
<circle cx="406.5" cy="70.1" r="2.1"/>
<circle cx="408.4" cy="67.5" r="2.1"/>
<circle cx="410.3" cy="68.3" r="2.1"/>
<circle cx="412.2" cy="74.6" r="2.1"/>
<circle cx="414.1" cy="72.8" r="2.1"/>
<circle cx="416" cy="75.9" r="2.1"/>
<circle cx="417.9" cy="79.5" r="2.1"/>
<circle cx="419.8" cy="79.4" r="2.1"/>
<circle cx="421.7" cy="78.9" r="2.1"/>
<circle cx="423.6" cy="78.5" r="2.1"/>
<circle cx="425.5" cy="79.7" r="2.1"/>
<circle cx="427.4" cy="81.4" r="2.1"/>
<circle cx="429.3" cy="73" r="2.1"/>
<circle cx="431.2" cy="74.2" r="2.1"/>
<circle cx="433.1" cy="75" r="2.1"/>
<circle cx="435" cy="72" r="2.1"/>
<circle cx="259.4" cy="84.5" r="2.1"/>
<circle cx="260.4" cy="91.9" r="2.1"/>
<circle cx="257.8" cy="84" r="2.1"/>
</g>
<path d="M258,77.4 L258.8,75.9 L259.7,74.4 L260.5,72.9 L261.4,71.5 L262.2,70.1 L263.1,68.9 L263.9,67.8 L264.8,66.9 L265.6,66.2 L266.4,65.8 L267.3,65.7 L268.1,65.7 L269,66 L269.8,66.5 L270.7,67.2 L271.5,68 L272.3,69.1 L273.2,70.2 L274,71.5 L274.9,72.8 L275.7,74.1 L276.6,75.5 L277.4,76.8 L278.3,78.1 L279.1,79.3 L279.9,80.3 L280.8,81.3 L281.6,82 L282.5,82.6 L283.3,83.1 L284.2,83.3 L285,83.3 L285.9,83.2 L286.7,82.8 L287.5,82.3 L288.4,81.6 L289.2,80.8 L290.1,79.8 L290.9,78.8 L291.8,77.7 L292.6,76.5 L293.4,75.3 L294.3,74.2 L295.1,73 L296,72 L296.8,71 L297.7,70.1 L298.5,69.4 L299.4,68.8 L300.2,68.4 L301,68.1 L301.9,68 L302.7,68.1 L303.6,68.3 L304.4,68.7 L305.3,69.3 L306.1,70 L307,70.8 L307.8,71.7 L308.6,72.7 L309.5,73.7 L310.3,74.7 L311.2,75.8 L312,76.8 L312.9,77.8 L313.7,78.7 L314.5,79.5 L315.4,80.3 L316.2,80.8 L317.1,81.3 L317.9,81.6 L318.8,81.7 L319.6,81.7 L320.5,81.6 L321.3,81.3 L322.1,80.8 L323,80.2 L323.8,79.5 L324.7,78.7 L325.5,77.8 L326.4,76.9 L327.2,75.9 L328.1,75 L328.9,74 L329.7,73.1 L330.6,72.2 L331.4,71.4 L332.3,70.7 L333.1,70.1 L334,69.6 L334.8,69.3 L335.6,69.1 L336.5,69.1 L337.3,69.2 L338.2,69.4 L339,69.8 L339.9,70.3 L340.7,70.9 L341.6,71.6 L342.4,72.4 L343.2,73.3 L344.1,74.2 L344.9,75.1 L345.8,76 L346.6,76.9 L347.5,77.8 L348.3,78.6 L349.2,79.3 L350,79.9 L350.8,80.4 L351.7,80.7 L352.5,81 L353.4,81.1 L354.2,81 L355.1,80.8 L355.9,80.5 L356.7,80.1 L357.6,79.5 L358.4,78.9 L359.3,78.1 L360.1,77.3 L361,76.4 L361.8,75.6 L362.7,74.7 L363.5,73.8 L364.3,73 L365.2,72.2 L366,71.5 L366.9,70.9 L367.7,70.4 L368.6,70 L369.4,69.7 L370.3,69.5 L371.1,69.5 L371.9,69.7 L372.8,69.9 L373.6,70.3 L374.5,70.8 L375.3,71.4 L376.2,72.1 L377,72.9 L377.8,73.7 L378.7,74.6 L379.5,75.4 L380.4,76.3 L381.2,77.1 L382.1,77.9 L382.9,78.6 L383.8,79.2 L384.6,79.8 L385.4,80.2 L386.3,80.5 L387.1,80.7 L388,80.7 L388.8,80.7 L389.7,80.4 L390.5,80.1 L391.4,79.7 L392.2,79.1 L393,78.4 L393.9,77.7 L394.7,76.9 L395.6,76.1 L396.4,75.3 L397.3,74.4 L398.1,73.6 L398.9,72.8 L399.8,72.1 L400.6,71.4 L401.5,70.8 L402.3,70.4 L403.2,70 L404,69.8 L404.9,69.7 L405.7,69.8 L406.5,69.9 L407.4,70.2 L408.2,70.6 L409.1,71.2 L409.9,71.8 L410.8,72.5 L411.6,73.2 L412.5,74 L413.3,74.9 L414.1,75.7 L415,76.5 L415.8,77.3 L416.7,78.1 L417.5,78.7 L418.4,79.3 L419.2,79.8 L420,80.2 L420.9,80.5 L421.7,80.6 L422.6,80.6 L423.4,80.5 L424.3,80.2 L425.1,79.9 L426,79.4 L426.8,78.8 L427.6,78.1 L428.5,77.4 L429.3,76.6 L430.2,75.8 L431,75 L431.9,74.1 L432.7,73.3 L433.6,72.6 L434.4,71.9 L435.2,71.3 L436.1,70.8" fill="none" stroke="#ef7f22" stroke-width="1.5"/>
<text x="430.8" y="65.7" font-size="12" text-anchor="end" fill="#1a1a1a" font-weight="normal" >C5</text>
<g fill="none" stroke="#a89ae8" stroke-width="0.8">
<circle cx="258.4" cy="111.6" r="2.1"/>
<circle cx="260.3" cy="113.4" r="2.1"/>
<circle cx="262.2" cy="113" r="2.1"/>
<circle cx="264.1" cy="110.8" r="2.1"/>
<circle cx="266" cy="101.8" r="2.1"/>
<circle cx="267.9" cy="99.4" r="2.1"/>
<circle cx="269.8" cy="100.6" r="2.1"/>
<circle cx="271.7" cy="103.8" r="2.1"/>
<circle cx="273.6" cy="108.3" r="2.1"/>
<circle cx="275.5" cy="113.8" r="2.1"/>
<circle cx="277.4" cy="118.6" r="2.1"/>
<circle cx="279.3" cy="119.2" r="2.1"/>
<circle cx="281.2" cy="121.6" r="2.1"/>
<circle cx="283.1" cy="112.8" r="2.1"/>
<circle cx="285" cy="109.6" r="2.1"/>
<circle cx="286.9" cy="104.6" r="2.1"/>
<circle cx="288.8" cy="106.7" r="2.1"/>
<circle cx="290.7" cy="106" r="2.1"/>
<circle cx="292.6" cy="107" r="2.1"/>
<circle cx="294.5" cy="108.2" r="2.1"/>
<circle cx="296.4" cy="116" r="2.1"/>
<circle cx="298.3" cy="114" r="2.1"/>
<circle cx="300.2" cy="113.7" r="2.1"/>
<circle cx="302.1" cy="107.7" r="2.1"/>
<circle cx="304" cy="108.6" r="2.1"/>
<circle cx="305.9" cy="108.2" r="2.1"/>
<circle cx="307.8" cy="111" r="2.1"/>
<circle cx="309.7" cy="110.4" r="2.1"/>
<circle cx="311.6" cy="112.8" r="2.1"/>
<circle cx="313.5" cy="109.2" r="2.1"/>
<circle cx="315.4" cy="111.7" r="2.1"/>
<circle cx="317.3" cy="111.4" r="2.1"/>
<circle cx="319.2" cy="109.8" r="2.1"/>
<circle cx="321.1" cy="108.4" r="2.1"/>
<circle cx="323" cy="107.9" r="2.1"/>
<circle cx="324.9" cy="110.9" r="2.1"/>
<circle cx="326.8" cy="108.7" r="2.1"/>
<circle cx="328.7" cy="111.7" r="2.1"/>
<circle cx="330.6" cy="112.2" r="2.1"/>
<circle cx="332.5" cy="110.6" r="2.1"/>
<circle cx="334.4" cy="111.1" r="2.1"/>
<circle cx="336.3" cy="105.9" r="2.1"/>
<circle cx="338.2" cy="108.3" r="2.1"/>
<circle cx="340.1" cy="110.8" r="2.1"/>
<circle cx="342" cy="107.8" r="2.1"/>
<circle cx="343.9" cy="105.8" r="2.1"/>
<circle cx="345.8" cy="111.9" r="2.1"/>
<circle cx="347.7" cy="108.6" r="2.1"/>
<circle cx="349.6" cy="113.5" r="2.1"/>
<circle cx="351.5" cy="110.9" r="2.1"/>
<circle cx="353.4" cy="108.1" r="2.1"/>
<circle cx="355.3" cy="108.4" r="2.1"/>
<circle cx="357.2" cy="111.8" r="2.1"/>
<circle cx="359.1" cy="109.2" r="2.1"/>
<circle cx="361" cy="109" r="2.1"/>
<circle cx="362.9" cy="110.1" r="2.1"/>
<circle cx="364.8" cy="110.2" r="2.1"/>
<circle cx="366.7" cy="109.9" r="2.1"/>
<circle cx="368.6" cy="112.1" r="2.1"/>
<circle cx="370.5" cy="113.2" r="2.1"/>
<circle cx="372.4" cy="110.1" r="2.1"/>
<circle cx="374.3" cy="112.1" r="2.1"/>
<circle cx="376.2" cy="110.9" r="2.1"/>
<circle cx="378.1" cy="106.4" r="2.1"/>
<circle cx="380" cy="110.7" r="2.1"/>
<circle cx="381.9" cy="112.5" r="2.1"/>
<circle cx="383.8" cy="107.3" r="2.1"/>
<circle cx="385.7" cy="110.1" r="2.1"/>
<circle cx="387.6" cy="111.6" r="2.1"/>
<circle cx="389.5" cy="108.7" r="2.1"/>
<circle cx="391.4" cy="109.6" r="2.1"/>
<circle cx="393.3" cy="108.5" r="2.1"/>
<circle cx="395.1" cy="107.2" r="2.1"/>
<circle cx="397" cy="108.9" r="2.1"/>
<circle cx="398.9" cy="109" r="2.1"/>
<circle cx="400.8" cy="110.3" r="2.1"/>
<circle cx="402.7" cy="110.7" r="2.1"/>
<circle cx="404.6" cy="109.6" r="2.1"/>
<circle cx="406.5" cy="109" r="2.1"/>
<circle cx="408.4" cy="108.7" r="2.1"/>
<circle cx="410.3" cy="110" r="2.1"/>
<circle cx="412.2" cy="107" r="2.1"/>
<circle cx="414.1" cy="111.3" r="2.1"/>
<circle cx="416" cy="107.8" r="2.1"/>
<circle cx="417.9" cy="113.3" r="2.1"/>
<circle cx="419.8" cy="110.1" r="2.1"/>
<circle cx="421.7" cy="109.9" r="2.1"/>
<circle cx="423.6" cy="109.6" r="2.1"/>
<circle cx="425.5" cy="110.9" r="2.1"/>
<circle cx="427.4" cy="109.7" r="2.1"/>
<circle cx="429.3" cy="107.4" r="2.1"/>
<circle cx="431.2" cy="109.2" r="2.1"/>
<circle cx="433.1" cy="110" r="2.1"/>
<circle cx="435" cy="110.1" r="2.1"/>
</g>
<path d="M258,112.3 L258.8,112.9 L259.7,113.3 L260.5,113.4 L261.4,113 L262.2,112.2 L263.1,111 L263.9,109.4 L264.8,107.6 L265.6,105.6 L266.4,103.7 L267.3,102 L268.1,100.6 L269,99.7 L269.8,100.1 L270.7,101.1 L271.5,102.6 L272.3,104.5 L273.2,106.7 L274,109.1 L274.9,111.4 L275.7,113.6 L276.6,115.5 L277.4,117 L278.3,118.1 L279.1,118.4 L279.9,118.3 L280.8,117.6 L281.6,116.5 L282.5,115.1 L283.3,113.5 L284.2,111.9 L285,110.2 L285.9,108.7 L286.7,107.5 L287.5,106.5 L288.4,105.8 L289.2,105.5 L290.1,105.5 L290.9,105.7 L291.8,106.3 L292.6,107.3 L293.4,108.5 L294.3,109.9 L295.1,111.1 L296,112.2 L296.8,112.9 L297.7,113.3 L298.5,113.2 L299.4,112.9 L300.2,112.2 L301,111.3 L301.9,110.3 L302.7,109.3 L303.6,108.4 L304.4,107.7 L305.3,107.4 L306.1,107.3 L307,107.5 L307.8,107.9 L308.6,108.5 L309.5,109.2 L310.3,109.9 L311.2,110.6 L312,111.2 L312.9,111.7 L313.7,112 L314.5,112.1 L315.4,112 L316.2,111.8 L317.1,111.4 L317.9,110.8 L318.8,110.3 L319.6,109.7 L320.5,109.2 L321.3,108.8 L322.1,108.5 L323,108.4 L323.8,108.4 L324.7,108.6 L325.5,108.9 L326.4,109.2 L327.2,109.7 L328.1,110.1 L328.9,110.5 L329.7,110.8 L330.6,111 L331.4,111.1 L332.3,111.2 L333.1,111.1 L334,111 L334.8,110.7 L335.6,110.4 L336.5,110 L337.3,109.6 L338.2,109.3 L339,109.1 L339.9,108.9 L340.7,108.8 L341.6,108.9 L342.4,109 L343.2,109.2 L344.1,109.5 L344.9,109.9 L345.8,110.2 L346.6,110.5 L347.5,110.8 L348.3,111 L349.2,111.1 L350,111.1 L350.8,111.1 L351.7,110.9 L352.5,110.7 L353.4,110.4 L354.2,110 L355.1,109.7 L355.9,109.4 L356.7,109.1 L357.6,109 L358.4,108.9 L359.3,108.9 L360.1,109 L361,109.2 L361.8,109.4 L362.7,109.8 L363.5,110.1 L364.3,110.4 L365.2,110.7 L366,110.9 L366.9,111 L367.7,111.1 L368.6,111.1 L369.4,110.9 L370.3,110.7 L371.1,110.4 L371.9,110.1 L372.8,109.8 L373.6,109.5 L374.5,109.3 L375.3,109.1 L376.2,109 L377,108.9 L377.8,109 L378.7,109.2 L379.5,109.4 L380.4,109.7 L381.2,110 L382.1,110.3 L382.9,110.6 L383.8,110.8 L384.6,111 L385.4,111 L386.3,111 L387.1,110.9 L388,110.8 L388.8,110.5 L389.7,110.2 L390.5,109.9 L391.4,109.6 L392.2,109.4 L393,109.2 L393.9,109 L394.7,109 L395.6,109 L396.4,109.1 L397.3,109.3 L398.1,109.6 L398.9,109.9 L399.8,110.2 L400.6,110.5 L401.5,110.7 L402.3,110.9 L403.2,111 L404,111 L404.9,110.9 L405.7,110.8 L406.5,110.6 L407.4,110.3 L408.2,110 L409.1,109.7 L409.9,109.5 L410.8,109.3 L411.6,109.1 L412.5,109 L413.3,109 L414.1,109.1 L415,109.3 L415.8,109.5 L416.7,109.8 L417.5,110.1 L418.4,110.3 L419.2,110.6 L420,110.8 L420.9,110.9 L421.7,110.9 L422.6,110.9 L423.4,110.8 L424.3,110.6 L425.1,110.4 L426,110.1 L426.8,109.8 L427.6,109.6 L428.5,109.4 L429.3,109.2 L430.2,109.1 L431,109.1 L431.9,109.1 L432.7,109.3 L433.6,109.5 L434.4,109.7 L435.2,110 L436.1,110.2" fill="none" stroke="#9a8ae2" stroke-width="1.5"/>
<text x="430.8" y="104.6" font-size="12" text-anchor="end" fill="#1a1a1a" font-weight="normal" >C4</text>
<g fill="none" stroke="#4a6cb4" stroke-width="0.8">
<circle cx="258.4" cy="153.2" r="2.1"/>
<circle cx="260.3" cy="145.4" r="2.1"/>
<circle cx="262.2" cy="143.5" r="2.1"/>
<circle cx="264.1" cy="137.1" r="2.1"/>
<circle cx="266" cy="135.2" r="2.1"/>
<circle cx="267.9" cy="137.5" r="2.1"/>
<circle cx="269.8" cy="135.3" r="2.1"/>
<circle cx="271.7" cy="140.8" r="2.1"/>
<circle cx="273.6" cy="146.5" r="2.1"/>
<circle cx="275.5" cy="151.5" r="2.1"/>
<circle cx="277.4" cy="152.5" r="2.1"/>
<circle cx="279.3" cy="148.3" r="2.1"/>
<circle cx="281.2" cy="147.8" r="2.1"/>
<circle cx="283.1" cy="142.9" r="2.1"/>
<circle cx="285" cy="141.9" r="2.1"/>
<circle cx="286.9" cy="139.2" r="2.1"/>
<circle cx="288.8" cy="140.4" r="2.1"/>
<circle cx="290.7" cy="141.4" r="2.1"/>
<circle cx="292.6" cy="142.5" r="2.1"/>
<circle cx="294.5" cy="144.6" r="2.1"/>
<circle cx="296.4" cy="148.2" r="2.1"/>
<circle cx="298.3" cy="146.5" r="2.1"/>
<circle cx="300.2" cy="145" r="2.1"/>
<circle cx="302.1" cy="144.5" r="2.1"/>
<circle cx="304" cy="143.7" r="2.1"/>
<circle cx="305.9" cy="142.7" r="2.1"/>
<circle cx="307.8" cy="140.1" r="2.1"/>
<circle cx="309.7" cy="141.5" r="2.1"/>
<circle cx="311.6" cy="143.8" r="2.1"/>
<circle cx="313.5" cy="143.3" r="2.1"/>
<circle cx="315.4" cy="147" r="2.1"/>
<circle cx="317.3" cy="146.4" r="2.1"/>
<circle cx="319.2" cy="144.4" r="2.1"/>
<circle cx="321.1" cy="146.3" r="2.1"/>
<circle cx="323" cy="143.7" r="2.1"/>
<circle cx="324.9" cy="145.6" r="2.1"/>
<circle cx="326.8" cy="142.2" r="2.1"/>
<circle cx="328.7" cy="144.7" r="2.1"/>
<circle cx="330.6" cy="146.3" r="2.1"/>
<circle cx="332.5" cy="144.5" r="2.1"/>
<circle cx="334.4" cy="145.3" r="2.1"/>
<circle cx="336.3" cy="144.7" r="2.1"/>
<circle cx="338.2" cy="145.7" r="2.1"/>
<circle cx="340.1" cy="146.6" r="2.1"/>
<circle cx="342" cy="147.9" r="2.1"/>
<circle cx="343.9" cy="145.9" r="2.1"/>
<circle cx="345.8" cy="141.9" r="2.1"/>
<circle cx="347.7" cy="144.8" r="2.1"/>
<circle cx="349.6" cy="141.7" r="2.1"/>
<circle cx="351.5" cy="146.1" r="2.1"/>
<circle cx="353.4" cy="145.8" r="2.1"/>
<circle cx="355.3" cy="145.4" r="2.1"/>
<circle cx="357.2" cy="143.2" r="2.1"/>
<circle cx="359.1" cy="146.2" r="2.1"/>
<circle cx="361" cy="143.9" r="2.1"/>
<circle cx="362.9" cy="143.2" r="2.1"/>
<circle cx="364.8" cy="143.6" r="2.1"/>
<circle cx="366.7" cy="140.7" r="2.1"/>
<circle cx="368.6" cy="143.1" r="2.1"/>
<circle cx="370.5" cy="143.6" r="2.1"/>
<circle cx="372.4" cy="144.9" r="2.1"/>
<circle cx="374.3" cy="143.1" r="2.1"/>
<circle cx="376.2" cy="143.9" r="2.1"/>
<circle cx="378.1" cy="147.1" r="2.1"/>
<circle cx="380" cy="147" r="2.1"/>
<circle cx="381.9" cy="142" r="2.1"/>
<circle cx="383.8" cy="145" r="2.1"/>
<circle cx="385.7" cy="145.2" r="2.1"/>
<circle cx="387.6" cy="142.1" r="2.1"/>
<circle cx="389.5" cy="144.6" r="2.1"/>
<circle cx="391.4" cy="142.8" r="2.1"/>
<circle cx="393.3" cy="143.1" r="2.1"/>
<circle cx="395.1" cy="142.3" r="2.1"/>
<circle cx="397" cy="146.8" r="2.1"/>
<circle cx="398.9" cy="143.4" r="2.1"/>
<circle cx="400.8" cy="139.7" r="2.1"/>
<circle cx="402.7" cy="142.2" r="2.1"/>
<circle cx="404.6" cy="142.7" r="2.1"/>
<circle cx="406.5" cy="141.2" r="2.1"/>
<circle cx="408.4" cy="145.3" r="2.1"/>
<circle cx="410.3" cy="141.4" r="2.1"/>
<circle cx="412.2" cy="142.4" r="2.1"/>
<circle cx="414.1" cy="143.7" r="2.1"/>
<circle cx="416" cy="145.2" r="2.1"/>
<circle cx="417.9" cy="142.3" r="2.1"/>
<circle cx="419.8" cy="141.9" r="2.1"/>
<circle cx="421.7" cy="143" r="2.1"/>
<circle cx="423.6" cy="145" r="2.1"/>
<circle cx="425.5" cy="143.1" r="2.1"/>
<circle cx="427.4" cy="144.1" r="2.1"/>
<circle cx="429.3" cy="141.7" r="2.1"/>
<circle cx="431.2" cy="144.5" r="2.1"/>
<circle cx="433.1" cy="143.7" r="2.1"/>
<circle cx="435" cy="143.9" r="2.1"/>
</g>
<path d="M258,151.2 L258.8,151.2 L259.7,150.4 L260.5,149 L261.4,146.7 L262.2,144 L263.1,141.3 L263.9,138.8 L264.8,136.6 L265.6,135 L266.4,134.3 L267.3,134.2 L268.1,134.8 L269,136 L269.8,137.6 L270.7,139.6 L271.5,141.7 L272.3,143.9 L273.2,146 L274,147.8 L274.9,149.3 L275.7,150.3 L276.6,150.9 L277.4,150.9 L278.3,150.6 L279.1,149.8 L279.9,148.6 L280.8,147.2 L281.6,145.7 L282.5,144.2 L283.3,142.7 L284.2,141.4 L285,140.3 L285.9,139.5 L286.7,139.1 L287.5,139 L288.4,139.3 L289.2,139.8 L290.1,140.6 L290.9,141.6 L291.8,142.7 L292.6,143.8 L293.4,144.9 L294.3,145.9 L295.1,146.7 L296,147.3 L296.8,147.6 L297.7,147.7 L298.5,147.5 L299.4,147.1 L300.2,146.5 L301,145.8 L301.9,145 L302.7,144.2 L303.6,143.4 L304.4,142.6 L305.3,142 L306.1,141.6 L307,141.3 L307.8,141.2 L308.6,141.3 L309.5,141.6 L310.3,142 L311.2,142.6 L312,143.2 L312.9,143.8 L313.7,144.5 L314.5,145 L315.4,145.5 L316.2,145.9 L317.1,146.1 L317.9,146.2 L318.8,146.1 L319.6,145.9 L320.5,145.6 L321.3,145.1 L322.1,144.7 L323,144.2 L323.8,143.7 L324.7,143.2 L325.5,142.8 L326.4,142.5 L327.2,142.3 L328.1,142.2 L328.9,142.3 L329.7,142.4 L330.6,142.7 L331.4,143 L332.3,143.4 L333.1,143.9 L334,144.3 L334.8,144.7 L335.6,145 L336.5,145.2 L337.3,145.4 L338.2,145.5 L339,145.5 L339.9,145.3 L340.7,145.1 L341.6,144.8 L342.4,144.5 L343.2,144.1 L344.1,143.8 L344.9,143.5 L345.8,143.2 L346.6,142.9 L347.5,142.8 L348.3,142.7 L349.2,142.7 L350,142.8 L350.8,143 L351.7,143.3 L352.5,143.5 L353.4,143.9 L354.2,144.2 L355.1,144.5 L355.9,144.7 L356.7,145 L357.6,145.1 L358.4,145.2 L359.3,145.2 L360.1,145.1 L361,144.9 L361.8,144.7 L362.7,144.4 L363.5,144.1 L364.3,143.9 L365.2,143.6 L366,143.3 L366.9,143.1 L367.7,143 L368.6,142.9 L369.4,142.9 L370.3,143 L371.1,143.1 L371.9,143.3 L372.8,143.6 L373.6,143.8 L374.5,144.1 L375.3,144.4 L376.2,144.6 L377,144.8 L377.8,144.9 L378.7,145 L379.5,145 L380.4,144.9 L381.2,144.8 L382.1,144.6 L382.9,144.4 L383.8,144.2 L384.6,143.9 L385.4,143.6 L386.3,143.4 L387.1,143.2 L388,143.1 L388.8,143 L389.7,143 L390.5,143.1 L391.4,143.2 L392.2,143.4 L393,143.6 L393.9,143.8 L394.7,144.1 L395.6,144.3 L396.4,144.6 L397.3,144.7 L398.1,144.9 L398.9,144.9 L399.8,145 L400.6,144.9 L401.5,144.8 L402.3,144.6 L403.2,144.4 L404,144.2 L404.9,143.9 L405.7,143.7 L406.5,143.5 L407.4,143.3 L408.2,143.2 L409.1,143.1 L409.9,143.1 L410.8,143.1 L411.6,143.2 L412.5,143.4 L413.3,143.6 L414.1,143.8 L415,144.1 L415.8,144.3 L416.7,144.5 L417.5,144.7 L418.4,144.8 L419.2,144.9 L420,144.9 L420.9,144.9 L421.7,144.8 L422.6,144.6 L423.4,144.4 L424.3,144.2 L425.1,144 L426,143.7 L426.8,143.5 L427.6,143.3 L428.5,143.2 L429.3,143.1 L430.2,143.1 L431,143.1 L431.9,143.2 L432.7,143.4 L433.6,143.6 L434.4,143.8 L435.2,144 L436.1,144.3" fill="none" stroke="#2c4f9e" stroke-width="1.5"/>
<text x="430.8" y="136.8" font-size="12" text-anchor="end" fill="#1a1a1a" font-weight="normal" >C3</text>
<path d="M436.8,12.3 L436.8,166.1 L257.5,166.1" fill="none" stroke="#b2b2b2" stroke-width="1.1"/>
<path d="M436.8,12.3 L257.5,12.3 L257.5,166.1" fill="none" stroke="#b2b2b2" stroke-width="1.1"/>
<path d="M257.5,12.3 L257.5,166.1 L436.8,166.1" fill="none" stroke="#5a5a5a" stroke-width="0.9"/>
<line x1="269.5" y1="166.1" x2="269.5" y2="164.3" stroke="#7a7a7a" stroke-width="0.9"/>
<line x1="290.6" y1="166.1" x2="290.6" y2="163.1" stroke="#7a7a7a" stroke-width="0.9"/>
<text x="291.1" y="179" font-size="12" text-anchor="middle" fill="#1a1a1a" font-weight="normal" >1</text>
<line x1="311.7" y1="166.1" x2="311.7" y2="164.3" stroke="#7a7a7a" stroke-width="0.9"/>
<line x1="332.8" y1="166.1" x2="332.8" y2="163.1" stroke="#7a7a7a" stroke-width="0.9"/>
<text x="333.3" y="179" font-size="12" text-anchor="middle" fill="#1a1a1a" font-weight="normal" >2</text>
<line x1="353.9" y1="166.1" x2="353.9" y2="164.3" stroke="#7a7a7a" stroke-width="0.9"/>
<line x1="375" y1="166.1" x2="375" y2="163.1" stroke="#7a7a7a" stroke-width="0.9"/>
<text x="375.5" y="179" font-size="12" text-anchor="middle" fill="#1a1a1a" font-weight="normal" >3</text>
<line x1="396.1" y1="166.1" x2="396.1" y2="164.3" stroke="#7a7a7a" stroke-width="0.9"/>
<line x1="417.2" y1="166.1" x2="417.2" y2="163.1" stroke="#7a7a7a" stroke-width="0.9"/>
<text x="417.7" y="179" font-size="12" text-anchor="middle" fill="#1a1a1a" font-weight="normal" >4</text>
<text x="347" y="196" font-size="12" text-anchor="middle" fill="#1a1a1a" font-weight="normal" >Time (ps)</text>
<text x="0" y="0" font-size="12" text-anchor="middle" fill="#1a1a1a" transform="translate(247.5,84) rotate(-90)" >Res (mOD)</text>
<text x="236" y="7.2" font-size="12.5" text-anchor="start" fill="#000" font-weight="bold" >c</text>
<path d="M259.3,257.5 L262.6,257.2 L265.9,256.8 L269.1,256.4 L272.4,256.1 L275.7,255.8 L278.9,254.2 L282.2,243.2 L285.5,232.5 L288.8,247.6 L292,256.1 L295.3,256.5 L298.6,256.7 L301.8,257 L305.1,257.4 L308.4,257.5 L311.6,257.3 L314.9,256.9 L318.2,256.6 L321.5,256.5 L324.7,256.8 L328,257.2 L331.3,257.5 L334.5,257.5 L337.8,257.2 L341.1,256.8 L344.3,256.5 L347.6,256.6 L350.9,256.9 L354.2,257.3 L357.4,257.5 L360.7,257.4 L364,257.1 L367.2,256.7 L370.5,256.5 L373.8,256.6 L377,257 L380.3,257.4 L383.6,257.5 L386.9,257.3 L390.1,256.9 L393.4,256.6 L396.7,256.5 L399.9,256.7 L403.2,257.1 L406.5,257.4 L409.7,257.5 L413,257.2 L416.3,256.8 L419.6,256.5 L422.8,256.6 L426.1,256.9 L429.4,257.3 L432.6,257.5 L435.9,257.4" fill="none" stroke="#dd7272" stroke-width="1.0"/>
<g fill="#eeaaaa" stroke="#dd7272" stroke-width="0.7">
<circle cx="259.3" cy="257.5" r="1.75"/>
<circle cx="262.6" cy="257.2" r="1.75"/>
<circle cx="265.9" cy="256.8" r="1.75"/>
<circle cx="269.1" cy="256.4" r="1.75"/>
<circle cx="272.4" cy="256.1" r="1.75"/>
<circle cx="275.7" cy="255.8" r="1.75"/>
<circle cx="278.9" cy="254.2" r="1.75"/>
<circle cx="282.2" cy="243.2" r="1.75"/>
<circle cx="285.5" cy="232.5" r="1.75"/>
<circle cx="288.8" cy="247.6" r="1.75"/>
<circle cx="292" cy="256.1" r="1.75"/>
<circle cx="295.3" cy="256.5" r="1.75"/>
<circle cx="298.6" cy="256.7" r="1.75"/>
<circle cx="301.8" cy="257" r="1.75"/>
<circle cx="305.1" cy="257.4" r="1.75"/>
<circle cx="308.4" cy="257.5" r="1.75"/>
<circle cx="311.6" cy="257.3" r="1.75"/>
<circle cx="314.9" cy="256.9" r="1.75"/>
<circle cx="318.2" cy="256.6" r="1.75"/>
<circle cx="321.5" cy="256.5" r="1.75"/>
<circle cx="324.7" cy="256.8" r="1.75"/>
<circle cx="328" cy="257.2" r="1.75"/>
<circle cx="331.3" cy="257.5" r="1.75"/>
<circle cx="334.5" cy="257.5" r="1.75"/>
<circle cx="337.8" cy="257.2" r="1.75"/>
<circle cx="341.1" cy="256.8" r="1.75"/>
<circle cx="344.3" cy="256.5" r="1.75"/>
<circle cx="347.6" cy="256.6" r="1.75"/>
<circle cx="350.9" cy="256.9" r="1.75"/>
<circle cx="354.2" cy="257.3" r="1.75"/>
<circle cx="357.4" cy="257.5" r="1.75"/>
<circle cx="360.7" cy="257.4" r="1.75"/>
<circle cx="364" cy="257.1" r="1.75"/>
<circle cx="367.2" cy="256.7" r="1.75"/>
<circle cx="370.5" cy="256.5" r="1.75"/>
<circle cx="373.8" cy="256.6" r="1.75"/>
<circle cx="377" cy="257" r="1.75"/>
<circle cx="380.3" cy="257.4" r="1.75"/>
<circle cx="383.6" cy="257.5" r="1.75"/>
<circle cx="386.9" cy="257.3" r="1.75"/>
<circle cx="390.1" cy="256.9" r="1.75"/>
<circle cx="393.4" cy="256.6" r="1.75"/>
<circle cx="396.7" cy="256.5" r="1.75"/>
<circle cx="399.9" cy="256.7" r="1.75"/>
<circle cx="403.2" cy="257.1" r="1.75"/>
<circle cx="406.5" cy="257.4" r="1.75"/>
<circle cx="409.7" cy="257.5" r="1.75"/>
<circle cx="413" cy="257.2" r="1.75"/>
<circle cx="416.3" cy="256.8" r="1.75"/>
<circle cx="419.6" cy="256.5" r="1.75"/>
<circle cx="422.8" cy="256.6" r="1.75"/>
<circle cx="426.1" cy="256.9" r="1.75"/>
<circle cx="429.4" cy="257.3" r="1.75"/>
<circle cx="432.6" cy="257.5" r="1.75"/>
<circle cx="435.9" cy="257.4" r="1.75"/>
</g>
<text x="433.4" y="247.7" font-size="12.5" text-anchor="end" fill="#1a1a1a" font-weight="normal" >C6</text>
<text x="292.6" y="239.4" font-size="10.5" text-anchor="start" fill="#e06f6c" font-weight="normal" letter-spacing="-0.15">35cm<tspan font-size="6.8" dy="-4.2">-1</tspan></text>
<path d="M259.3,293.8 L261.5,293.9 L263.7,294.2 L265.9,294.4 L268,294.6 L270.2,294.5 L272.4,294.3 L274.6,294 L276.8,293.8 L278.9,293.8 L281.1,294 L283.3,294.3 L285.5,294.5 L287.7,294.3 L289.8,291.9 L292,283.3 L294.2,271 L296.4,270.1 L298.6,281.7 L300.7,291 L302.9,294 L305.1,294.5 L307.3,294.4 L309.5,293.7 L311.6,292.5 L313.8,291 L316,289.9 L318.2,290.1 L320.4,291.4 L322.5,292.9 L324.7,294 L326.9,294.3 L329.1,294.3 L331.3,294 L333.4,293.8 L335.6,293.8 L337.8,294 L340,294.3 L342.2,294.5 L344.3,294.6 L346.5,294.5 L348.7,294.2 L350.9,293.9 L353.1,293.8 L355.2,293.9 L357.4,294.1 L359.6,294.4 L361.8,294.6 L364,294.6 L366.1,294.4 L368.3,294.1 L370.5,293.9 L372.7,293.8 L374.9,293.9 L377,294.2 L379.2,294.5 L381.4,294.6 L383.6,294.5 L385.8,294.3 L387.9,294 L390.1,293.8 L392.3,293.8 L394.5,294 L396.7,294.3 L398.8,294.5 L401,294.6 L403.2,294.5 L405.4,294.2 L407.6,293.9 L409.7,293.8 L411.9,293.9 L414.1,294.1 L416.3,294.4 L418.5,294.6 L420.6,294.6 L422.8,294.4 L425,294.1 L427.2,293.9 L429.4,293.8 L431.5,294 L433.7,294.2 L435.9,294.5" fill="none" stroke="#f08a34" stroke-width="1.0"/>
<g fill="#f7b273" stroke="#f08a34" stroke-width="0.7">
<circle cx="259.3" cy="293.8" r="1.75"/>
<circle cx="261.5" cy="293.9" r="1.75"/>
<circle cx="263.7" cy="294.2" r="1.75"/>
<circle cx="265.9" cy="294.4" r="1.75"/>
<circle cx="268" cy="294.6" r="1.75"/>
<circle cx="270.2" cy="294.5" r="1.75"/>
<circle cx="272.4" cy="294.3" r="1.75"/>
<circle cx="274.6" cy="294" r="1.75"/>
<circle cx="276.8" cy="293.8" r="1.75"/>
<circle cx="278.9" cy="293.8" r="1.75"/>
<circle cx="281.1" cy="294" r="1.75"/>
<circle cx="283.3" cy="294.3" r="1.75"/>
<circle cx="285.5" cy="294.5" r="1.75"/>
<circle cx="287.7" cy="294.3" r="1.75"/>
<circle cx="289.8" cy="291.9" r="1.75"/>
<circle cx="292" cy="283.3" r="1.75"/>
<circle cx="294.2" cy="271" r="1.75"/>
<circle cx="296.4" cy="270.1" r="1.75"/>
<circle cx="298.6" cy="281.7" r="1.75"/>
<circle cx="300.7" cy="291" r="1.75"/>
<circle cx="302.9" cy="294" r="1.75"/>
<circle cx="305.1" cy="294.5" r="1.75"/>
<circle cx="307.3" cy="294.4" r="1.75"/>
<circle cx="309.5" cy="293.7" r="1.75"/>
<circle cx="311.6" cy="292.5" r="1.75"/>
<circle cx="313.8" cy="291" r="1.75"/>
<circle cx="316" cy="289.9" r="1.75"/>
<circle cx="318.2" cy="290.1" r="1.75"/>
<circle cx="320.4" cy="291.4" r="1.75"/>
<circle cx="322.5" cy="292.9" r="1.75"/>
<circle cx="324.7" cy="294" r="1.75"/>
<circle cx="326.9" cy="294.3" r="1.75"/>
<circle cx="329.1" cy="294.3" r="1.75"/>
<circle cx="331.3" cy="294" r="1.75"/>
<circle cx="333.4" cy="293.8" r="1.75"/>
<circle cx="335.6" cy="293.8" r="1.75"/>
<circle cx="337.8" cy="294" r="1.75"/>
<circle cx="340" cy="294.3" r="1.75"/>
<circle cx="342.2" cy="294.5" r="1.75"/>
<circle cx="344.3" cy="294.6" r="1.75"/>
<circle cx="346.5" cy="294.5" r="1.75"/>
<circle cx="348.7" cy="294.2" r="1.75"/>
<circle cx="350.9" cy="293.9" r="1.75"/>
<circle cx="353.1" cy="293.8" r="1.75"/>
<circle cx="355.2" cy="293.9" r="1.75"/>
<circle cx="357.4" cy="294.1" r="1.75"/>
<circle cx="359.6" cy="294.4" r="1.75"/>
<circle cx="361.8" cy="294.6" r="1.75"/>
<circle cx="364" cy="294.6" r="1.75"/>
<circle cx="366.1" cy="294.4" r="1.75"/>
<circle cx="368.3" cy="294.1" r="1.75"/>
<circle cx="370.5" cy="293.9" r="1.75"/>
<circle cx="372.7" cy="293.8" r="1.75"/>
<circle cx="374.9" cy="293.9" r="1.75"/>
<circle cx="377" cy="294.2" r="1.75"/>
<circle cx="379.2" cy="294.5" r="1.75"/>
<circle cx="381.4" cy="294.6" r="1.75"/>
<circle cx="383.6" cy="294.5" r="1.75"/>
<circle cx="385.8" cy="294.3" r="1.75"/>
<circle cx="387.9" cy="294" r="1.75"/>
<circle cx="390.1" cy="293.8" r="1.75"/>
<circle cx="392.3" cy="293.8" r="1.75"/>
<circle cx="394.5" cy="294" r="1.75"/>
<circle cx="396.7" cy="294.3" r="1.75"/>
<circle cx="398.8" cy="294.5" r="1.75"/>
<circle cx="401" cy="294.6" r="1.75"/>
<circle cx="403.2" cy="294.5" r="1.75"/>
<circle cx="405.4" cy="294.2" r="1.75"/>
<circle cx="407.6" cy="293.9" r="1.75"/>
<circle cx="409.7" cy="293.8" r="1.75"/>
<circle cx="411.9" cy="293.9" r="1.75"/>
<circle cx="414.1" cy="294.1" r="1.75"/>
<circle cx="416.3" cy="294.4" r="1.75"/>
<circle cx="418.5" cy="294.6" r="1.75"/>
<circle cx="420.6" cy="294.6" r="1.75"/>
<circle cx="422.8" cy="294.4" r="1.75"/>
<circle cx="425" cy="294.1" r="1.75"/>
<circle cx="427.2" cy="293.9" r="1.75"/>
<circle cx="429.4" cy="293.8" r="1.75"/>
<circle cx="431.5" cy="294" r="1.75"/>
<circle cx="433.7" cy="294.2" r="1.75"/>
<circle cx="435.9" cy="294.5" r="1.75"/>
</g>
<text x="433.4" y="281.9" font-size="12.5" text-anchor="end" fill="#1a1a1a" font-weight="normal" >C5</text>
<text x="305.4" y="279.8" font-size="10.5" text-anchor="start" fill="#ef8a30" font-weight="normal" letter-spacing="-0.15">41cm<tspan font-size="6.8" dy="-4.2">-1</tspan></text>
<path d="M259.1,330.8 L261.7,330.6 L264.3,330.1 L266.9,329.3 L269.5,328 L272.1,326.7 L274.7,325.7 L277.3,325.7 L279.9,326.6 L282.5,327.9 L285.1,329 L287.7,329.5 L290.3,329.3 L292.9,328.5 L295.5,327.8 L298.1,327.8 L300.7,328.5 L303.3,329.4 L305.9,330.1 L308.5,330.2 L311.1,329.7 L313.7,328.7 L316.3,327.7 L318.9,327.3 L321.5,327.1 L324.1,326.7 L326.7,325.8 L329.3,323.7 L331.9,318.6 L334.5,311.6 L337.1,306.4 L339.7,306.4 L342.3,311.7 L344.9,319 L347.5,325.1 L350.1,328.7 L352.7,330.2 L355.3,330.7 L357.9,330.9 L360.5,330.9 L363.1,330.9 L365.7,330.9 L368.3,330.9 L370.9,330.9 L373.5,330.9 L376.1,330.9 L378.7,330.9 L381.3,330.9 L383.9,330.9 L386.5,330.9 L389.1,330.9 L391.7,330.9 L394.3,330.9 L396.9,330.9 L399.5,330.9 L402.1,330.9 L404.7,330.9 L407.3,330.9 L409.9,330.9 L412.5,330.9 L415.1,330.9 L417.7,330.9 L420.3,330.9 L422.9,330.9 L425.5,330.9 L428.1,330.9 L430.7,330.9 L433.3,330.9 L435.9,330.9" fill="none" stroke="#a597ea" stroke-width="1.0"/>
<g fill="#c2b6f4" stroke="#a597ea" stroke-width="0.7">
<circle cx="259.1" cy="330.8" r="1.75"/>
<circle cx="261.7" cy="330.6" r="1.75"/>
<circle cx="264.3" cy="330.1" r="1.75"/>
<circle cx="266.9" cy="329.3" r="1.75"/>
<circle cx="269.5" cy="328" r="1.75"/>
<circle cx="272.1" cy="326.7" r="1.75"/>
<circle cx="274.7" cy="325.7" r="1.75"/>
<circle cx="277.3" cy="325.7" r="1.75"/>
<circle cx="279.9" cy="326.6" r="1.75"/>
<circle cx="282.5" cy="327.9" r="1.75"/>
<circle cx="285.1" cy="329" r="1.75"/>
<circle cx="287.7" cy="329.5" r="1.75"/>
<circle cx="290.3" cy="329.3" r="1.75"/>
<circle cx="292.9" cy="328.5" r="1.75"/>
<circle cx="295.5" cy="327.8" r="1.75"/>
<circle cx="298.1" cy="327.8" r="1.75"/>
<circle cx="300.7" cy="328.5" r="1.75"/>
<circle cx="303.3" cy="329.4" r="1.75"/>
<circle cx="305.9" cy="330.1" r="1.75"/>
<circle cx="308.5" cy="330.2" r="1.75"/>
<circle cx="311.1" cy="329.7" r="1.75"/>
<circle cx="313.7" cy="328.7" r="1.75"/>
<circle cx="316.3" cy="327.7" r="1.75"/>
<circle cx="318.9" cy="327.3" r="1.75"/>
<circle cx="321.5" cy="327.1" r="1.75"/>
<circle cx="324.1" cy="326.7" r="1.75"/>
<circle cx="326.7" cy="325.8" r="1.75"/>
<circle cx="329.3" cy="323.7" r="1.75"/>
<circle cx="331.9" cy="318.6" r="1.75"/>
<circle cx="334.5" cy="311.6" r="1.75"/>
<circle cx="337.1" cy="306.4" r="1.75"/>
<circle cx="339.7" cy="306.4" r="1.75"/>
<circle cx="342.3" cy="311.7" r="1.75"/>
<circle cx="344.9" cy="319" r="1.75"/>
<circle cx="347.5" cy="325.1" r="1.75"/>
<circle cx="350.1" cy="328.7" r="1.75"/>
<circle cx="352.7" cy="330.2" r="1.75"/>
<circle cx="355.3" cy="330.7" r="1.75"/>
<circle cx="357.9" cy="330.9" r="1.75"/>
<circle cx="360.5" cy="330.9" r="1.75"/>
<circle cx="363.1" cy="330.9" r="1.75"/>
<circle cx="365.7" cy="330.9" r="1.75"/>
<circle cx="368.3" cy="330.9" r="1.75"/>
<circle cx="370.9" cy="330.9" r="1.75"/>
<circle cx="373.5" cy="330.9" r="1.75"/>
<circle cx="376.1" cy="330.9" r="1.75"/>
<circle cx="378.7" cy="330.9" r="1.75"/>
<circle cx="381.3" cy="330.9" r="1.75"/>
<circle cx="383.9" cy="330.9" r="1.75"/>
<circle cx="386.5" cy="330.9" r="1.75"/>
<circle cx="389.1" cy="330.9" r="1.75"/>
<circle cx="391.7" cy="330.9" r="1.75"/>
<circle cx="394.3" cy="330.9" r="1.75"/>
<circle cx="396.9" cy="330.9" r="1.75"/>
<circle cx="399.5" cy="330.9" r="1.75"/>
<circle cx="402.1" cy="330.9" r="1.75"/>
<circle cx="404.7" cy="330.9" r="1.75"/>
<circle cx="407.3" cy="330.9" r="1.75"/>
<circle cx="409.9" cy="330.9" r="1.75"/>
<circle cx="412.5" cy="330.9" r="1.75"/>
<circle cx="415.1" cy="330.9" r="1.75"/>
<circle cx="417.7" cy="330.9" r="1.75"/>
<circle cx="420.3" cy="330.9" r="1.75"/>
<circle cx="422.9" cy="330.9" r="1.75"/>
<circle cx="425.5" cy="330.9" r="1.75"/>
<circle cx="428.1" cy="330.9" r="1.75"/>
<circle cx="430.7" cy="330.9" r="1.75"/>
<circle cx="433.3" cy="330.9" r="1.75"/>
<circle cx="435.9" cy="330.9" r="1.75"/>
</g>
<text x="433.4" y="321.2" font-size="12.5" text-anchor="end" fill="#1a1a1a" font-weight="normal" >C4</text>
<text x="351.4" y="315.8" font-size="10.5" text-anchor="start" fill="#a593e6" font-weight="normal" letter-spacing="-0.15">65cm<tspan font-size="6.8" dy="-4.2">-1</tspan></text>
<path d="M259.3,368.1 L262.9,368.1 L266.6,368.1 L270.3,368 L274,367.8 L277.7,367.3 L281.3,367.2 L285,367.6 L288.7,368 L292.4,368.1 L296.1,368.1 L299.7,368.1 L303.4,368 L307.1,367.6 L310.8,366.7 L314.5,366.1 L318.1,366.9 L321.8,367.7 L325.5,366.9 L329.2,365.6 L332.9,364.7 L336.5,358.2 L340.2,346.9 L343.9,344.2 L347.6,355.5 L351.3,362.9 L354.9,363.4 L358.6,365.5 L362.3,367.6 L366,367.8 L369.7,367.3 L373.3,368 L377,368.1 L380.7,368.1 L384.4,368.1 L388.1,368.1 L391.7,368.1 L395.4,368.1 L399.1,368.1 L402.8,368.1 L406.5,368.1 L410.1,368.1 L413.8,368.1 L417.5,368.1 L421.2,368.1 L424.9,368.1 L428.5,368.1 L432.2,368.1 L435.9,368.1" fill="none" stroke="#1f63b8" stroke-width="1.0"/>
<g fill="#2f72c8" stroke="#1f63b8" stroke-width="0.7">
<circle cx="259.3" cy="368.1" r="1.9"/>
<circle cx="262.9" cy="368.1" r="1.9"/>
<circle cx="266.6" cy="368.1" r="1.9"/>
<circle cx="270.3" cy="368" r="1.9"/>
<circle cx="274" cy="367.8" r="1.9"/>
<circle cx="277.7" cy="367.3" r="1.9"/>
<circle cx="281.3" cy="367.2" r="1.9"/>
<circle cx="285" cy="367.6" r="1.9"/>
<circle cx="288.7" cy="368" r="1.9"/>
<circle cx="292.4" cy="368.1" r="1.9"/>
<circle cx="296.1" cy="368.1" r="1.9"/>
<circle cx="299.7" cy="368.1" r="1.9"/>
<circle cx="303.4" cy="368" r="1.9"/>
<circle cx="307.1" cy="367.6" r="1.9"/>
<circle cx="310.8" cy="366.7" r="1.9"/>
<circle cx="314.5" cy="366.1" r="1.9"/>
<circle cx="318.1" cy="366.9" r="1.9"/>
<circle cx="321.8" cy="367.7" r="1.9"/>
<circle cx="325.5" cy="366.9" r="1.9"/>
<circle cx="329.2" cy="365.6" r="1.9"/>
<circle cx="332.9" cy="364.7" r="1.9"/>
<circle cx="336.5" cy="358.2" r="1.9"/>
<circle cx="340.2" cy="346.9" r="1.9"/>
<circle cx="343.9" cy="344.2" r="1.9"/>
<circle cx="347.6" cy="355.5" r="1.9"/>
<circle cx="351.3" cy="362.9" r="1.9"/>
<circle cx="354.9" cy="363.4" r="1.9"/>
<circle cx="358.6" cy="365.5" r="1.9"/>
<circle cx="362.3" cy="367.6" r="1.9"/>
<circle cx="366" cy="367.8" r="1.9"/>
<circle cx="369.7" cy="367.3" r="1.9"/>
<circle cx="373.3" cy="368" r="1.9"/>
<circle cx="377" cy="368.1" r="1.9"/>
<circle cx="380.7" cy="368.1" r="1.9"/>
<circle cx="384.4" cy="368.1" r="1.9"/>
<circle cx="388.1" cy="368.1" r="1.9"/>
<circle cx="391.7" cy="368.1" r="1.9"/>
<circle cx="395.4" cy="368.1" r="1.9"/>
<circle cx="399.1" cy="368.1" r="1.9"/>
<circle cx="402.8" cy="368.1" r="1.9"/>
<circle cx="406.5" cy="368.1" r="1.9"/>
<circle cx="410.1" cy="368.1" r="1.9"/>
<circle cx="413.8" cy="368.1" r="1.9"/>
<circle cx="417.5" cy="368.1" r="1.9"/>
<circle cx="421.2" cy="368.1" r="1.9"/>
<circle cx="424.9" cy="368.1" r="1.9"/>
<circle cx="428.5" cy="368.1" r="1.9"/>
<circle cx="432.2" cy="368.1" r="1.9"/>
<circle cx="435.9" cy="368.1" r="1.9"/>
</g>
<text x="433.4" y="353.5" font-size="12.5" text-anchor="end" fill="#1a1a1a" font-weight="normal" >C3</text>
<text x="356.6" y="354.8" font-size="10.5" text-anchor="start" fill="#3a7cc8" font-weight="normal" letter-spacing="-0.15">69cm<tspan font-size="6.8" dy="-4.2">-1</tspan></text>
<rect x="257.5" y="220.1" width="179.5" height="152.50000000000003" fill="none" stroke="#7a7a7a" stroke-width="0.9"/>
<line x1="275.3" y1="372.6" x2="275.3" y2="370.8" stroke="#7a7a7a" stroke-width="0.9"/>
<line x1="293.2" y1="372.6" x2="293.2" y2="369.6" stroke="#7a7a7a" stroke-width="0.9"/>
<line x1="311.1" y1="372.6" x2="311.1" y2="370.8" stroke="#7a7a7a" stroke-width="0.9"/>
<line x1="329" y1="372.6" x2="329" y2="369.6" stroke="#7a7a7a" stroke-width="0.9"/>
<line x1="346.9" y1="372.6" x2="346.9" y2="370.8" stroke="#7a7a7a" stroke-width="0.9"/>
<line x1="364.8" y1="372.6" x2="364.8" y2="369.6" stroke="#7a7a7a" stroke-width="0.9"/>
<line x1="382.7" y1="372.6" x2="382.7" y2="370.8" stroke="#7a7a7a" stroke-width="0.9"/>
<line x1="400.6" y1="372.6" x2="400.6" y2="369.6" stroke="#7a7a7a" stroke-width="0.9"/>
<line x1="418.5" y1="372.6" x2="418.5" y2="370.8" stroke="#7a7a7a" stroke-width="0.9"/>
<line x1="436.4" y1="372.6" x2="436.4" y2="369.6" stroke="#7a7a7a" stroke-width="0.9"/>
<text x="263.2" y="385.5" font-size="12" text-anchor="middle" fill="#1a1a1a" font-weight="normal" >20</text>
<text x="294.7" y="385.5" font-size="12" text-anchor="middle" fill="#1a1a1a" font-weight="normal" >40</text>
<text x="330.5" y="385.5" font-size="12" text-anchor="middle" fill="#1a1a1a" font-weight="normal" >60</text>
<text x="366.3" y="385.5" font-size="12" text-anchor="middle" fill="#1a1a1a" font-weight="normal" >80</text>
<text x="402.1" y="385.5" font-size="12" text-anchor="middle" fill="#1a1a1a" font-weight="normal" >100</text>
<text x="436.1" y="385.5" font-size="12" text-anchor="middle" fill="#1a1a1a" font-weight="normal" >120</text>
<text x="351.5" y="403" font-size="12" text-anchor="middle" fill="#1a1a1a" font-weight="normal" >Wavenumber (cm<tspan font-size="8" dy="-4.5">-1</tspan><tspan dy="4.5">)</tspan></text>
<text x="0" y="0" font-size="12" text-anchor="middle" fill="#1a1a1a" transform="translate(248,297) rotate(-90)" >|FFT| intensity (arb. units)</text>
<text x="236" y="219.6" font-size="12.5" text-anchor="start" fill="#000" font-weight="bold" >d</text>
<path d="M482.3,41.5 L483,41.4 L483.7,41.4 L484.4,41 L485.2,41 L485.9,40.4 L486.6,39.9 L487.3,39.9 L488,38.3 L488.7,37.5 L489.5,36.6 L490.2,35.3 L490.9,33.5 L491.6,32 L492.3,31.8 L493,31.7 L493.8,32.7 L494.5,34.9 L495.2,36.2 L495.9,37.7 L496.6,38.4 L497.3,38.9 L498.1,38.6 L498.8,37.6 L499.5,37.7 L500.2,38.2 L500.9,38.5 L501.6,39.2 L502.3,39.6 L503.1,39.1 L503.8,38.9 L504.5,38.2 L505.2,37.1 L505.9,34.8 L506.6,32.3 L507.4,29.5 L508.1,26.3 L508.8,22.1 L509.5,18.6 L510.2,16 L510.9,15.1 L511.7,15.7 L512.4,17.6 L513.1,20.7 L513.8,22.8 L514.5,24.3 L515.2,24.9 L516,26 L516.7,26.2 L517.4,25.9 L518.1,27.1 L518.8,28.3 L519.5,29 L520.2,30.1 L521,31.4 L521.7,33.7 L522.4,33.9 L523.1,34.5 L523.8,34.7 L524.5,34.9 L525.3,35.7 L526,34.8 L526.7,34.9 L527.4,35.1 L528.1,33.8 L528.8,33.1 L529.6,32.2 L530.3,31.2 L531,30.8 L531.7,30.8 L532.4,30.1 L533.1,30.4 L533.9,30.4 L534.6,30.5 L535.3,31.7 L536,31.2 L536.7,31.8 L537.4,32.2 L538.1,33.1 L538.9,32.6 L539.6,33.6 L540.3,33.1 L541,34.3 L541.7,34.8 L542.4,35 L543.2,35.5 L543.9,35.9 L544.6,36.6 L545.3,36.6 L546,38 L546.7,37.5 L547.5,38 L548.2,38.3 L548.9,38.7 L549.6,38.9 L550.3,39.3 L551,39.2 L551.8,39.4 L552.5,40 L553.2,40.8 L553.9,41.5 L554.6,40.9 L555.3,41.6 L556,41.5 L556.8,42.4 L557.5,42.3 L558.2,43.5 L558.9,42.5 L559.6,43.2 L560.3,42.8 L561.1,42.9 L561.8,43.2 L562.5,42.8 L563.2,43.4 L563.9,43.1 L564.6,43.5 L565.4,43.5 L566.1,42.7 L566.8,43.2 L567.5,43.4 L568.2,43.2 L568.9,43.6 L569.7,43.6 L570.4,43.4 L571.1,43.7 L571.8,43.5 L572.5,43.4 L573.2,43.8 L573.9,43.5 L574.7,43.8 L575.4,43.4 L576.1,43.5 L576.8,43.5 L577.5,43.7 L578.2,43.1 L579,43.8 L579.7,43.6 L580.4,43.6 L581.1,43.3 L581.8,43.7 L582.5,43.8 L583.3,44 L584,43.7 L584.7,43.9 L585.4,43.9 L586.1,43.6 L586.8,43.8 L587.6,43.3 L588.3,43.4 L589,43.9 L589.7,43.9 L590.4,43.8 L591.1,43.9 L591.8,44.3 L592.6,43.5 L593.3,44 L594,43.3 L594.7,43.7 L595.4,44.1 L596.1,43.9 L596.9,43.6 L597.6,44.5 L598.3,43.6 L599,43.5 L599.7,44 L600.4,43.7 L601.2,44.2 L601.9,44 L602.6,44.1 L603.3,44.2 L604,44.4 L604.7,44.1 L605.5,43.9 L606.2,43.8 L606.9,44 L607.6,44.2 L608.3,44.2 L609,43.8 L609.7,44.2 L610.5,43.9 L611.2,43.9 L611.9,44.8 L612.6,43.9 L613.3,44.6 L614,43.9 L614.8,44.5 L615.5,44.1 L616.2,44.2 L616.9,44.7 L617.6,44.3 L618.3,44 L619.1,44 L619.8,44 L620.5,44.6 L621.2,44.5 L621.9,44 L622.6,44.2 L623.4,44.8 L624.1,44.3 L624.8,44.1 L625.5,44.8 L626.2,44.3 L626.9,44.3 L627.6,44.7 L628.4,44.7 L629.1,44.7 L629.8,44.1 L630.5,44.1 L631.2,44.2 L631.9,44.4 L632.7,44.1 L633.4,44.6 L634.1,44.1 L634.8,44.3 L635.5,44.4 L636.2,44.6 L637,44.1 L637.7,44.4 L638.4,44.8 L639.1,44.7 L639.8,44 L640.5,44.7 L641.3,44.9 L642,44.3 L642.7,44 L643.4,44.4 L644.1,44.7 L644.8,44 L645.5,44.6 L646.3,45.1 L647,44.4 L647.7,44.8 L648.4,44.8 L649.1,44.5 L649.8,44 L650.6,44.8 L651.3,44.7 L652,45 L652.7,44.4 L653.4,45 L654.1,44.9 L654.9,44.7 L655.6,45 L656.3,44.6 L657,45.2 L657.7,45.1 L658.4,45.1 L659.2,45 L659.9,44.8 L660.6,44.5" fill="none" stroke="#d8383a" stroke-width="1.4" stroke-linejoin="round"/>
<text x="659" y="38" font-size="12" text-anchor="end" fill="#1a1a1a" font-weight="normal" >C6</text>
<path d="M482.3,77.4 L483,77.4 L483.7,77.3 L484.4,77 L485.2,77.5 L485.9,76.6 L486.6,77.1 L487.3,76.8 L488,76.6 L488.7,76.1 L489.5,76.3 L490.2,76.4 L490.9,76.3 L491.6,76.7 L492.3,76.9 L493,76 L493.8,76.5 L494.5,75.6 L495.2,75.8 L495.9,75.9 L496.6,75.9 L497.3,75.3 L498.1,74.9 L498.8,74.6 L499.5,74.6 L500.2,74.8 L500.9,74.9 L501.6,74.9 L502.3,74.4 L503.1,74.6 L503.8,73.5 L504.5,73.4 L505.2,73.5 L505.9,72.9 L506.6,72.2 L507.4,71.3 L508.1,71.5 L508.8,70.4 L509.5,69.3 L510.2,67.4 L510.9,66.5 L511.7,64.4 L512.4,61.6 L513.1,57.7 L513.8,54.7 L514.5,52.4 L515.2,50 L516,48.9 L516.7,51 L517.4,53.7 L518.1,56.1 L518.8,58.5 L519.5,61.4 L520.2,64.9 L521,67.1 L521.7,69.3 L522.4,69.6 L523.1,70.5 L523.8,72.6 L524.5,72.4 L525.3,72.9 L526,73.2 L526.7,72.5 L527.4,72.4 L528.1,73 L528.8,71.8 L529.6,71.9 L530.3,70.7 L531,69.3 L531.7,67.8 L532.4,67.6 L533.1,66.5 L533.9,65.6 L534.6,64.8 L535.3,64.3 L536,65.5 L536.7,65.6 L537.4,67.1 L538.1,67.4 L538.9,68.6 L539.6,69.5 L540.3,70.6 L541,71.5 L541.7,71.9 L542.4,72.1 L543.2,72.9 L543.9,72.7 L544.6,73.5 L545.3,73.6 L546,72.9 L546.7,73.2 L547.5,72.2 L548.2,71.5 L548.9,71.6 L549.6,71 L550.3,69.7 L551,68.6 L551.8,67.5 L552.5,67.9 L553.2,66.2 L553.9,65.3 L554.6,64.4 L555.3,62.3 L556,60.6 L556.8,60.2 L557.5,59.4 L558.2,59 L558.9,58.6 L559.6,59.1 L560.3,59.1 L561.1,60.7 L561.8,61.8 L562.5,63.1 L563.2,64.8 L563.9,65.8 L564.6,66.5 L565.4,67.4 L566.1,68.5 L566.8,69 L567.5,69.5 L568.2,69.8 L568.9,70.6 L569.7,71.1 L570.4,70.2 L571.1,70.9 L571.8,71.2 L572.5,71.3 L573.2,71.3 L573.9,71.8 L574.7,71.8 L575.4,71.9 L576.1,72.5 L576.8,72.9 L577.5,72.8 L578.2,73.2 L579,72.7 L579.7,73.3 L580.4,73.2 L581.1,73.3 L581.8,73.4 L582.5,73.9 L583.3,73.3 L584,73.7 L584.7,74.4 L585.4,73.9 L586.1,73.8 L586.8,74.5 L587.6,73.8 L588.3,73.9 L589,74.8 L589.7,74.4 L590.4,74.6 L591.1,74.9 L591.8,74.7 L592.6,74.6 L593.3,74.7 L594,75 L594.7,74.2 L595.4,74.8 L596.1,74.4 L596.9,74.7 L597.6,74.5 L598.3,75.4 L599,74.8 L599.7,75.3 L600.4,74.9 L601.2,74.9 L601.9,75 L602.6,74.5 L603.3,75.4 L604,75.5 L604.7,75.2 L605.5,75.3 L606.2,75.2 L606.9,75.4 L607.6,75.3 L608.3,75.4 L609,74.9 L609.7,75.2 L610.5,75.1 L611.2,75.4 L611.9,75.4 L612.6,75.2 L613.3,75.9 L614,75.3 L614.8,75.3 L615.5,75.4 L616.2,75.7 L616.9,75.4 L617.6,75.5 L618.3,75.8 L619.1,75.1 L619.8,74.7 L620.5,75.2 L621.2,75.3 L621.9,75.6 L622.6,75.6 L623.4,75.1 L624.1,75.1 L624.8,75.3 L625.5,74.6 L626.2,75.6 L626.9,74.8 L627.6,74.9 L628.4,74.6 L629.1,74.7 L629.8,74.8 L630.5,74.8 L631.2,75.1 L631.9,75 L632.7,74.9 L633.4,74.4 L634.1,74.4 L634.8,73.9 L635.5,73.9 L636.2,73.3 L637,74.3 L637.7,73.3 L638.4,73.3 L639.1,73.3 L639.8,73.4 L640.5,73 L641.3,73.7 L642,73.7 L642.7,74.3 L643.4,73.7 L644.1,74.4 L644.8,74.7 L645.5,74.8 L646.3,75.1 L647,74.7 L647.7,75.7 L648.4,75.5 L649.1,75.3 L649.8,75.7 L650.6,76 L651.3,75.6 L652,76.4 L652.7,76.9 L653.4,76.4 L654.1,76.1 L654.9,76 L655.6,76.9 L656.3,77 L657,76.4 L657.7,76.9 L658.4,77 L659.2,77.1 L659.9,76.8 L660.6,77.1" fill="none" stroke="#ee8a2d" stroke-width="1.4" stroke-linejoin="round"/>
<text x="659" y="71.1" font-size="12" text-anchor="end" fill="#1a1a1a" font-weight="normal" >C5</text>
<path d="M482.3,120.2 L483,120.6 L483.7,121.1 L484.4,120.6 L485.2,121.1 L485.9,121.1 L486.6,121.3 L487.3,120.9 L488,121.6 L488.7,121.8 L489.5,121.4 L490.2,122.3 L490.9,121.8 L491.6,122.6 L492.3,121.6 L493,122.1 L493.8,122 L494.5,121.4 L495.2,121.2 L495.9,120.6 L496.6,119.7 L497.3,120.1 L498.1,119.6 L498.8,119.8 L499.5,119.1 L500.2,119.1 L500.9,119.8 L501.6,119.6 L502.3,120.3 L503.1,120 L503.8,120.3 L504.5,119.7 L505.2,119.5 L505.9,120.1 L506.6,118.8 L507.4,119.2 L508.1,119.2 L508.8,118.7 L509.5,118.2 L510.2,118.9 L510.9,118.3 L511.7,118.1 L512.4,117.4 L513.1,116.7 L513.8,114.4 L514.5,112.5 L515.2,110.7 L516,107.1 L516.7,103.7 L517.4,98 L518.1,93.5 L518.8,91.2 L519.5,89.7 L520.2,89 L521,89.1 L521.7,90.3 L522.4,92.2 L523.1,95.3 L523.8,98.3 L524.5,101.7 L525.3,105.3 L526,107.7 L526.7,110.4 L527.4,112.3 L528.1,113.9 L528.8,115.5 L529.6,117.3 L530.3,117.2 L531,117.2 L531.7,117.5 L532.4,117.4 L533.1,117.2 L533.9,116.8 L534.6,117.2 L535.3,117.2 L536,117.1 L536.7,117.1 L537.4,117 L538.1,116.5 L538.9,116.9 L539.6,116.9 L540.3,116.3 L541,115.9 L541.7,116 L542.4,116.4 L543.2,116.1 L543.9,115.7 L544.6,116.6 L545.3,116.3 L546,116 L546.7,115.2 L547.5,115.1 L548.2,114.5 L548.9,114 L549.6,113 L550.3,112.4 L551,112.2 L551.8,111.8 L552.5,110.8 L553.2,111.3 L553.9,110.8 L554.6,111.1 L555.3,111.5 L556,111.5 L556.8,110.8 L557.5,110.9 L558.2,110.4 L558.9,110.2 L559.6,108.9 L560.3,108.3 L561.1,108.3 L561.8,107.7 L562.5,107 L563.2,106.6 L563.9,106.6 L564.6,106.3 L565.4,106.2 L566.1,105.9 L566.8,105.6 L567.5,105.7 L568.2,106 L568.9,105.6 L569.7,106.4 L570.4,106.3 L571.1,106.3 L571.8,106.2 L572.5,103.9 L573.2,102.6 L573.9,100 L574.7,97.5 L575.4,94.8 L576.1,91.6 L576.8,88.1 L577.5,85.9 L578.2,83.6 L579,81.6 L579.7,81.2 L580.4,82.4 L581.1,84.3 L581.8,86.6 L582.5,90.6 L583.3,93.8 L584,97.7 L584.7,99.7 L585.4,101.8 L586.1,103.9 L586.8,106.2 L587.6,107.5 L588.3,109.5 L589,110.4 L589.7,111.7 L590.4,112.5 L591.1,113.2 L591.8,113.6 L592.6,113.5 L593.3,115 L594,115.4 L594.7,115.4 L595.4,115.3 L596.1,114.8 L596.9,115.3 L597.6,114.5 L598.3,115.2 L599,114 L599.7,113.5 L600.4,112.8 L601.2,111.9 L601.9,111.3 L602.6,110.9 L603.3,110.1 L604,109.4 L604.7,109.3 L605.5,108.2 L606.2,108.5 L606.9,107.6 L607.6,107.3 L608.3,106.9 L609,107.2 L609.7,107.1 L610.5,107.5 L611.2,108 L611.9,108.8 L612.6,109.3 L613.3,110.4 L614,111.3 L614.8,111.1 L615.5,111.7 L616.2,112.5 L616.9,113.2 L617.6,114.4 L618.3,114.3 L619.1,115 L619.8,115.4 L620.5,115.9 L621.2,116.7 L621.9,116.1 L622.6,116.9 L623.4,116.8 L624.1,117.3 L624.8,117.1 L625.5,117.2 L626.2,117.3 L626.9,117.9 L627.6,117.8 L628.4,117.8 L629.1,117.9 L629.8,117.9 L630.5,118.2 L631.2,118.4 L631.9,118.2 L632.7,118 L633.4,118.8 L634.1,118 L634.8,117.7 L635.5,117.7 L636.2,117.3 L637,117.3 L637.7,117.8 L638.4,117.4 L639.1,117.5 L639.8,117.5 L640.5,116.6 L641.3,117.4 L642,117.1 L642.7,117 L643.4,115.8 L644.1,116.4 L644.8,116.5 L645.5,115.9 L646.3,116.1 L647,116.1 L647.7,116.3 L648.4,116.7 L649.1,115.9 L649.8,116.3 L650.6,115.8 L651.3,116.2 L652,115.3 L652.7,115.3 L653.4,115.5 L654.1,114.8 L654.9,115.6 L655.6,115.2 L656.3,114.5 L657,114.9 L657.7,115.5 L658.4,115.1 L659.2,115.6 L659.9,115.8 L660.6,115.6" fill="none" stroke="#9d8fe6" stroke-width="1.4" stroke-linejoin="round"/>
<text x="659" y="108.3" font-size="12" text-anchor="end" fill="#1a1a1a" font-weight="normal" >C4</text>
<path d="M482.3,162.2 L483,162.1 L483.7,161.8 L484.4,161.5 L485.2,162.1 L485.9,162.3 L486.6,162.3 L487.3,162.2 L488,162.2 L488.7,162.8 L489.5,162.1 L490.2,161.9 L490.9,161.8 L491.6,161.3 L492.3,161.8 L493,161.9 L493.8,161.7 L494.5,161.9 L495.2,162.2 L495.9,161.5 L496.6,161.6 L497.3,161.3 L498.1,161.9 L498.8,161.2 L499.5,161.3 L500.2,161.6 L500.9,161 L501.6,161.3 L502.3,161.4 L503.1,161.4 L503.8,161.4 L504.5,161.4 L505.2,161.6 L505.9,160.8 L506.6,160.5 L507.4,160.2 L508.1,159.9 L508.8,159.4 L509.5,159.2 L510.2,157.6 L510.9,155 L511.7,152.3 L512.4,148.3 L513.1,143.4 L513.8,139.4 L514.5,133.1 L515.2,129 L516,126.7 L516.7,127.5 L517.4,130.3 L518.1,136.2 L518.8,143 L519.5,149.3 L520.2,153.6 L521,156.2 L521.7,156.9 L522.4,158.8 L523.1,158.6 L523.8,159.7 L524.5,159.6 L525.3,160.2 L526,160.3 L526.7,160.1 L527.4,160.5 L528.1,159.8 L528.8,160.3 L529.6,159.9 L530.3,160.9 L531,160.4 L531.7,159.8 L532.4,159.9 L533.1,160.5 L533.9,160.4 L534.6,160.3 L535.3,159.9 L536,160.1 L536.7,160.6 L537.4,160.5 L538.1,159.6 L538.9,159.5 L539.6,159.4 L540.3,159.6 L541,159.1 L541.7,158.4 L542.4,158.4 L543.2,157.5 L543.9,157.6 L544.6,156.7 L545.3,155.9 L546,154.7 L546.7,153.8 L547.5,151.5 L548.2,150.3 L548.9,148.2 L549.6,147.3 L550.3,147.3 L551,148.4 L551.8,149 L552.5,150.6 L553.2,152 L553.9,153.1 L554.6,154.6 L555.3,155.3 L556,156.3 L556.8,156.9 L557.5,157.5 L558.2,158 L558.9,157.9 L559.6,157.6 L560.3,157.7 L561.1,157.6 L561.8,158.4 L562.5,157.6 L563.2,157.6 L563.9,157.6 L564.6,156.7 L565.4,155.9 L566.1,155.2 L566.8,154.1 L567.5,153.4 L568.2,151 L568.9,148.8 L569.7,146.1 L570.4,142.8 L571.1,138.1 L571.8,135.9 L572.5,132.8 L573.2,131 L573.9,129.5 L574.7,130.4 L575.4,131.3 L576.1,134.1 L576.8,136.6 L577.5,139.1 L578.2,142.2 L579,145.8 L579.7,146.6 L580.4,145.5 L581.1,143.5 L581.8,141.1 L582.5,138.8 L583.3,137 L584,135.4 L584.7,135.9 L585.4,137.3 L586.1,139.7 L586.8,141.3 L587.6,144.4 L588.3,147.1 L589,150 L589.7,151.5 L590.4,152.7 L591.1,154 L591.8,155.2 L592.6,155.9 L593.3,156.1 L594,156 L594.7,156.9 L595.4,156.7 L596.1,156.7 L596.9,156.4 L597.6,156.8 L598.3,155.6 L599,155.3 L599.7,154.7 L600.4,154.4 L601.2,154.4 L601.9,153.7 L602.6,152.6 L603.3,152.1 L604,150.4 L604.7,149.1 L605.5,146.6 L606.2,145.9 L606.9,144.3 L607.6,142.5 L608.3,141.7 L609,140.2 L609.7,141 L610.5,141.1 L611.2,142.5 L611.9,144 L612.6,145.1 L613.3,147 L614,148.6 L614.8,150.2 L615.5,151.8 L616.2,153.1 L616.9,154.4 L617.6,155.8 L618.3,156.8 L619.1,157.1 L619.8,157.9 L620.5,159 L621.2,158.5 L621.9,158.9 L622.6,159.2 L623.4,159.8 L624.1,160.1 L624.8,160 L625.5,160 L626.2,160.4 L626.9,160.2 L627.6,160.5 L628.4,160.4 L629.1,160.9 L629.8,160.4 L630.5,160.5 L631.2,160.9 L631.9,160.4 L632.7,160.7 L633.4,160.6 L634.1,160.5 L634.8,160.8 L635.5,160.9 L636.2,161.1 L637,160.2 L637.7,160.7 L638.4,160.5 L639.1,160.3 L639.8,159.9 L640.5,160.1 L641.3,160.4 L642,159.7 L642.7,159.7 L643.4,159.6 L644.1,159.6 L644.8,159.6 L645.5,158.9 L646.3,158.7 L647,159.2 L647.7,159 L648.4,159.2 L649.1,158.8 L649.8,158.6 L650.6,157.8 L651.3,157.3 L652,157.8 L652.7,156.9 L653.4,156.9 L654.1,156.6 L654.9,156.1 L655.6,156.7 L656.3,156.1 L657,156.4 L657.7,156.8 L658.4,157.2 L659.2,157.4 L659.9,157.9 L660.6,159.1" fill="none" stroke="#2b5d9f" stroke-width="1.4" stroke-linejoin="round"/>
<text x="659" y="151.5" font-size="12" text-anchor="end" fill="#1a1a1a" font-weight="normal" >C3</text>
<rect x="482.8" y="18.4" width="17.1" height="33.1" fill="none" stroke="#d84545" stroke-width="0.9" stroke-dasharray="4,1.5,1,1.5"/>
<rect x="503.5" y="12.8" width="26.7" height="150.4" fill="none" stroke="#f0a055" stroke-width="0.9" stroke-dasharray="4,1.5,1,1.5"/>
<rect x="563.4" y="76.5" width="30.2" height="86.4" fill="none" stroke="#a55fc8" stroke-width="0.9" stroke-dasharray="4,1.5,1,1.5"/>
<rect x="597.4" y="99.4" width="26.1" height="63.9" fill="none" stroke="#4f7dc2" stroke-width="0.9" stroke-dasharray="4,1.5,1,1.5"/>
<text x="492.3" y="10" font-size="11.5" text-anchor="middle" fill="#1a1a1a" font-weight="normal" >M1</text>
<text x="517.4" y="10" font-size="11.5" text-anchor="middle" fill="#1a1a1a" font-weight="normal" >M2</text>
<text x="581.2" y="68.6" font-size="11.5" text-anchor="middle" fill="#1a1a1a" font-weight="normal" >M3</text>
<text x="611.2" y="93.6" font-size="11.5" text-anchor="middle" fill="#1a1a1a" font-weight="normal" >M4</text>
<rect x="482.3" y="12.3" width="178.99999999999994" height="152.0" fill="none" stroke="#7a7a7a" stroke-width="0.9"/>
<line x1="500.2" y1="164.3" x2="500.2" y2="162.5" stroke="#7a7a7a" stroke-width="0.9"/>
<line x1="518.1" y1="164.3" x2="518.1" y2="161.3" stroke="#7a7a7a" stroke-width="0.9"/>
<line x1="536" y1="164.3" x2="536" y2="162.5" stroke="#7a7a7a" stroke-width="0.9"/>
<line x1="553.9" y1="164.3" x2="553.9" y2="161.3" stroke="#7a7a7a" stroke-width="0.9"/>
<line x1="571.8" y1="164.3" x2="571.8" y2="162.5" stroke="#7a7a7a" stroke-width="0.9"/>
<line x1="589.7" y1="164.3" x2="589.7" y2="161.3" stroke="#7a7a7a" stroke-width="0.9"/>
<line x1="607.6" y1="164.3" x2="607.6" y2="162.5" stroke="#7a7a7a" stroke-width="0.9"/>
<line x1="625.5" y1="164.3" x2="625.5" y2="161.3" stroke="#7a7a7a" stroke-width="0.9"/>
<line x1="643.4" y1="164.3" x2="643.4" y2="162.5" stroke="#7a7a7a" stroke-width="0.9"/>
<line x1="661.3" y1="164.3" x2="661.3" y2="161.3" stroke="#7a7a7a" stroke-width="0.9"/>
<text x="486.8" y="177.5" font-size="12" text-anchor="middle" fill="#1a1a1a" font-weight="normal" >20</text>
<text x="518.1" y="177.5" font-size="12" text-anchor="middle" fill="#1a1a1a" font-weight="normal" >40</text>
<text x="553.9" y="177.5" font-size="12" text-anchor="middle" fill="#1a1a1a" font-weight="normal" >60</text>
<text x="589.7" y="177.5" font-size="12" text-anchor="middle" fill="#1a1a1a" font-weight="normal" >80</text>
<text x="625.5" y="177.5" font-size="12" text-anchor="middle" fill="#1a1a1a" font-weight="normal" >100</text>
<text x="661.3" y="177.5" font-size="12" text-anchor="middle" fill="#1a1a1a" font-weight="normal" >120</text>
<text x="571.5" y="195.5" font-size="12" text-anchor="middle" fill="#1a1a1a" font-weight="normal" >Wavenumber (cm<tspan font-size="8" dy="-4.5">-1</tspan><tspan dy="4.5">)</tspan></text>
<text x="0" y="0" font-size="12" text-anchor="middle" fill="#1a1a1a" transform="translate(470,88.4) rotate(-90)" >Raman intensity (arb. units)</text>
<text x="466" y="7" font-size="12.5" text-anchor="start" fill="#000" font-weight="bold" >e</text>
<defs>
<radialGradient id="gBr" cx="0.38" cy="0.35" r="0.7"><stop offset="0" stop-color="#ff9a9a"/><stop offset="0.35" stop-color="#e84545"/><stop offset="1" stop-color="#a81818"/></radialGradient>
<radialGradient id="gPb" cx="0.38" cy="0.35" r="0.7"><stop offset="0" stop-color="#b0b0b0"/><stop offset="0.4" stop-color="#6a6a6a"/><stop offset="1" stop-color="#2e2e2e"/></radialGradient>
<radialGradient id="gN" cx="0.38" cy="0.35" r="0.7"><stop offset="0" stop-color="#9a9aff"/><stop offset="0.45" stop-color="#4a4ae0"/><stop offset="1" stop-color="#2020a0"/></radialGradient>
<radialGradient id="gH" cx="0.38" cy="0.35" r="0.7"><stop offset="0" stop-color="#e0ffff"/><stop offset="0.5" stop-color="#70e0f0"/><stop offset="1" stop-color="#30a0c0"/></radialGradient>
<marker id="ah" viewBox="0 0 10 10" refX="5" refY="5" markerWidth="3.0" markerHeight="3.0" orient="auto-start-reverse"><path d="M0,0 L10,5 L0,10 z" fill="#0f1f5c"/></marker>
</defs>
<line x1="503.6" y1="283.1" x2="505.5" y2="261.8" stroke="#e3a23c" stroke-width="1.0"/>
<line x1="503.6" y1="283.1" x2="483.5" y2="278.2" stroke="#e3a23c" stroke-width="1.0"/>
<line x1="503.6" y1="283.1" x2="522" y2="288.5" stroke="#e3a23c" stroke-width="1.0"/>
<line x1="503.6" y1="283.1" x2="497.5" y2="302.7" stroke="#e3a23c" stroke-width="1.0"/>
<line x1="540.3" y1="281.9" x2="534.5" y2="261.8" stroke="#e3a23c" stroke-width="1.0"/>
<line x1="540.3" y1="281.9" x2="560.2" y2="278.9" stroke="#e3a23c" stroke-width="1.0"/>
<line x1="540.3" y1="281.9" x2="522" y2="288.5" stroke="#e3a23c" stroke-width="1.0"/>
<line x1="540.3" y1="281.9" x2="545.5" y2="302.7" stroke="#e3a23c" stroke-width="1.0"/>
<line x1="503.6" y1="322.3" x2="497.5" y2="302.7" stroke="#e3a23c" stroke-width="1.0"/>
<line x1="503.6" y1="322.3" x2="484.7" y2="329.7" stroke="#e3a23c" stroke-width="1.0"/>
<line x1="503.6" y1="322.3" x2="523.4" y2="319.9" stroke="#e3a23c" stroke-width="1.0"/>
<line x1="503.6" y1="322.3" x2="508" y2="343.6" stroke="#e3a23c" stroke-width="1.0"/>
<line x1="543.5" y1="324" x2="545.5" y2="302.7" stroke="#e3a23c" stroke-width="1.0"/>
<line x1="543.5" y1="324" x2="562.6" y2="330.4" stroke="#e3a23c" stroke-width="1.0"/>
<line x1="543.5" y1="324" x2="523.4" y2="319.9" stroke="#e3a23c" stroke-width="1.0"/>
<line x1="543.5" y1="324" x2="537.4" y2="343.6" stroke="#e3a23c" stroke-width="1.0"/>
<line x1="510.4" y1="302.7" x2="515.3" y2="301" stroke="#8888cc" stroke-width="1.0"/>
<line x1="515.3" y1="301" x2="524.4" y2="307.6" stroke="#999999" stroke-width="1.0"/>
<line x1="524.4" y1="307.6" x2="528.8" y2="304.4" stroke="#8888cc" stroke-width="1.0"/>
<circle cx="510.4" cy="302.7" r="1.8" fill="url(#gN)"/>
<circle cx="515.3" cy="301" r="1.8" fill="url(#gN)"/>
<circle cx="524.4" cy="307.6" r="1.8" fill="url(#gN)"/>
<circle cx="528.8" cy="304.4" r="1.8" fill="url(#gN)"/>
<circle cx="503.6" cy="283.1" r="3.6" fill="url(#gPb)"/>
<circle cx="540.3" cy="281.9" r="3.6" fill="url(#gPb)"/>
<circle cx="503.6" cy="322.3" r="3.6" fill="url(#gPb)"/>
<circle cx="543.5" cy="324" r="3.6" fill="url(#gPb)"/>
<circle cx="505.5" cy="261.8" r="3.6" fill="url(#gBr)"/>
<circle cx="534.5" cy="261.8" r="3.6" fill="url(#gBr)"/>
<circle cx="483.5" cy="278.2" r="3.6" fill="url(#gBr)"/>
<circle cx="560.2" cy="278.9" r="3.6" fill="url(#gBr)"/>
<circle cx="522" cy="288.5" r="3.6" fill="url(#gBr)"/>
<circle cx="497.5" cy="302.7" r="3.6" fill="url(#gBr)"/>
<circle cx="545.5" cy="302.7" r="3.6" fill="url(#gBr)"/>
<circle cx="523.4" cy="319.9" r="3.6" fill="url(#gBr)"/>
<circle cx="484.7" cy="329.7" r="3.6" fill="url(#gBr)"/>
<circle cx="562.6" cy="330.4" r="3.6" fill="url(#gBr)"/>
<circle cx="508" cy="343.6" r="3.6" fill="url(#gBr)"/>
<circle cx="537.4" cy="343.6" r="3.6" fill="url(#gBr)"/>
<line x1="498.9" y1="259.8" x2="512.2" y2="264.2" stroke="#0f1f5c" stroke-width="1.8" marker-end="url(#ah)"/>
<line x1="541.1" y1="259.8" x2="527.8" y2="266.2" stroke="#0f1f5c" stroke-width="1.8" marker-end="url(#ah)"/>
<line x1="484.7" y1="284.3" x2="486.7" y2="271.1" stroke="#0f1f5c" stroke-width="1.8" marker-end="url(#ah)"/>
<line x1="562.6" y1="286.3" x2="558.7" y2="271.1" stroke="#0f1f5c" stroke-width="1.8" marker-end="url(#ah)"/>
<line x1="522" y1="281.4" x2="522" y2="297.1" stroke="#0f1f5c" stroke-width="1.8" marker-end="url(#ah)"/>
<line x1="504.3" y1="302.7" x2="490.1" y2="302.7" stroke="#0f1f5c" stroke-width="1.8" marker-end="url(#ah)"/>
<line x1="541.1" y1="302.7" x2="554.8" y2="302.7" stroke="#0f1f5c" stroke-width="1.8" marker-end="url(#ah)"/>
<line x1="523.4" y1="326.5" x2="523.4" y2="311.3" stroke="#0f1f5c" stroke-width="1.8" marker-end="url(#ah)"/>
<line x1="482.3" y1="322.5" x2="487.6" y2="337.3" stroke="#0f1f5c" stroke-width="1.8" marker-end="url(#ah)"/>
<line x1="560.2" y1="324" x2="563.6" y2="338.2" stroke="#0f1f5c" stroke-width="1.8" marker-end="url(#ah)"/>
<line x1="502.8" y1="346.3" x2="516.1" y2="340.9" stroke="#0f1f5c" stroke-width="1.8" marker-end="url(#ah)"/>
<line x1="543.5" y1="346.3" x2="530.3" y2="341.4" stroke="#0f1f5c" stroke-width="1.8" marker-end="url(#ah)"/>
<line x1="607.2" y1="305" x2="582.7" y2="300" stroke="#e3a23c" stroke-width="1.0"/>
<line x1="607.2" y1="305" x2="608.6" y2="279.7" stroke="#e3a23c" stroke-width="1.0"/>
<line x1="607.2" y1="305" x2="605.8" y2="329" stroke="#e3a23c" stroke-width="1.0"/>
<line x1="607.2" y1="305" x2="631.4" y2="308.4" stroke="#e3a23c" stroke-width="1.0"/>
<line x1="607.2" y1="305" x2="610.3" y2="299.4" stroke="#e3a23c" stroke-width="1.0"/>
<line x1="607.2" y1="305" x2="603.8" y2="310.4" stroke="#e3a23c" stroke-width="1.0"/>
<line x1="653.7" y1="303.6" x2="646.7" y2="307.6" stroke="#e3a23c" stroke-width="1.0"/>
<line x1="653.7" y1="303.6" x2="647.5" y2="278.3" stroke="#e3a23c" stroke-width="1.0"/>
<line x1="653.7" y1="303.6" x2="660.2" y2="298" stroke="#e3a23c" stroke-width="1.0"/>
<line x1="653.7" y1="303.6" x2="659.6" y2="327.6" stroke="#e3a23c" stroke-width="1.0"/>
<line x1="631.4" y1="308.4" x2="646.7" y2="307.6" stroke="#e3a23c" stroke-width="1.0"/>
<line x1="660.2" y1="298" x2="676.5" y2="297.1" stroke="#e3a23c" stroke-width="1.0"/>
<line x1="632.6" y1="255.7" x2="637.6" y2="261.3" stroke="#7777cc" stroke-width="1.0"/>
<line x1="637.6" y1="261.3" x2="637.1" y2="272.3" stroke="#7777cc" stroke-width="1.0"/>
<line x1="637.1" y1="272.3" x2="627.8" y2="267.5" stroke="#7777cc" stroke-width="1.0"/>
<line x1="627.8" y1="267.5" x2="630.3" y2="260.5" stroke="#7777cc" stroke-width="1.0"/>
<line x1="630.3" y1="260.5" x2="632.6" y2="255.7" stroke="#7777cc" stroke-width="1.0"/>
<line x1="627.8" y1="335.8" x2="636.2" y2="340.8" stroke="#7777cc" stroke-width="1.0"/>
<line x1="636.2" y1="340.8" x2="636.5" y2="347.9" stroke="#7777cc" stroke-width="1.0"/>
<line x1="636.5" y1="347.9" x2="631.4" y2="352.7" stroke="#7777cc" stroke-width="1.0"/>
<line x1="631.4" y1="352.7" x2="627.8" y2="345.6" stroke="#7777cc" stroke-width="1.0"/>
<line x1="627.8" y1="345.6" x2="627.8" y2="335.8" stroke="#7777cc" stroke-width="1.0"/>
<line x1="637.1" y1="272.3" x2="634.3" y2="282.5" stroke="#99aacc" stroke-width="1.0"/>
<line x1="627.8" y1="335.8" x2="630.6" y2="324.8" stroke="#99aacc" stroke-width="1.0"/>
<circle cx="632.6" cy="255.7" r="2.1" fill="url(#gN)"/>
<circle cx="637.6" cy="261.3" r="2.1" fill="url(#gN)"/>
<circle cx="637.1" cy="272.3" r="2.1" fill="url(#gN)"/>
<circle cx="627.8" cy="267.5" r="2.1" fill="url(#gN)"/>
<circle cx="630.3" cy="260.5" r="2.1" fill="url(#gN)"/>
<circle cx="627.8" cy="335.8" r="2.1" fill="url(#gN)"/>
<circle cx="636.2" cy="340.8" r="2.1" fill="url(#gN)"/>
<circle cx="636.5" cy="347.9" r="2.1" fill="url(#gN)"/>
<circle cx="631.4" cy="352.7" r="2.1" fill="url(#gN)"/>
<circle cx="627.8" cy="345.6" r="2.1" fill="url(#gN)"/>
<circle cx="634.3" cy="282.5" r="1.7" fill="url(#gH)"/>
<circle cx="630.6" cy="324.8" r="1.7" fill="url(#gH)"/>
<circle cx="608.6" cy="279.7" r="4.1" fill="url(#gBr)"/>
<circle cx="610.3" cy="299.4" r="4.1" fill="url(#gBr)"/>
<circle cx="582.7" cy="300" r="4.1" fill="url(#gBr)"/>
<circle cx="603.8" cy="310.4" r="4.1" fill="url(#gBr)"/>
<circle cx="605.8" cy="329" r="4.1" fill="url(#gBr)"/>
<circle cx="631.4" cy="308.4" r="4.1" fill="url(#gBr)"/>
<circle cx="646.7" cy="307.6" r="4.1" fill="url(#gBr)"/>
<circle cx="647.5" cy="278.3" r="4.1" fill="url(#gBr)"/>
<circle cx="660.2" cy="298" r="4.1" fill="url(#gBr)"/>
<circle cx="676.5" cy="297.1" r="4.1" fill="url(#gBr)"/>
<circle cx="659.6" cy="327.6" r="4.1" fill="url(#gBr)"/>
<circle cx="607.2" cy="305" r="4.2" fill="url(#gPb)"/>
<circle cx="653.7" cy="303.6" r="4.2" fill="url(#gPb)"/>
<line x1="584.7" y1="309.3" x2="580.1" y2="290.7" stroke="#0f1f5c" stroke-width="2.1" marker-end="url(#ah)"/>
<line x1="610.3" y1="307.6" x2="607.8" y2="289" stroke="#0f1f5c" stroke-width="2.1" marker-end="url(#ah)"/>
<line x1="603.8" y1="300.2" x2="606.6" y2="320" stroke="#0f1f5c" stroke-width="2.1" marker-end="url(#ah)"/>
<line x1="630" y1="300.8" x2="633.1" y2="318.3" stroke="#0f1f5c" stroke-width="2.1" marker-end="url(#ah)"/>
<line x1="645" y1="300.2" x2="648.4" y2="317.7" stroke="#0f1f5c" stroke-width="2.1" marker-end="url(#ah)"/>
<line x1="661.9" y1="307" x2="658.5" y2="289" stroke="#0f1f5c" stroke-width="2.1" marker-end="url(#ah)"/>
<line x1="677.7" y1="305.3" x2="673.7" y2="289" stroke="#0f1f5c" stroke-width="2.1" marker-end="url(#ah)"/>
<text x="521.8" y="230.7" font-size="12" text-anchor="middle" fill="#1a1a1a" font-weight="normal" >M2 mode</text>
<text x="632.7" y="230.7" font-size="12" text-anchor="middle" fill="#1a1a1a" font-weight="normal" >M3 mode</text>
<text x="518.5" y="376.3" font-size="12" text-anchor="middle" fill="#1a1a1a" font-weight="normal" >Pb-Br bending</text>
<text x="583.6" y="376.3" font-size="12" text-anchor="start" fill="#1a1a1a" font-weight="normal" >Br-Pb-Br scissoring</text>
<text x="468.5" y="219.3" font-size="12.5" text-anchor="start" fill="#000" font-weight="bold" >f</text>
</svg>
</body></html>
